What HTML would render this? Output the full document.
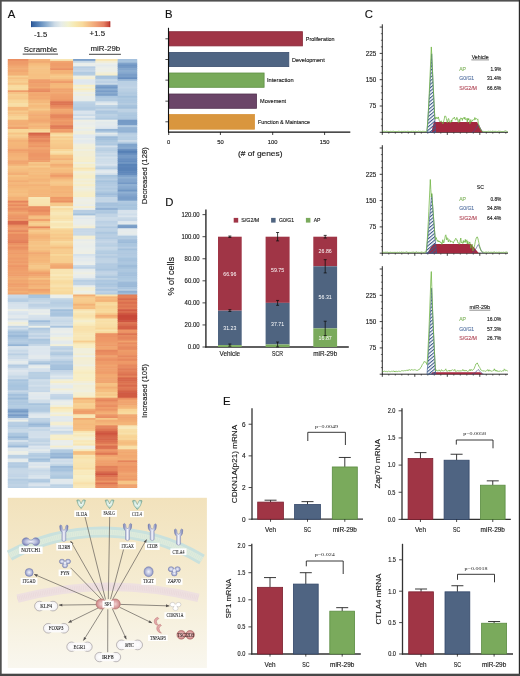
<!DOCTYPE html><html><head><meta charset="utf-8"><style>html,body{margin:0;padding:0;background:#fff;overflow:hidden}svg{display:block;will-change:transform}text{font-family:"Liberation Sans",sans-serif}</style></head><body>
<svg width="520" height="676" viewBox="0 0 520 676">
<defs>
<linearGradient id="cbar" x1="0" x2="1" y1="0" y2="0">
<stop offset="0" stop-color="#2c5a9a"/><stop offset="0.1" stop-color="#5a86ba"/><stop offset="0.2" stop-color="#92b2d2"/><stop offset="0.3" stop-color="#cddbe6"/>
<stop offset="0.38" stop-color="#e6ecea"/><stop offset="0.47" stop-color="#f2f2d0"/><stop offset="0.56" stop-color="#f7e8b0"/><stop offset="0.65" stop-color="#f8da9c"/>
<stop offset="0.73" stop-color="#f5c088"/><stop offset="0.82" stop-color="#f0a276"/><stop offset="0.92" stop-color="#e47e62"/><stop offset="1" stop-color="#c03a30"/>
</linearGradient>
<linearGradient id="netbg" x1="0" x2="0" y1="0" y2="1">
<stop offset="0" stop-color="#f2e2bc"/><stop offset="0.5" stop-color="#f5ecd2"/><stop offset="1" stop-color="#f9f7ef"/>
</linearGradient>
<pattern id="hatch" width="2.6" height="2.6" patternUnits="userSpaceOnUse" patternTransform="rotate(-40)">
<rect width="2.6" height="1.1" fill="#3d5a8c"/>
</pattern>
<radialGradient id="gblue" cx="0.5" cy="0.5" r="0.55"><stop offset="0" stop-color="#f2f3fa"/><stop offset="0.6" stop-color="#b4bada"/><stop offset="1" stop-color="#7880b6"/></radialGradient>
<radialGradient id="gmint" cx="0.5" cy="0.4" r="0.6"><stop offset="0" stop-color="#fbfefc"/><stop offset="0.6" stop-color="#cfe8de"/><stop offset="1" stop-color="#7cb1a0"/></radialGradient>
<radialGradient id="gred" cx="0.5" cy="0.5" r="0.6"><stop offset="0" stop-color="#f0d0d0"/><stop offset="0.6" stop-color="#d89a9a"/><stop offset="1" stop-color="#b86a6a"/></radialGradient>
<radialGradient id="ggray" cx="0.5" cy="0.5" r="0.6"><stop offset="0" stop-color="#ffffff"/><stop offset="0.7" stop-color="#f4f2f4"/><stop offset="1" stop-color="#dcd8dc"/></radialGradient>
<linearGradient id="gteal" x1="0" x2="0" y1="0" y2="1"><stop offset="0" stop-color="#c8e6e0"/><stop offset="1" stop-color="#6fa79c"/></linearGradient>
<linearGradient id="grecep" x1="0" x2="1" y1="0" y2="0"><stop offset="0" stop-color="#6c76ae"/><stop offset="0.5" stop-color="#f4f5fb"/><stop offset="1" stop-color="#6c76ae"/></linearGradient>
</defs>
<rect x="0.00" y="0.00" width="520.00" height="676.00" fill="#ffffff" />
<text x="7.70" y="17.60" font-size="11.3" text-anchor="start" fill="#111" stroke="#111" stroke-width="0.14" >A</text>
<rect x="31.00" y="21.30" width="79.20" height="5.80" fill="url(#cbar)" />
<rect x="31.00" y="21.30" width="0.80" height="5.80" fill="#2a5090" />
<rect x="109.40" y="21.30" width="0.80" height="5.80" fill="#b0302a" />
<text x="40.60" y="36.50" font-size="7.0" text-anchor="middle" fill="#222" stroke="#222" stroke-width="0.14" textLength="13.2" lengthAdjust="spacingAndGlyphs" >-1.5</text>
<text x="97.30" y="36.40" font-size="7.0" text-anchor="middle" fill="#222" stroke="#222" stroke-width="0.14" textLength="15.5" lengthAdjust="spacingAndGlyphs" >+1.5</text>
<text x="40.50" y="51.50" font-size="8.0" text-anchor="middle" fill="#222" stroke="#222" stroke-width="0.14" textLength="33.4" lengthAdjust="spacingAndGlyphs" >Scramble</text>
<line x1="22.70" y1="54.10" x2="58.00" y2="54.10" stroke="#444" stroke-width="1.0" />
<text x="105.30" y="51.20" font-size="8.0" text-anchor="middle" fill="#222" stroke="#222" stroke-width="0.14" textLength="29.6" lengthAdjust="spacingAndGlyphs" >miR-29b</text>
<line x1="89.00" y1="54.30" x2="120.90" y2="54.30" stroke="#444" stroke-width="1.0" />
<rect x="7.80" y="59.00" width="21.20" height="2.44" fill="#ea8f62" />
<rect x="7.80" y="60.84" width="21.20" height="2.44" fill="#ee9b69" />
<rect x="7.80" y="62.68" width="21.20" height="2.44" fill="#ee9c69" />
<rect x="7.80" y="64.52" width="21.20" height="2.44" fill="#f0a36e" />
<rect x="7.80" y="66.36" width="21.20" height="2.44" fill="#f1aa72" />
<rect x="7.80" y="68.20" width="21.20" height="2.44" fill="#f2ac73" />
<rect x="7.80" y="70.04" width="21.20" height="2.44" fill="#f1a770" />
<rect x="7.80" y="71.88" width="21.20" height="2.44" fill="#f3b076" />
<rect x="7.80" y="73.72" width="21.20" height="2.44" fill="#f3b076" />
<rect x="7.80" y="75.56" width="21.20" height="2.44" fill="#f7d092" />
<rect x="7.80" y="77.40" width="21.20" height="2.44" fill="#f6c183" />
<rect x="7.80" y="79.24" width="21.20" height="2.44" fill="#f7ca8c" />
<rect x="7.80" y="81.08" width="21.20" height="2.44" fill="#f7ce90" />
<rect x="7.80" y="82.92" width="21.20" height="2.44" fill="#f6c385" />
<rect x="7.80" y="84.76" width="21.20" height="2.44" fill="#f8da9e" />
<rect x="7.80" y="86.60" width="21.20" height="2.44" fill="#f8dda3" />
<rect x="7.80" y="88.44" width="21.20" height="2.44" fill="#f8da9e" />
<rect x="7.80" y="90.28" width="21.20" height="2.44" fill="#ef9d6a" />
<rect x="7.80" y="92.12" width="21.20" height="2.44" fill="#f6c385" />
<rect x="7.80" y="93.96" width="21.20" height="2.44" fill="#f7cf91" />
<rect x="7.80" y="95.80" width="21.20" height="2.44" fill="#f7cb8d" />
<rect x="7.80" y="97.64" width="21.20" height="2.44" fill="#f7c98b" />
<rect x="7.80" y="99.48" width="21.20" height="2.44" fill="#f8d799" />
<rect x="7.80" y="101.32" width="21.20" height="2.44" fill="#f8d89a" />
<rect x="7.80" y="103.16" width="21.20" height="2.44" fill="#f8dfa7" />
<rect x="7.80" y="105.00" width="21.20" height="2.44" fill="#f8dea5" />
<rect x="7.80" y="106.84" width="21.20" height="2.44" fill="#f5b87b" />
<rect x="7.80" y="108.68" width="21.20" height="2.44" fill="#f4b77a" />
<rect x="7.80" y="110.52" width="21.20" height="2.44" fill="#f7ca8c" />
<rect x="7.80" y="112.36" width="21.20" height="2.44" fill="#f6c082" />
<rect x="7.80" y="114.20" width="21.20" height="2.44" fill="#f7ca8c" />
<rect x="7.80" y="116.04" width="21.20" height="2.44" fill="#f7d395" />
<rect x="7.80" y="117.88" width="21.20" height="2.44" fill="#f8d698" />
<rect x="7.80" y="119.71" width="21.20" height="2.44" fill="#f3b176" />
<rect x="7.80" y="121.55" width="21.20" height="2.44" fill="#f3af75" />
<rect x="7.80" y="123.39" width="21.20" height="2.44" fill="#f2ae75" />
<rect x="7.80" y="125.23" width="21.20" height="2.44" fill="#f3b076" />
<rect x="7.80" y="127.07" width="21.20" height="2.44" fill="#ee9d6a" />
<rect x="7.80" y="128.91" width="21.20" height="2.44" fill="#f8d799" />
<rect x="7.80" y="130.75" width="21.20" height="2.44" fill="#f8d89a" />
<rect x="7.80" y="132.59" width="21.20" height="2.44" fill="#f6c486" />
<rect x="7.80" y="134.43" width="21.20" height="2.44" fill="#f7d193" />
<rect x="7.80" y="136.27" width="21.20" height="2.44" fill="#f6c88a" />
<rect x="7.80" y="138.11" width="21.20" height="2.44" fill="#f5bc7e" />
<rect x="7.80" y="139.95" width="21.20" height="2.44" fill="#f3b177" />
<rect x="7.80" y="141.79" width="21.20" height="2.44" fill="#f4b77a" />
<rect x="7.80" y="143.63" width="21.20" height="2.44" fill="#f4b679" />
<rect x="7.80" y="145.47" width="21.20" height="2.44" fill="#f4b478" />
<rect x="7.80" y="147.31" width="21.20" height="2.44" fill="#f3b176" />
<rect x="7.80" y="149.15" width="21.20" height="2.44" fill="#ef9e6b" />
<rect x="7.80" y="150.99" width="21.20" height="2.44" fill="#f1a770" />
<rect x="7.80" y="152.83" width="21.20" height="2.44" fill="#f3b076" />
<rect x="7.80" y="154.67" width="21.20" height="2.44" fill="#f3b176" />
<rect x="7.80" y="156.51" width="21.20" height="2.44" fill="#f4b579" />
<rect x="7.80" y="158.35" width="21.20" height="2.44" fill="#f4b579" />
<rect x="7.80" y="160.19" width="21.20" height="2.44" fill="#f0a56f" />
<rect x="7.80" y="162.03" width="21.20" height="2.44" fill="#f1a670" />
<rect x="7.80" y="163.87" width="21.20" height="2.44" fill="#f3b177" />
<rect x="7.80" y="165.71" width="21.20" height="2.44" fill="#f6c587" />
<rect x="7.80" y="167.55" width="21.20" height="2.44" fill="#f6c183" />
<rect x="7.80" y="169.39" width="21.20" height="2.44" fill="#f5bd7f" />
<rect x="7.80" y="171.23" width="21.20" height="2.44" fill="#f4b679" />
<rect x="7.80" y="173.07" width="21.20" height="2.44" fill="#f2ad74" />
<rect x="7.80" y="174.91" width="21.20" height="2.44" fill="#f6c385" />
<rect x="7.80" y="176.75" width="21.20" height="2.44" fill="#f5bb7d" />
<rect x="7.80" y="178.59" width="21.20" height="2.44" fill="#f5b97c" />
<rect x="7.80" y="180.43" width="21.20" height="2.44" fill="#f2ad74" />
<rect x="7.80" y="182.27" width="21.20" height="2.44" fill="#f5b87b" />
<rect x="7.80" y="184.11" width="21.20" height="2.44" fill="#f3b277" />
<rect x="7.80" y="185.95" width="21.20" height="2.44" fill="#f4b679" />
<rect x="7.80" y="187.79" width="21.20" height="2.44" fill="#f5ba7c" />
<rect x="7.80" y="189.63" width="21.20" height="2.44" fill="#f5be80" />
<rect x="7.80" y="191.47" width="21.20" height="2.44" fill="#f5bb7d" />
<rect x="7.80" y="193.31" width="21.20" height="2.44" fill="#f6c082" />
<rect x="7.80" y="195.15" width="21.20" height="2.44" fill="#f5bb7d" />
<rect x="7.80" y="196.99" width="21.20" height="2.44" fill="#f3b076" />
<rect x="7.80" y="198.83" width="21.20" height="2.44" fill="#f3b277" />
<rect x="7.80" y="200.67" width="21.20" height="2.44" fill="#e5845c" />
<rect x="7.80" y="202.51" width="21.20" height="2.44" fill="#ef9e6b" />
<rect x="7.80" y="204.35" width="21.20" height="2.44" fill="#e88a5f" />
<rect x="7.80" y="206.19" width="21.20" height="2.44" fill="#ee9a68" />
<rect x="7.80" y="208.03" width="21.20" height="2.44" fill="#e98e62" />
<rect x="7.80" y="209.87" width="21.20" height="2.44" fill="#ed9766" />
<rect x="7.80" y="211.71" width="21.20" height="2.44" fill="#f1a972" />
<rect x="7.80" y="213.55" width="21.20" height="2.44" fill="#ef9e6b" />
<rect x="7.80" y="215.39" width="21.20" height="2.44" fill="#ed9766" />
<rect x="7.80" y="217.23" width="21.20" height="2.44" fill="#eb9364" />
<rect x="7.80" y="219.07" width="21.20" height="2.44" fill="#ee9c6a" />
<rect x="7.80" y="220.91" width="21.20" height="2.44" fill="#d8694c" />
<rect x="7.80" y="222.75" width="21.20" height="2.44" fill="#d7684b" />
<rect x="7.80" y="224.59" width="21.20" height="2.44" fill="#e98e61" />
<rect x="7.80" y="226.43" width="21.20" height="2.44" fill="#ee9968" />
<rect x="7.80" y="228.27" width="21.20" height="2.44" fill="#ee9b69" />
<rect x="7.80" y="230.11" width="21.20" height="2.44" fill="#e6885e" />
<rect x="7.80" y="231.95" width="21.20" height="2.44" fill="#ef9d6a" />
<rect x="7.80" y="233.79" width="21.20" height="2.44" fill="#e88a5f" />
<rect x="7.80" y="235.62" width="21.20" height="2.44" fill="#e88b60" />
<rect x="7.80" y="237.46" width="21.20" height="2.44" fill="#e88b60" />
<rect x="7.80" y="239.30" width="21.20" height="2.44" fill="#e5845c" />
<rect x="7.80" y="241.14" width="21.20" height="2.44" fill="#e27e58" />
<rect x="7.80" y="242.98" width="21.20" height="2.44" fill="#eb9163" />
<rect x="7.80" y="244.82" width="21.20" height="2.44" fill="#ee9c6a" />
<rect x="7.80" y="246.66" width="21.20" height="2.44" fill="#e98e61" />
<rect x="7.80" y="248.50" width="21.20" height="2.44" fill="#ec9565" />
<rect x="7.80" y="250.34" width="21.20" height="2.44" fill="#ef9f6c" />
<rect x="7.80" y="252.18" width="21.20" height="2.44" fill="#ee9b69" />
<rect x="7.80" y="254.02" width="21.20" height="2.44" fill="#f0a26d" />
<rect x="7.80" y="255.86" width="21.20" height="2.44" fill="#f0a36e" />
<rect x="7.80" y="257.70" width="21.20" height="2.44" fill="#ee9c6a" />
<rect x="7.80" y="259.54" width="21.20" height="2.44" fill="#efa16d" />
<rect x="7.80" y="261.38" width="21.20" height="2.44" fill="#ee9b69" />
<rect x="7.80" y="263.22" width="21.20" height="2.44" fill="#f0a16d" />
<rect x="7.80" y="265.06" width="21.20" height="2.44" fill="#ed9666" />
<rect x="7.80" y="266.90" width="21.20" height="2.44" fill="#ef9d6b" />
<rect x="7.80" y="268.74" width="21.20" height="2.44" fill="#ef9e6b" />
<rect x="7.80" y="270.58" width="21.20" height="2.44" fill="#f0a26e" />
<rect x="7.80" y="272.42" width="21.20" height="2.44" fill="#ef9f6c" />
<rect x="7.80" y="274.26" width="21.20" height="2.44" fill="#ef9e6b" />
<rect x="7.80" y="276.10" width="21.20" height="2.44" fill="#f1a972" />
<rect x="7.80" y="277.94" width="21.20" height="2.44" fill="#f2af75" />
<rect x="7.80" y="279.78" width="21.20" height="2.44" fill="#f0a56f" />
<rect x="7.80" y="281.62" width="21.20" height="2.44" fill="#f1a971" />
<rect x="7.80" y="283.46" width="21.20" height="2.44" fill="#ef9e6b" />
<rect x="7.80" y="285.30" width="21.20" height="2.44" fill="#f0a26d" />
<rect x="7.80" y="287.14" width="21.20" height="2.44" fill="#f1aa72" />
<rect x="7.80" y="288.98" width="21.20" height="2.44" fill="#f0a46f" />
<rect x="7.80" y="290.82" width="21.20" height="2.44" fill="#f3b076" />
<rect x="7.80" y="292.66" width="21.20" height="2.44" fill="#f0a46f" />
<rect x="7.80" y="294.50" width="21.20" height="2.44" fill="#cadae8" />
<rect x="7.80" y="296.34" width="21.20" height="2.44" fill="#c6d7e7" />
<rect x="7.80" y="298.19" width="21.20" height="2.44" fill="#b9cfe3" />
<rect x="7.80" y="300.03" width="21.20" height="2.44" fill="#b5cce2" />
<rect x="7.80" y="301.87" width="21.20" height="2.44" fill="#d1dfea" />
<rect x="7.80" y="303.71" width="21.20" height="2.44" fill="#d7e2ec" />
<rect x="7.80" y="305.56" width="21.20" height="2.44" fill="#d6e2ec" />
<rect x="7.80" y="307.40" width="21.20" height="2.44" fill="#d9e4ec" />
<rect x="7.80" y="309.24" width="21.20" height="2.44" fill="#edefe7" />
<rect x="7.80" y="311.09" width="21.20" height="2.44" fill="#dde7ee" />
<rect x="7.80" y="312.93" width="21.20" height="2.44" fill="#d9e4ed" />
<rect x="7.80" y="314.77" width="21.20" height="2.44" fill="#e2e9ed" />
<rect x="7.80" y="316.61" width="21.20" height="2.44" fill="#e4eaec" />
<rect x="7.80" y="318.46" width="21.20" height="2.44" fill="#d0deea" />
<rect x="7.80" y="320.30" width="21.20" height="2.44" fill="#e8edeb" />
<rect x="7.80" y="322.14" width="21.20" height="2.44" fill="#f1efd9" />
<rect x="7.80" y="323.99" width="21.20" height="2.44" fill="#eeefe4" />
<rect x="7.80" y="325.83" width="21.20" height="2.44" fill="#c2d5e6" />
<rect x="7.80" y="327.67" width="21.20" height="2.44" fill="#d2dfeb" />
<rect x="7.80" y="329.51" width="21.20" height="2.44" fill="#b7cee2" />
<rect x="7.80" y="331.36" width="21.20" height="2.44" fill="#a2bfdb" />
<rect x="7.80" y="333.20" width="21.20" height="2.44" fill="#a7c3de" />
<rect x="7.80" y="335.04" width="21.20" height="2.44" fill="#99b8d7" />
<rect x="7.80" y="336.89" width="21.20" height="2.44" fill="#a7c3de" />
<rect x="7.80" y="338.73" width="21.20" height="2.44" fill="#b0c9e0" />
<rect x="7.80" y="340.57" width="21.20" height="2.44" fill="#b7cee3" />
<rect x="7.80" y="342.41" width="21.20" height="2.44" fill="#afc8e0" />
<rect x="7.80" y="344.26" width="21.20" height="2.44" fill="#94b4d5" />
<rect x="7.80" y="346.10" width="21.20" height="2.44" fill="#d9e4ed" />
<rect x="7.80" y="347.94" width="21.20" height="2.44" fill="#d6e2ec" />
<rect x="7.80" y="349.79" width="21.20" height="2.44" fill="#c8d9e8" />
<rect x="7.80" y="351.63" width="21.20" height="2.44" fill="#cfddea" />
<rect x="7.80" y="353.47" width="21.20" height="2.44" fill="#b9cfe3" />
<rect x="7.80" y="355.31" width="21.20" height="2.44" fill="#cbdbe8" />
<rect x="7.80" y="357.16" width="21.20" height="2.44" fill="#ccdbe9" />
<rect x="7.80" y="359.00" width="21.20" height="2.44" fill="#dbe5ed" />
<rect x="7.80" y="360.84" width="21.20" height="2.44" fill="#e6ecec" />
<rect x="7.80" y="362.69" width="21.20" height="2.44" fill="#e1e9ed" />
<rect x="7.80" y="364.53" width="21.20" height="2.44" fill="#b3cbe1" />
<rect x="7.80" y="366.37" width="21.20" height="2.44" fill="#bed2e5" />
<rect x="7.80" y="368.21" width="21.20" height="2.44" fill="#d5e1eb" />
<rect x="7.80" y="370.06" width="21.20" height="2.44" fill="#dfe7ee" />
<rect x="7.80" y="371.90" width="21.20" height="2.44" fill="#d8e3ec" />
<rect x="7.80" y="373.74" width="21.20" height="2.44" fill="#d5e1eb" />
<rect x="7.80" y="375.59" width="21.20" height="2.44" fill="#c6d8e7" />
<rect x="7.80" y="377.43" width="21.20" height="2.44" fill="#cbdbe8" />
<rect x="7.80" y="379.27" width="21.20" height="2.44" fill="#a8c4de" />
<rect x="7.80" y="381.11" width="21.20" height="2.44" fill="#afc9e0" />
<rect x="7.80" y="382.96" width="21.20" height="2.44" fill="#acc7df" />
<rect x="7.80" y="384.80" width="21.20" height="2.44" fill="#a7c4de" />
<rect x="7.80" y="386.64" width="21.20" height="2.44" fill="#aac5df" />
<rect x="7.80" y="388.49" width="21.20" height="2.44" fill="#aac5de" />
<rect x="7.80" y="390.33" width="21.20" height="2.44" fill="#c7d8e7" />
<rect x="7.80" y="392.17" width="21.20" height="2.44" fill="#b7cee3" />
<rect x="7.80" y="394.01" width="21.20" height="2.44" fill="#a3c0dc" />
<rect x="7.80" y="395.86" width="21.20" height="2.44" fill="#aec8e0" />
<rect x="7.80" y="397.70" width="21.20" height="2.44" fill="#9bbad8" />
<rect x="7.80" y="399.54" width="21.20" height="2.44" fill="#b3cbe1" />
<rect x="7.80" y="401.39" width="21.20" height="2.44" fill="#adc7df" />
<rect x="7.80" y="403.23" width="21.20" height="2.44" fill="#aec8e0" />
<rect x="7.80" y="405.07" width="21.20" height="2.44" fill="#b5cde2" />
<rect x="7.80" y="406.91" width="21.20" height="2.44" fill="#b4cce2" />
<rect x="7.80" y="408.76" width="21.20" height="2.44" fill="#87a9cf" />
<rect x="7.80" y="410.60" width="21.20" height="2.44" fill="#769bc6" />
<rect x="7.80" y="412.44" width="21.20" height="2.44" fill="#95b4d5" />
<rect x="7.80" y="414.29" width="21.20" height="2.44" fill="#779bc7" />
<rect x="7.80" y="416.13" width="21.20" height="2.44" fill="#8bacd0" />
<rect x="7.80" y="417.97" width="21.20" height="2.44" fill="#d6e2ec" />
<rect x="7.80" y="419.81" width="21.20" height="2.44" fill="#ecefe9" />
<rect x="7.80" y="421.66" width="21.20" height="2.44" fill="#b9cfe3" />
<rect x="7.80" y="423.50" width="21.20" height="2.44" fill="#b8cee3" />
<rect x="7.80" y="425.34" width="21.20" height="2.44" fill="#b1cae1" />
<rect x="7.80" y="427.19" width="21.20" height="2.44" fill="#bfd3e5" />
<rect x="7.80" y="429.03" width="21.20" height="2.44" fill="#c8d9e7" />
<rect x="7.80" y="430.87" width="21.20" height="2.44" fill="#c9d9e8" />
<rect x="7.80" y="432.71" width="21.20" height="2.44" fill="#aec8e0" />
<rect x="7.80" y="434.56" width="21.20" height="2.44" fill="#acc7df" />
<rect x="7.80" y="436.40" width="21.20" height="2.44" fill="#97b6d6" />
<rect x="7.80" y="438.24" width="21.20" height="2.44" fill="#adc7df" />
<rect x="7.80" y="440.09" width="21.20" height="2.44" fill="#d7e2ec" />
<rect x="7.80" y="441.93" width="21.20" height="2.44" fill="#c0d3e5" />
<rect x="7.80" y="443.77" width="21.20" height="2.44" fill="#b7cde2" />
<rect x="7.80" y="445.61" width="21.20" height="2.44" fill="#9cbad8" />
<rect x="7.80" y="447.46" width="21.20" height="2.44" fill="#dfe8ee" />
<rect x="7.80" y="449.30" width="21.20" height="2.44" fill="#e0e8ed" />
<rect x="7.80" y="451.14" width="21.20" height="2.44" fill="#edefe6" />
<rect x="7.80" y="452.99" width="21.20" height="2.44" fill="#ebeeea" />
<rect x="7.80" y="454.83" width="21.20" height="2.44" fill="#bad0e3" />
<rect x="7.80" y="456.67" width="21.20" height="2.44" fill="#bbd0e4" />
<rect x="7.80" y="458.51" width="21.20" height="2.44" fill="#e5ebec" />
<rect x="7.80" y="460.36" width="21.20" height="2.44" fill="#e6ecec" />
<rect x="7.80" y="462.20" width="21.20" height="2.44" fill="#b3cbe1" />
<rect x="7.80" y="464.04" width="21.20" height="2.44" fill="#b5cde2" />
<rect x="7.80" y="465.89" width="21.20" height="2.44" fill="#b0c9e0" />
<rect x="7.80" y="467.73" width="21.20" height="2.44" fill="#c3d6e6" />
<rect x="7.80" y="469.57" width="21.20" height="2.44" fill="#c7d8e7" />
<rect x="7.80" y="471.41" width="21.20" height="2.44" fill="#c7d8e7" />
<rect x="7.80" y="473.26" width="21.20" height="2.44" fill="#c3d5e6" />
<rect x="7.80" y="475.10" width="21.20" height="2.44" fill="#c1d4e6" />
<rect x="7.80" y="476.94" width="21.20" height="2.44" fill="#c9dae8" />
<rect x="7.80" y="478.79" width="21.20" height="2.44" fill="#b3cbe1" />
<rect x="7.80" y="480.63" width="21.20" height="2.44" fill="#bbd0e4" />
<rect x="7.80" y="482.47" width="21.20" height="2.44" fill="#bad0e3" />
<rect x="7.80" y="484.31" width="21.20" height="2.44" fill="#c0d3e5" />
<rect x="7.80" y="486.16" width="21.20" height="1.84" fill="#b9cfe3" />
<rect x="28.40" y="59.00" width="22.40" height="2.44" fill="#f3b277" />
<rect x="28.40" y="60.84" width="22.40" height="2.44" fill="#f1aa72" />
<rect x="28.40" y="62.68" width="22.40" height="2.44" fill="#f5b97b" />
<rect x="28.40" y="64.52" width="22.40" height="2.44" fill="#f6bf81" />
<rect x="28.40" y="66.36" width="22.40" height="2.44" fill="#f6c486" />
<rect x="28.40" y="68.20" width="22.40" height="2.44" fill="#f6c385" />
<rect x="28.40" y="70.04" width="22.40" height="2.44" fill="#f6c284" />
<rect x="28.40" y="71.88" width="22.40" height="2.44" fill="#f6c385" />
<rect x="28.40" y="73.72" width="22.40" height="2.44" fill="#f6c082" />
<rect x="28.40" y="75.56" width="22.40" height="2.44" fill="#f6c183" />
<rect x="28.40" y="77.40" width="22.40" height="2.44" fill="#f6c284" />
<rect x="28.40" y="79.24" width="22.40" height="2.44" fill="#ef9e6b" />
<rect x="28.40" y="81.08" width="22.40" height="2.44" fill="#ee9b69" />
<rect x="28.40" y="82.92" width="22.40" height="2.44" fill="#f0a46f" />
<rect x="28.40" y="84.76" width="22.40" height="2.44" fill="#efa16d" />
<rect x="28.40" y="86.60" width="22.40" height="2.44" fill="#f1aa72" />
<rect x="28.40" y="88.44" width="22.40" height="2.44" fill="#eb9264" />
<rect x="28.40" y="90.28" width="22.40" height="2.44" fill="#e78a5f" />
<rect x="28.40" y="92.12" width="22.40" height="2.44" fill="#f2aa72" />
<rect x="28.40" y="93.96" width="22.40" height="2.44" fill="#f1a770" />
<rect x="28.40" y="95.80" width="22.40" height="2.44" fill="#f2ac73" />
<rect x="28.40" y="97.64" width="22.40" height="2.44" fill="#f1a972" />
<rect x="28.40" y="99.48" width="22.40" height="2.44" fill="#f4b67a" />
<rect x="28.40" y="101.32" width="22.40" height="2.44" fill="#f4b77a" />
<rect x="28.40" y="103.16" width="22.40" height="2.44" fill="#f6c183" />
<rect x="28.40" y="105.00" width="22.40" height="2.44" fill="#f5ba7c" />
<rect x="28.40" y="106.84" width="22.40" height="2.44" fill="#f5be80" />
<rect x="28.40" y="108.68" width="22.40" height="2.44" fill="#f6c98b" />
<rect x="28.40" y="110.52" width="22.40" height="2.44" fill="#f5b87b" />
<rect x="28.40" y="112.36" width="22.40" height="2.44" fill="#f3b378" />
<rect x="28.40" y="114.20" width="22.40" height="2.44" fill="#f2ab73" />
<rect x="28.40" y="116.04" width="22.40" height="2.44" fill="#f3b176" />
<rect x="28.40" y="117.88" width="22.40" height="2.44" fill="#f2ad74" />
<rect x="28.40" y="119.71" width="22.40" height="2.44" fill="#f1a770" />
<rect x="28.40" y="121.55" width="22.40" height="2.44" fill="#f2ae75" />
<rect x="28.40" y="123.39" width="22.40" height="2.44" fill="#f5bb7d" />
<rect x="28.40" y="125.23" width="22.40" height="2.44" fill="#f4b378" />
<rect x="28.40" y="127.07" width="22.40" height="2.44" fill="#f5b97b" />
<rect x="28.40" y="128.91" width="22.40" height="2.44" fill="#f8d496" />
<rect x="28.40" y="130.75" width="22.40" height="2.44" fill="#f8dba0" />
<rect x="28.40" y="132.59" width="22.40" height="2.44" fill="#d56348" />
<rect x="28.40" y="134.43" width="22.40" height="2.44" fill="#de7653" />
<rect x="28.40" y="136.27" width="22.40" height="2.44" fill="#e5845c" />
<rect x="28.40" y="138.11" width="22.40" height="2.44" fill="#ea9062" />
<rect x="28.40" y="139.95" width="22.40" height="2.44" fill="#e6885e" />
<rect x="28.40" y="141.79" width="22.40" height="2.44" fill="#ed9666" />
<rect x="28.40" y="143.63" width="22.40" height="2.44" fill="#ef9e6b" />
<rect x="28.40" y="145.47" width="22.40" height="2.44" fill="#ed9666" />
<rect x="28.40" y="147.31" width="22.40" height="2.44" fill="#f1a670" />
<rect x="28.40" y="149.15" width="22.40" height="2.44" fill="#ef9d6a" />
<rect x="28.40" y="150.99" width="22.40" height="2.44" fill="#ef9d6a" />
<rect x="28.40" y="152.83" width="22.40" height="2.44" fill="#ed9767" />
<rect x="28.40" y="154.67" width="22.40" height="2.44" fill="#ed9666" />
<rect x="28.40" y="156.51" width="22.40" height="2.44" fill="#ee9a68" />
<rect x="28.40" y="158.35" width="22.40" height="2.44" fill="#ed9867" />
<rect x="28.40" y="160.19" width="22.40" height="2.44" fill="#efa06c" />
<rect x="28.40" y="162.03" width="22.40" height="2.44" fill="#f6c688" />
<rect x="28.40" y="163.87" width="22.40" height="2.44" fill="#f5be80" />
<rect x="28.40" y="165.71" width="22.40" height="2.44" fill="#f7cb8d" />
<rect x="28.40" y="167.55" width="22.40" height="2.44" fill="#f5bb7d" />
<rect x="28.40" y="169.39" width="22.40" height="2.44" fill="#f5be80" />
<rect x="28.40" y="171.23" width="22.40" height="2.44" fill="#f5bc7e" />
<rect x="28.40" y="173.07" width="22.40" height="2.44" fill="#f5be80" />
<rect x="28.40" y="174.91" width="22.40" height="2.44" fill="#f5b87b" />
<rect x="28.40" y="176.75" width="22.40" height="2.44" fill="#f5bb7d" />
<rect x="28.40" y="178.59" width="22.40" height="2.44" fill="#f3b378" />
<rect x="28.40" y="180.43" width="22.40" height="2.44" fill="#f4b77a" />
<rect x="28.40" y="182.27" width="22.40" height="2.44" fill="#f5bd7f" />
<rect x="28.40" y="184.11" width="22.40" height="2.44" fill="#f3b176" />
<rect x="28.40" y="185.95" width="22.40" height="2.44" fill="#f5b87b" />
<rect x="28.40" y="187.79" width="22.40" height="2.44" fill="#f5ba7c" />
<rect x="28.40" y="189.63" width="22.40" height="2.44" fill="#f4b67a" />
<rect x="28.40" y="191.47" width="22.40" height="2.44" fill="#f4b77a" />
<rect x="28.40" y="193.31" width="22.40" height="2.44" fill="#f4b579" />
<rect x="28.40" y="195.15" width="22.40" height="2.44" fill="#f4b67a" />
<rect x="28.40" y="196.99" width="22.40" height="2.44" fill="#f8e8b8" />
<rect x="28.40" y="198.83" width="22.40" height="2.44" fill="#f8e5b2" />
<rect x="28.40" y="200.67" width="22.40" height="2.44" fill="#f8e4b1" />
<rect x="28.40" y="202.51" width="22.40" height="2.44" fill="#f8e3af" />
<rect x="28.40" y="204.35" width="22.40" height="2.44" fill="#f8dfa8" />
<rect x="28.40" y="206.19" width="22.40" height="2.44" fill="#e98d61" />
<rect x="28.40" y="208.03" width="22.40" height="2.44" fill="#ea8f62" />
<rect x="28.40" y="209.87" width="22.40" height="2.44" fill="#e7895e" />
<rect x="28.40" y="211.71" width="22.40" height="2.44" fill="#ee9867" />
<rect x="28.40" y="213.55" width="22.40" height="2.44" fill="#ee9968" />
<rect x="28.40" y="215.39" width="22.40" height="2.44" fill="#f5bd7f" />
<rect x="28.40" y="217.23" width="22.40" height="2.44" fill="#f5be80" />
<rect x="28.40" y="219.07" width="22.40" height="2.44" fill="#ef9e6b" />
<rect x="28.40" y="220.91" width="22.40" height="2.44" fill="#f6c486" />
<rect x="28.40" y="222.75" width="22.40" height="2.44" fill="#f7d193" />
<rect x="28.40" y="224.59" width="22.40" height="2.44" fill="#f6c88a" />
<rect x="28.40" y="226.43" width="22.40" height="2.44" fill="#e7895e" />
<rect x="28.40" y="228.27" width="22.40" height="2.44" fill="#f5ba7c" />
<rect x="28.40" y="230.11" width="22.40" height="2.44" fill="#f7ca8c" />
<rect x="28.40" y="231.95" width="22.40" height="2.44" fill="#f6c385" />
<rect x="28.40" y="233.79" width="22.40" height="2.44" fill="#f4b77a" />
<rect x="28.40" y="235.62" width="22.40" height="2.44" fill="#f3b177" />
<rect x="28.40" y="237.46" width="22.40" height="2.44" fill="#f4b579" />
<rect x="28.40" y="239.30" width="22.40" height="2.44" fill="#f5ba7c" />
<rect x="28.40" y="241.14" width="22.40" height="2.44" fill="#f6c284" />
<rect x="28.40" y="242.98" width="22.40" height="2.44" fill="#f6c284" />
<rect x="28.40" y="244.82" width="22.40" height="2.44" fill="#f6c789" />
<rect x="28.40" y="246.66" width="22.40" height="2.44" fill="#f6c183" />
<rect x="28.40" y="248.50" width="22.40" height="2.44" fill="#f6c486" />
<rect x="28.40" y="250.34" width="22.40" height="2.44" fill="#f5b97b" />
<rect x="28.40" y="252.18" width="22.40" height="2.44" fill="#f1a972" />
<rect x="28.40" y="254.02" width="22.40" height="2.44" fill="#f3b277" />
<rect x="28.40" y="255.86" width="22.40" height="2.44" fill="#f4b579" />
<rect x="28.40" y="257.70" width="22.40" height="2.44" fill="#f5b87b" />
<rect x="28.40" y="259.54" width="22.40" height="2.44" fill="#f4b579" />
<rect x="28.40" y="261.38" width="22.40" height="2.44" fill="#f5ba7c" />
<rect x="28.40" y="263.22" width="22.40" height="2.44" fill="#f5bf81" />
<rect x="28.40" y="265.06" width="22.40" height="2.44" fill="#f6c789" />
<rect x="28.40" y="266.90" width="22.40" height="2.44" fill="#f6c88a" />
<rect x="28.40" y="268.74" width="22.40" height="2.44" fill="#f5be80" />
<rect x="28.40" y="270.58" width="22.40" height="2.44" fill="#f2ac73" />
<rect x="28.40" y="272.42" width="22.40" height="2.44" fill="#ef9d6a" />
<rect x="28.40" y="274.26" width="22.40" height="2.44" fill="#f0a56f" />
<rect x="28.40" y="276.10" width="22.40" height="2.44" fill="#f3b176" />
<rect x="28.40" y="277.94" width="22.40" height="2.44" fill="#f6c183" />
<rect x="28.40" y="279.78" width="22.40" height="2.44" fill="#f2ad74" />
<rect x="28.40" y="281.62" width="22.40" height="2.44" fill="#f3b378" />
<rect x="28.40" y="283.46" width="22.40" height="2.44" fill="#f1aa72" />
<rect x="28.40" y="285.30" width="22.40" height="2.44" fill="#f4b478" />
<rect x="28.40" y="287.14" width="22.40" height="2.44" fill="#f4b77a" />
<rect x="28.40" y="288.98" width="22.40" height="2.44" fill="#efa06c" />
<rect x="28.40" y="290.82" width="22.40" height="2.44" fill="#f1a871" />
<rect x="28.40" y="292.66" width="22.40" height="2.44" fill="#f4b77a" />
<rect x="28.40" y="294.50" width="22.40" height="2.44" fill="#a7c3dd" />
<rect x="28.40" y="296.34" width="22.40" height="2.44" fill="#a9c5de" />
<rect x="28.40" y="298.19" width="22.40" height="2.44" fill="#bed2e4" />
<rect x="28.40" y="300.03" width="22.40" height="2.44" fill="#c4d6e6" />
<rect x="28.40" y="301.87" width="22.40" height="2.44" fill="#cedce9" />
<rect x="28.40" y="303.71" width="22.40" height="2.44" fill="#bcd1e4" />
<rect x="28.40" y="305.56" width="22.40" height="2.44" fill="#c0d3e5" />
<rect x="28.40" y="307.40" width="22.40" height="2.44" fill="#cddce9" />
<rect x="28.40" y="309.24" width="22.40" height="2.44" fill="#e8edeb" />
<rect x="28.40" y="311.09" width="22.40" height="2.44" fill="#e6ebec" />
<rect x="28.40" y="312.93" width="22.40" height="2.44" fill="#ecefe9" />
<rect x="28.40" y="314.77" width="22.40" height="2.44" fill="#d7e3ec" />
<rect x="28.40" y="316.61" width="22.40" height="2.44" fill="#d5e1eb" />
<rect x="28.40" y="318.46" width="22.40" height="2.44" fill="#d0deea" />
<rect x="28.40" y="320.30" width="22.40" height="2.44" fill="#9fbcda" />
<rect x="28.40" y="322.14" width="22.40" height="2.44" fill="#b8cee3" />
<rect x="28.40" y="323.99" width="22.40" height="2.44" fill="#c1d4e5" />
<rect x="28.40" y="325.83" width="22.40" height="2.44" fill="#ecefe9" />
<rect x="28.40" y="327.67" width="22.40" height="2.44" fill="#adc7e0" />
<rect x="28.40" y="329.51" width="22.40" height="2.44" fill="#b9cfe3" />
<rect x="28.40" y="331.36" width="22.40" height="2.44" fill="#bed2e4" />
<rect x="28.40" y="333.20" width="22.40" height="2.44" fill="#cadae8" />
<rect x="28.40" y="335.04" width="22.40" height="2.44" fill="#bdd1e4" />
<rect x="28.40" y="336.89" width="22.40" height="2.44" fill="#ccdbe9" />
<rect x="28.40" y="338.73" width="22.40" height="2.44" fill="#a9c5de" />
<rect x="28.40" y="340.57" width="22.40" height="2.44" fill="#b1cae1" />
<rect x="28.40" y="342.41" width="22.40" height="2.44" fill="#b3cbe1" />
<rect x="28.40" y="344.26" width="22.40" height="2.44" fill="#c7d8e7" />
<rect x="28.40" y="346.10" width="22.40" height="2.44" fill="#dee7ee" />
<rect x="28.40" y="347.94" width="22.40" height="2.44" fill="#dce6ed" />
<rect x="28.40" y="349.79" width="22.40" height="2.44" fill="#dee7ee" />
<rect x="28.40" y="351.63" width="22.40" height="2.44" fill="#dde6ee" />
<rect x="28.40" y="353.47" width="22.40" height="2.44" fill="#dee7ee" />
<rect x="28.40" y="355.31" width="22.40" height="2.44" fill="#e4eaec" />
<rect x="28.40" y="357.16" width="22.40" height="2.44" fill="#e2e9ed" />
<rect x="28.40" y="359.00" width="22.40" height="2.44" fill="#d3e0eb" />
<rect x="28.40" y="360.84" width="22.40" height="2.44" fill="#b7cee2" />
<rect x="28.40" y="362.69" width="22.40" height="2.44" fill="#a4c1dc" />
<rect x="28.40" y="364.53" width="22.40" height="2.44" fill="#e0e8ed" />
<rect x="28.40" y="366.37" width="22.40" height="2.44" fill="#e9eeeb" />
<rect x="28.40" y="368.21" width="22.40" height="2.44" fill="#d6e2ec" />
<rect x="28.40" y="370.06" width="22.40" height="2.44" fill="#d6e1eb" />
<rect x="28.40" y="371.90" width="22.40" height="2.44" fill="#b7cee3" />
<rect x="28.40" y="373.74" width="22.40" height="2.44" fill="#bad0e3" />
<rect x="28.40" y="375.59" width="22.40" height="2.44" fill="#b9cfe3" />
<rect x="28.40" y="377.43" width="22.40" height="2.44" fill="#b5cce2" />
<rect x="28.40" y="379.27" width="22.40" height="2.44" fill="#d0deea" />
<rect x="28.40" y="381.11" width="22.40" height="2.44" fill="#cadae8" />
<rect x="28.40" y="382.96" width="22.40" height="2.44" fill="#cadae8" />
<rect x="28.40" y="384.80" width="22.40" height="2.44" fill="#d3e0eb" />
<rect x="28.40" y="386.64" width="22.40" height="2.44" fill="#c7d8e7" />
<rect x="28.40" y="388.49" width="22.40" height="2.44" fill="#cadae8" />
<rect x="28.40" y="390.33" width="22.40" height="2.44" fill="#c5d7e7" />
<rect x="28.40" y="392.17" width="22.40" height="2.44" fill="#e5ebec" />
<rect x="28.40" y="394.01" width="22.40" height="2.44" fill="#e2e9ed" />
<rect x="28.40" y="395.86" width="22.40" height="2.44" fill="#dfe8ee" />
<rect x="28.40" y="397.70" width="22.40" height="2.44" fill="#e2e9ed" />
<rect x="28.40" y="399.54" width="22.40" height="2.44" fill="#d0deea" />
<rect x="28.40" y="401.39" width="22.40" height="2.44" fill="#cfdde9" />
<rect x="28.40" y="403.23" width="22.40" height="2.44" fill="#a7c3dd" />
<rect x="28.40" y="405.07" width="22.40" height="2.44" fill="#b6cde2" />
<rect x="28.40" y="406.91" width="22.40" height="2.44" fill="#b3cbe1" />
<rect x="28.40" y="408.76" width="22.40" height="2.44" fill="#b0c9e0" />
<rect x="28.40" y="410.60" width="22.40" height="2.44" fill="#b6cde2" />
<rect x="28.40" y="412.44" width="22.40" height="2.44" fill="#d4e1eb" />
<rect x="28.40" y="414.29" width="22.40" height="2.44" fill="#e0e8ed" />
<rect x="28.40" y="416.13" width="22.40" height="2.44" fill="#e3eaed" />
<rect x="28.40" y="417.97" width="22.40" height="2.44" fill="#c1d4e5" />
<rect x="28.40" y="419.81" width="22.40" height="2.44" fill="#bfd3e5" />
<rect x="28.40" y="421.66" width="22.40" height="2.44" fill="#b2cae1" />
<rect x="28.40" y="423.50" width="22.40" height="2.44" fill="#98b7d7" />
<rect x="28.40" y="425.34" width="22.40" height="2.44" fill="#a6c2dd" />
<rect x="28.40" y="427.19" width="22.40" height="2.44" fill="#ccdbe9" />
<rect x="28.40" y="429.03" width="22.40" height="2.44" fill="#c4d6e6" />
<rect x="28.40" y="430.87" width="22.40" height="2.44" fill="#d1dfea" />
<rect x="28.40" y="432.71" width="22.40" height="2.44" fill="#d2dfea" />
<rect x="28.40" y="434.56" width="22.40" height="2.44" fill="#d2dfea" />
<rect x="28.40" y="436.40" width="22.40" height="2.44" fill="#d4e1eb" />
<rect x="28.40" y="438.24" width="22.40" height="2.44" fill="#c3d6e6" />
<rect x="28.40" y="440.09" width="22.40" height="2.44" fill="#bed2e4" />
<rect x="28.40" y="441.93" width="22.40" height="2.44" fill="#cddce9" />
<rect x="28.40" y="443.77" width="22.40" height="2.44" fill="#c0d3e5" />
<rect x="28.40" y="445.61" width="22.40" height="2.44" fill="#dde6ee" />
<rect x="28.40" y="447.46" width="22.40" height="2.44" fill="#d7e2ec" />
<rect x="28.40" y="449.30" width="22.40" height="2.44" fill="#e4ebec" />
<rect x="28.40" y="451.14" width="22.40" height="2.44" fill="#d7e3ec" />
<rect x="28.40" y="452.99" width="22.40" height="2.44" fill="#b8cfe3" />
<rect x="28.40" y="454.83" width="22.40" height="2.44" fill="#b1cae1" />
<rect x="28.40" y="456.67" width="22.40" height="2.44" fill="#bdd2e4" />
<rect x="28.40" y="458.51" width="22.40" height="2.44" fill="#a0beda" />
<rect x="28.40" y="460.36" width="22.40" height="2.44" fill="#aec8e0" />
<rect x="28.40" y="462.20" width="22.40" height="2.44" fill="#dfe8ee" />
<rect x="28.40" y="464.04" width="22.40" height="2.44" fill="#dae4ed" />
<rect x="28.40" y="465.89" width="22.40" height="2.44" fill="#e4eaec" />
<rect x="28.40" y="467.73" width="22.40" height="2.44" fill="#d2dfea" />
<rect x="28.40" y="469.57" width="22.40" height="2.44" fill="#c6d7e7" />
<rect x="28.40" y="471.41" width="22.40" height="2.44" fill="#ccdce9" />
<rect x="28.40" y="473.26" width="22.40" height="2.44" fill="#cddce9" />
<rect x="28.40" y="475.10" width="22.40" height="2.44" fill="#d8e3ec" />
<rect x="28.40" y="476.94" width="22.40" height="2.44" fill="#dce6ed" />
<rect x="28.40" y="478.79" width="22.40" height="2.44" fill="#b5cce2" />
<rect x="28.40" y="480.63" width="22.40" height="2.44" fill="#afc9e0" />
<rect x="28.40" y="482.47" width="22.40" height="2.44" fill="#d3e0eb" />
<rect x="28.40" y="484.31" width="22.40" height="2.44" fill="#dae4ed" />
<rect x="28.40" y="486.16" width="22.40" height="1.84" fill="#c3d6e6" />
<rect x="50.20" y="59.00" width="23.50" height="2.44" fill="#f8e7b6" />
<rect x="50.20" y="60.84" width="23.50" height="2.44" fill="#f1a670" />
<rect x="50.20" y="62.68" width="23.50" height="2.44" fill="#ef9d6a" />
<rect x="50.20" y="64.52" width="23.50" height="2.44" fill="#ef9d6a" />
<rect x="50.20" y="66.36" width="23.50" height="2.44" fill="#efa06c" />
<rect x="50.20" y="68.20" width="23.50" height="2.44" fill="#ea9062" />
<rect x="50.20" y="70.04" width="23.50" height="2.44" fill="#f3b277" />
<rect x="50.20" y="71.88" width="23.50" height="2.44" fill="#f3b176" />
<rect x="50.20" y="73.72" width="23.50" height="2.44" fill="#f6c082" />
<rect x="50.20" y="75.56" width="23.50" height="2.44" fill="#f7cb8d" />
<rect x="50.20" y="77.40" width="23.50" height="2.44" fill="#f6c486" />
<rect x="50.20" y="79.24" width="23.50" height="2.44" fill="#f3af75" />
<rect x="50.20" y="81.08" width="23.50" height="2.44" fill="#ee9b69" />
<rect x="50.20" y="82.92" width="23.50" height="2.44" fill="#f4b67a" />
<rect x="50.20" y="84.76" width="23.50" height="2.44" fill="#f5b97b" />
<rect x="50.20" y="86.60" width="23.50" height="2.44" fill="#f5b87b" />
<rect x="50.20" y="88.44" width="23.50" height="2.44" fill="#f0a36e" />
<rect x="50.20" y="90.28" width="23.50" height="2.44" fill="#f0a56f" />
<rect x="50.20" y="92.12" width="23.50" height="2.44" fill="#f1a972" />
<rect x="50.20" y="93.96" width="23.50" height="2.44" fill="#f0a26e" />
<rect x="50.20" y="95.80" width="23.50" height="2.44" fill="#efa06c" />
<rect x="50.20" y="97.64" width="23.50" height="2.44" fill="#ef9f6b" />
<rect x="50.20" y="99.48" width="23.50" height="2.44" fill="#ed9767" />
<rect x="50.20" y="101.32" width="23.50" height="2.44" fill="#dd7452" />
<rect x="50.20" y="103.16" width="23.50" height="2.44" fill="#de7653" />
<rect x="50.20" y="105.00" width="23.50" height="2.44" fill="#e7885e" />
<rect x="50.20" y="106.84" width="23.50" height="2.44" fill="#eb9163" />
<rect x="50.20" y="108.68" width="23.50" height="2.44" fill="#f2ab73" />
<rect x="50.20" y="110.52" width="23.50" height="2.44" fill="#f1a771" />
<rect x="50.20" y="112.36" width="23.50" height="2.44" fill="#ef9f6b" />
<rect x="50.20" y="114.20" width="23.50" height="2.44" fill="#e6875d" />
<rect x="50.20" y="116.04" width="23.50" height="2.44" fill="#e6875d" />
<rect x="50.20" y="117.88" width="23.50" height="2.44" fill="#eb9364" />
<rect x="50.20" y="119.71" width="23.50" height="2.44" fill="#ef9e6b" />
<rect x="50.20" y="121.55" width="23.50" height="2.44" fill="#ec9565" />
<rect x="50.20" y="123.39" width="23.50" height="2.44" fill="#ed9867" />
<rect x="50.20" y="125.23" width="23.50" height="2.44" fill="#e07a56" />
<rect x="50.20" y="127.07" width="23.50" height="2.44" fill="#e27f58" />
<rect x="50.20" y="128.91" width="23.50" height="2.44" fill="#f0a16d" />
<rect x="50.20" y="130.75" width="23.50" height="2.44" fill="#ee9c6a" />
<rect x="50.20" y="132.59" width="23.50" height="2.44" fill="#f8d496" />
<rect x="50.20" y="134.43" width="23.50" height="2.44" fill="#f8e0a9" />
<rect x="50.20" y="136.27" width="23.50" height="2.44" fill="#f7cc8e" />
<rect x="50.20" y="138.11" width="23.50" height="2.44" fill="#f8d496" />
<rect x="50.20" y="139.95" width="23.50" height="2.44" fill="#f7cb8d" />
<rect x="50.20" y="141.79" width="23.50" height="2.44" fill="#f7cd8f" />
<rect x="50.20" y="143.63" width="23.50" height="2.44" fill="#f7c98b" />
<rect x="50.20" y="145.47" width="23.50" height="2.44" fill="#f6c789" />
<rect x="50.20" y="147.31" width="23.50" height="2.44" fill="#f6c385" />
<rect x="50.20" y="149.15" width="23.50" height="2.44" fill="#f8d799" />
<rect x="50.20" y="150.99" width="23.50" height="2.44" fill="#f8e1ac" />
<rect x="50.20" y="152.83" width="23.50" height="2.44" fill="#f8dba0" />
<rect x="50.20" y="154.67" width="23.50" height="2.44" fill="#f5be80" />
<rect x="50.20" y="156.51" width="23.50" height="2.44" fill="#f5be80" />
<rect x="50.20" y="158.35" width="23.50" height="2.44" fill="#f3b177" />
<rect x="50.20" y="160.19" width="23.50" height="2.44" fill="#f6c587" />
<rect x="50.20" y="162.03" width="23.50" height="2.44" fill="#f6c284" />
<rect x="50.20" y="163.87" width="23.50" height="2.44" fill="#f2ad74" />
<rect x="50.20" y="165.71" width="23.50" height="2.44" fill="#f4b579" />
<rect x="50.20" y="167.55" width="23.50" height="2.44" fill="#f6c385" />
<rect x="50.20" y="169.39" width="23.50" height="2.44" fill="#f5bc7e" />
<rect x="50.20" y="171.23" width="23.50" height="2.44" fill="#f5b97c" />
<rect x="50.20" y="173.07" width="23.50" height="2.44" fill="#f1aa72" />
<rect x="50.20" y="174.91" width="23.50" height="2.44" fill="#ee9b69" />
<rect x="50.20" y="176.75" width="23.50" height="2.44" fill="#f2ad74" />
<rect x="50.20" y="178.59" width="23.50" height="2.44" fill="#f5bc7e" />
<rect x="50.20" y="180.43" width="23.50" height="2.44" fill="#f6c688" />
<rect x="50.20" y="182.27" width="23.50" height="2.44" fill="#f6c88a" />
<rect x="50.20" y="184.11" width="23.50" height="2.44" fill="#f6c385" />
<rect x="50.20" y="185.95" width="23.50" height="2.44" fill="#f4b478" />
<rect x="50.20" y="187.79" width="23.50" height="2.44" fill="#f4b478" />
<rect x="50.20" y="189.63" width="23.50" height="2.44" fill="#f4b77a" />
<rect x="50.20" y="191.47" width="23.50" height="2.44" fill="#f3b277" />
<rect x="50.20" y="193.31" width="23.50" height="2.44" fill="#f4b77a" />
<rect x="50.20" y="195.15" width="23.50" height="2.44" fill="#f4b679" />
<rect x="50.20" y="196.99" width="23.50" height="2.44" fill="#ee9a68" />
<rect x="50.20" y="198.83" width="23.50" height="2.44" fill="#efa06c" />
<rect x="50.20" y="200.67" width="23.50" height="2.44" fill="#ea9163" />
<rect x="50.20" y="202.51" width="23.50" height="2.44" fill="#f6c88a" />
<rect x="50.20" y="204.35" width="23.50" height="2.44" fill="#f6c88a" />
<rect x="50.20" y="206.19" width="23.50" height="2.44" fill="#f8e9bb" />
<rect x="50.20" y="208.03" width="23.50" height="2.44" fill="#f8dca2" />
<rect x="50.20" y="209.87" width="23.50" height="2.44" fill="#f8e2ad" />
<rect x="50.20" y="211.71" width="23.50" height="2.44" fill="#f8e8b8" />
<rect x="50.20" y="213.55" width="23.50" height="2.44" fill="#f8e7b8" />
<rect x="50.20" y="215.39" width="23.50" height="2.44" fill="#f8e2ae" />
<rect x="50.20" y="217.23" width="23.50" height="2.44" fill="#f8dfa7" />
<rect x="50.20" y="219.07" width="23.50" height="2.44" fill="#f8e3b0" />
<rect x="50.20" y="220.91" width="23.50" height="2.44" fill="#f8eec5" />
<rect x="50.20" y="222.75" width="23.50" height="2.44" fill="#f8e6b5" />
<rect x="50.20" y="224.59" width="23.50" height="2.44" fill="#f8e6b5" />
<rect x="50.20" y="226.43" width="23.50" height="2.44" fill="#f8ecbf" />
<rect x="50.20" y="228.27" width="23.50" height="2.44" fill="#f8d698" />
<rect x="50.20" y="230.11" width="23.50" height="2.44" fill="#f7cf91" />
<rect x="50.20" y="231.95" width="23.50" height="2.44" fill="#f7d294" />
<rect x="50.20" y="233.79" width="23.50" height="2.44" fill="#f7c98b" />
<rect x="50.20" y="235.62" width="23.50" height="2.44" fill="#f7cd8f" />
<rect x="50.20" y="237.46" width="23.50" height="2.44" fill="#f6c587" />
<rect x="50.20" y="239.30" width="23.50" height="2.44" fill="#f7cd8f" />
<rect x="50.20" y="241.14" width="23.50" height="2.44" fill="#f8da9e" />
<rect x="50.20" y="242.98" width="23.50" height="2.44" fill="#f8d597" />
<rect x="50.20" y="244.82" width="23.50" height="2.44" fill="#f7ce90" />
<rect x="50.20" y="246.66" width="23.50" height="2.44" fill="#f5be80" />
<rect x="50.20" y="248.50" width="23.50" height="2.44" fill="#f7cc8e" />
<rect x="50.20" y="250.34" width="23.50" height="2.44" fill="#f7cc8e" />
<rect x="50.20" y="252.18" width="23.50" height="2.44" fill="#f7cb8d" />
<rect x="50.20" y="254.02" width="23.50" height="2.44" fill="#f8d89a" />
<rect x="50.20" y="255.86" width="23.50" height="2.44" fill="#f7ce90" />
<rect x="50.20" y="257.70" width="23.50" height="2.44" fill="#f7cf91" />
<rect x="50.20" y="259.54" width="23.50" height="2.44" fill="#f7ce90" />
<rect x="50.20" y="261.38" width="23.50" height="2.44" fill="#f7cc8e" />
<rect x="50.20" y="263.22" width="23.50" height="2.44" fill="#f3b176" />
<rect x="50.20" y="265.06" width="23.50" height="2.44" fill="#f1a972" />
<rect x="50.20" y="266.90" width="23.50" height="2.44" fill="#f1a670" />
<rect x="50.20" y="268.74" width="23.50" height="2.44" fill="#f8e4b2" />
<rect x="50.20" y="270.58" width="23.50" height="2.44" fill="#f8e5b3" />
<rect x="50.20" y="272.42" width="23.50" height="2.44" fill="#f8e4b0" />
<rect x="50.20" y="274.26" width="23.50" height="2.44" fill="#f8e9bb" />
<rect x="50.20" y="276.10" width="23.50" height="2.44" fill="#f8e1ab" />
<rect x="50.20" y="277.94" width="23.50" height="2.44" fill="#f8e5b3" />
<rect x="50.20" y="279.78" width="23.50" height="2.44" fill="#f8dda4" />
<rect x="50.20" y="281.62" width="23.50" height="2.44" fill="#f8db9f" />
<rect x="50.20" y="283.46" width="23.50" height="2.44" fill="#f8dfa7" />
<rect x="50.20" y="285.30" width="23.50" height="2.44" fill="#f8e2ad" />
<rect x="50.20" y="287.14" width="23.50" height="2.44" fill="#f8da9e" />
<rect x="50.20" y="288.98" width="23.50" height="2.44" fill="#f8dda4" />
<rect x="50.20" y="290.82" width="23.50" height="2.44" fill="#f8da9e" />
<rect x="50.20" y="292.66" width="23.50" height="2.44" fill="#f8d89b" />
<rect x="50.20" y="294.50" width="23.50" height="2.44" fill="#ecefea" />
<rect x="50.20" y="296.34" width="23.50" height="2.44" fill="#eaeeeb" />
<rect x="50.20" y="298.19" width="23.50" height="2.44" fill="#c3d5e6" />
<rect x="50.20" y="300.03" width="23.50" height="2.44" fill="#bcd1e4" />
<rect x="50.20" y="301.87" width="23.50" height="2.44" fill="#b6cde2" />
<rect x="50.20" y="303.71" width="23.50" height="2.44" fill="#bad0e3" />
<rect x="50.20" y="305.56" width="23.50" height="2.44" fill="#bed3e5" />
<rect x="50.20" y="307.40" width="23.50" height="2.44" fill="#cddce9" />
<rect x="50.20" y="309.24" width="23.50" height="2.44" fill="#a1bfdb" />
<rect x="50.20" y="311.09" width="23.50" height="2.44" fill="#adc7e0" />
<rect x="50.20" y="312.93" width="23.50" height="2.44" fill="#a8c4de" />
<rect x="50.20" y="314.77" width="23.50" height="2.44" fill="#aac5df" />
<rect x="50.20" y="316.61" width="23.50" height="2.44" fill="#d0deea" />
<rect x="50.20" y="318.46" width="23.50" height="2.44" fill="#cbdbe8" />
<rect x="50.20" y="320.30" width="23.50" height="2.44" fill="#c5d7e7" />
<rect x="50.20" y="322.14" width="23.50" height="2.44" fill="#cbdbe8" />
<rect x="50.20" y="323.99" width="23.50" height="2.44" fill="#d1dfea" />
<rect x="50.20" y="325.83" width="23.50" height="2.44" fill="#a9c4de" />
<rect x="50.20" y="327.67" width="23.50" height="2.44" fill="#e6ecec" />
<rect x="50.20" y="329.51" width="23.50" height="2.44" fill="#e9edeb" />
<rect x="50.20" y="331.36" width="23.50" height="2.44" fill="#ebeeea" />
<rect x="50.20" y="333.20" width="23.50" height="2.44" fill="#e3eaed" />
<rect x="50.20" y="335.04" width="23.50" height="2.44" fill="#e8edeb" />
<rect x="50.20" y="336.89" width="23.50" height="2.44" fill="#f1efda" />
<rect x="50.20" y="338.73" width="23.50" height="2.44" fill="#efefe1" />
<rect x="50.20" y="340.57" width="23.50" height="2.44" fill="#e4eaec" />
<rect x="50.20" y="342.41" width="23.50" height="2.44" fill="#e4ebec" />
<rect x="50.20" y="344.26" width="23.50" height="2.44" fill="#f2efd8" />
<rect x="50.20" y="346.10" width="23.50" height="2.44" fill="#c1d4e5" />
<rect x="50.20" y="347.94" width="23.50" height="2.44" fill="#bbd0e4" />
<rect x="50.20" y="349.79" width="23.50" height="2.44" fill="#cadae8" />
<rect x="50.20" y="351.63" width="23.50" height="2.44" fill="#b6cde2" />
<rect x="50.20" y="353.47" width="23.50" height="2.44" fill="#afc8e0" />
<rect x="50.20" y="355.31" width="23.50" height="2.44" fill="#c5d7e7" />
<rect x="50.20" y="357.16" width="23.50" height="2.44" fill="#ccdbe9" />
<rect x="50.20" y="359.00" width="23.50" height="2.44" fill="#c2d5e6" />
<rect x="50.20" y="360.84" width="23.50" height="2.44" fill="#aec8e0" />
<rect x="50.20" y="362.69" width="23.50" height="2.44" fill="#b5cce2" />
<rect x="50.20" y="364.53" width="23.50" height="2.44" fill="#a6c2dd" />
<rect x="50.20" y="366.37" width="23.50" height="2.44" fill="#a5c2dd" />
<rect x="50.20" y="368.21" width="23.50" height="2.44" fill="#a1bedb" />
<rect x="50.20" y="370.06" width="23.50" height="2.44" fill="#c3d5e6" />
<rect x="50.20" y="371.90" width="23.50" height="2.44" fill="#c9d9e8" />
<rect x="50.20" y="373.74" width="23.50" height="2.44" fill="#d1dfea" />
<rect x="50.20" y="375.59" width="23.50" height="2.44" fill="#e0e8ed" />
<rect x="50.20" y="377.43" width="23.50" height="2.44" fill="#d4e1eb" />
<rect x="50.20" y="379.27" width="23.50" height="2.44" fill="#f1efd9" />
<rect x="50.20" y="381.11" width="23.50" height="2.44" fill="#f6eeca" />
<rect x="50.20" y="382.96" width="23.50" height="2.44" fill="#eeefe4" />
<rect x="50.20" y="384.80" width="23.50" height="2.44" fill="#e7ecec" />
<rect x="50.20" y="386.64" width="23.50" height="2.44" fill="#e6ecec" />
<rect x="50.20" y="388.49" width="23.50" height="2.44" fill="#f3eed5" />
<rect x="50.20" y="390.33" width="23.50" height="2.44" fill="#ebefea" />
<rect x="50.20" y="392.17" width="23.50" height="2.44" fill="#e4ebec" />
<rect x="50.20" y="394.01" width="23.50" height="2.44" fill="#c6d7e7" />
<rect x="50.20" y="395.86" width="23.50" height="2.44" fill="#c2d5e6" />
<rect x="50.20" y="397.70" width="23.50" height="2.44" fill="#bed3e5" />
<rect x="50.20" y="399.54" width="23.50" height="2.44" fill="#e3eaec" />
<rect x="50.20" y="401.39" width="23.50" height="2.44" fill="#ecefea" />
<rect x="50.20" y="403.23" width="23.50" height="2.44" fill="#e8edeb" />
<rect x="50.20" y="405.07" width="23.50" height="2.44" fill="#f1efdb" />
<rect x="50.20" y="406.91" width="23.50" height="2.44" fill="#f8e5b3" />
<rect x="50.20" y="408.76" width="23.50" height="2.44" fill="#f8ecc0" />
<rect x="50.20" y="410.60" width="23.50" height="2.44" fill="#f6eec9" />
<rect x="50.20" y="412.44" width="23.50" height="2.44" fill="#eeefe3" />
<rect x="50.20" y="414.29" width="23.50" height="2.44" fill="#f5eece" />
<rect x="50.20" y="416.13" width="23.50" height="2.44" fill="#e2e9ed" />
<rect x="50.20" y="417.97" width="23.50" height="2.44" fill="#e4eaec" />
<rect x="50.20" y="419.81" width="23.50" height="2.44" fill="#e1e9ed" />
<rect x="50.20" y="421.66" width="23.50" height="2.44" fill="#f3eed3" />
<rect x="50.20" y="423.50" width="23.50" height="2.44" fill="#f5eecf" />
<rect x="50.20" y="425.34" width="23.50" height="2.44" fill="#e4eaec" />
<rect x="50.20" y="427.19" width="23.50" height="2.44" fill="#d6e2ec" />
<rect x="50.20" y="429.03" width="23.50" height="2.44" fill="#e1e9ed" />
<rect x="50.20" y="430.87" width="23.50" height="2.44" fill="#c7d8e7" />
<rect x="50.20" y="432.71" width="23.50" height="2.44" fill="#d2dfea" />
<rect x="50.20" y="434.56" width="23.50" height="2.44" fill="#f6eec9" />
<rect x="50.20" y="436.40" width="23.50" height="2.44" fill="#f5eecd" />
<rect x="50.20" y="438.24" width="23.50" height="2.44" fill="#f8edc3" />
<rect x="50.20" y="440.09" width="23.50" height="2.44" fill="#e9edeb" />
<rect x="50.20" y="441.93" width="23.50" height="2.44" fill="#eaeeea" />
<rect x="50.20" y="443.77" width="23.50" height="2.44" fill="#e8edeb" />
<rect x="50.20" y="445.61" width="23.50" height="2.44" fill="#f5eece" />
<rect x="50.20" y="447.46" width="23.50" height="2.44" fill="#e6ecec" />
<rect x="50.20" y="449.30" width="23.50" height="2.44" fill="#b2cbe1" />
<rect x="50.20" y="451.14" width="23.50" height="2.44" fill="#afc9e0" />
<rect x="50.20" y="452.99" width="23.50" height="2.44" fill="#9ab8d7" />
<rect x="50.20" y="454.83" width="23.50" height="2.44" fill="#9fbdda" />
<rect x="50.20" y="456.67" width="23.50" height="2.44" fill="#91b1d3" />
<rect x="50.20" y="458.51" width="23.50" height="2.44" fill="#d3e0eb" />
<rect x="50.20" y="460.36" width="23.50" height="2.44" fill="#cddce9" />
<rect x="50.20" y="462.20" width="23.50" height="2.44" fill="#d2dfea" />
<rect x="50.20" y="464.04" width="23.50" height="2.44" fill="#c3d6e6" />
<rect x="50.20" y="465.89" width="23.50" height="2.44" fill="#9dbbd9" />
<rect x="50.20" y="467.73" width="23.50" height="2.44" fill="#a9c4de" />
<rect x="50.20" y="469.57" width="23.50" height="2.44" fill="#a5c2dd" />
<rect x="50.20" y="471.41" width="23.50" height="2.44" fill="#b6cde2" />
<rect x="50.20" y="473.26" width="23.50" height="2.44" fill="#b7cee2" />
<rect x="50.20" y="475.10" width="23.50" height="2.44" fill="#b0c9e0" />
<rect x="50.20" y="476.94" width="23.50" height="2.44" fill="#acc7df" />
<rect x="50.20" y="478.79" width="23.50" height="2.44" fill="#e2e9ed" />
<rect x="50.20" y="480.63" width="23.50" height="2.44" fill="#e2e9ed" />
<rect x="50.20" y="482.47" width="23.50" height="2.44" fill="#dfe8ee" />
<rect x="50.20" y="484.31" width="23.50" height="2.44" fill="#bcd1e4" />
<rect x="50.20" y="486.16" width="23.50" height="1.84" fill="#bed3e5" />
<rect x="73.10" y="59.00" width="22.90" height="2.44" fill="#7b9fc9" />
<rect x="73.10" y="60.84" width="22.90" height="2.44" fill="#c4d6e6" />
<rect x="73.10" y="62.68" width="22.90" height="2.44" fill="#eaeeeb" />
<rect x="73.10" y="64.52" width="22.90" height="2.44" fill="#ebeeea" />
<rect x="73.10" y="66.36" width="22.90" height="2.44" fill="#b8cee3" />
<rect x="73.10" y="68.20" width="22.90" height="2.44" fill="#c0d3e5" />
<rect x="73.10" y="70.04" width="22.90" height="2.44" fill="#c5d7e7" />
<rect x="73.10" y="71.88" width="22.90" height="2.44" fill="#b1cae1" />
<rect x="73.10" y="73.72" width="22.90" height="2.44" fill="#b5cde2" />
<rect x="73.10" y="75.56" width="22.90" height="2.44" fill="#efefe1" />
<rect x="73.10" y="77.40" width="22.90" height="2.44" fill="#f3eed5" />
<rect x="73.10" y="79.24" width="22.90" height="2.44" fill="#dfe8ee" />
<rect x="73.10" y="81.08" width="22.90" height="2.44" fill="#dfe7ee" />
<rect x="73.10" y="82.92" width="22.90" height="2.44" fill="#e1e9ed" />
<rect x="73.10" y="84.76" width="22.90" height="2.44" fill="#f8eec5" />
<rect x="73.10" y="86.60" width="22.90" height="2.44" fill="#f1efda" />
<rect x="73.10" y="88.44" width="22.90" height="2.44" fill="#f8edc1" />
<rect x="73.10" y="90.28" width="22.90" height="2.44" fill="#f2efd8" />
<rect x="73.10" y="92.12" width="22.90" height="2.44" fill="#ebeeea" />
<rect x="73.10" y="93.96" width="22.90" height="2.44" fill="#f0efdd" />
<rect x="73.10" y="95.80" width="22.90" height="2.44" fill="#eaeeeb" />
<rect x="73.10" y="97.64" width="22.90" height="2.44" fill="#eaeeea" />
<rect x="73.10" y="99.48" width="22.90" height="2.44" fill="#e8edeb" />
<rect x="73.10" y="101.32" width="22.90" height="2.44" fill="#bed3e5" />
<rect x="73.10" y="103.16" width="22.90" height="2.44" fill="#b9cfe3" />
<rect x="73.10" y="105.00" width="22.90" height="2.44" fill="#b9cfe3" />
<rect x="73.10" y="106.84" width="22.90" height="2.44" fill="#b2cbe1" />
<rect x="73.10" y="108.68" width="22.90" height="2.44" fill="#b3cbe1" />
<rect x="73.10" y="110.52" width="22.90" height="2.44" fill="#dae4ed" />
<rect x="73.10" y="112.36" width="22.90" height="2.44" fill="#d9e4ec" />
<rect x="73.10" y="114.20" width="22.90" height="2.44" fill="#cadae8" />
<rect x="73.10" y="116.04" width="22.90" height="2.44" fill="#e2e9ed" />
<rect x="73.10" y="117.88" width="22.90" height="2.44" fill="#ccdce9" />
<rect x="73.10" y="119.71" width="22.90" height="2.44" fill="#efefe2" />
<rect x="73.10" y="121.55" width="22.90" height="2.44" fill="#ebeeea" />
<rect x="73.10" y="123.39" width="22.90" height="2.44" fill="#e9edeb" />
<rect x="73.10" y="125.23" width="22.90" height="2.44" fill="#ecefea" />
<rect x="73.10" y="127.07" width="22.90" height="2.44" fill="#efefe1" />
<rect x="73.10" y="128.91" width="22.90" height="2.44" fill="#e9eeeb" />
<rect x="73.10" y="130.75" width="22.90" height="2.44" fill="#f0efde" />
<rect x="73.10" y="132.59" width="22.90" height="2.44" fill="#f0efdc" />
<rect x="73.10" y="134.43" width="22.90" height="2.44" fill="#e1e9ed" />
<rect x="73.10" y="136.27" width="22.90" height="2.44" fill="#e1e8ed" />
<rect x="73.10" y="138.11" width="22.90" height="2.44" fill="#e8edeb" />
<rect x="73.10" y="139.95" width="22.90" height="2.44" fill="#e3eaed" />
<rect x="73.10" y="141.79" width="22.90" height="2.44" fill="#e6ebec" />
<rect x="73.10" y="143.63" width="22.90" height="2.44" fill="#f0efde" />
<rect x="73.10" y="145.47" width="22.90" height="2.44" fill="#f1efda" />
<rect x="73.10" y="147.31" width="22.90" height="2.44" fill="#f3eed5" />
<rect x="73.10" y="149.15" width="22.90" height="2.44" fill="#efefe0" />
<rect x="73.10" y="150.99" width="22.90" height="2.44" fill="#f3eed4" />
<rect x="73.10" y="152.83" width="22.90" height="2.44" fill="#f2eed6" />
<rect x="73.10" y="154.67" width="22.90" height="2.44" fill="#f2eed7" />
<rect x="73.10" y="156.51" width="22.90" height="2.44" fill="#f5eecf" />
<rect x="73.10" y="158.35" width="22.90" height="2.44" fill="#f5eece" />
<rect x="73.10" y="160.19" width="22.90" height="2.44" fill="#f6eeca" />
<rect x="73.10" y="162.03" width="22.90" height="2.44" fill="#efefe0" />
<rect x="73.10" y="163.87" width="22.90" height="2.44" fill="#f6eec9" />
<rect x="73.10" y="165.71" width="22.90" height="2.44" fill="#f4eed1" />
<rect x="73.10" y="167.55" width="22.90" height="2.44" fill="#f8e4b1" />
<rect x="73.10" y="169.39" width="22.90" height="2.44" fill="#f8ecc1" />
<rect x="73.10" y="171.23" width="22.90" height="2.44" fill="#f1efdc" />
<rect x="73.10" y="173.07" width="22.90" height="2.44" fill="#f4eed1" />
<rect x="73.10" y="174.91" width="22.90" height="2.44" fill="#f6eec9" />
<rect x="73.10" y="176.75" width="22.90" height="2.44" fill="#f7eec8" />
<rect x="73.10" y="178.59" width="22.90" height="2.44" fill="#f1efda" />
<rect x="73.10" y="180.43" width="22.90" height="2.44" fill="#f5eece" />
<rect x="73.10" y="182.27" width="22.90" height="2.44" fill="#f2efd8" />
<rect x="73.10" y="184.11" width="22.90" height="2.44" fill="#f7eec7" />
<rect x="73.10" y="185.95" width="22.90" height="2.44" fill="#f2eed7" />
<rect x="73.10" y="187.79" width="22.90" height="2.44" fill="#efefe0" />
<rect x="73.10" y="189.63" width="22.90" height="2.44" fill="#f2eed7" />
<rect x="73.10" y="191.47" width="22.90" height="2.44" fill="#f5eecc" />
<rect x="73.10" y="193.31" width="22.90" height="2.44" fill="#f6eec9" />
<rect x="73.10" y="195.15" width="22.90" height="2.44" fill="#f7eec6" />
<rect x="73.10" y="196.99" width="22.90" height="2.44" fill="#efefe2" />
<rect x="73.10" y="198.83" width="22.90" height="2.44" fill="#edefe8" />
<rect x="73.10" y="200.67" width="22.90" height="2.44" fill="#eeefe5" />
<rect x="73.10" y="202.51" width="22.90" height="2.44" fill="#efefe1" />
<rect x="73.10" y="204.35" width="22.90" height="2.44" fill="#e9edeb" />
<rect x="73.10" y="206.19" width="22.90" height="2.44" fill="#f4eed1" />
<rect x="73.10" y="208.03" width="22.90" height="2.44" fill="#ebeeea" />
<rect x="73.10" y="209.87" width="22.90" height="2.44" fill="#b7cde2" />
<rect x="73.10" y="211.71" width="22.90" height="2.44" fill="#b9cfe3" />
<rect x="73.10" y="213.55" width="22.90" height="2.44" fill="#a4c1dc" />
<rect x="73.10" y="215.39" width="22.90" height="2.44" fill="#e9edeb" />
<rect x="73.10" y="217.23" width="22.90" height="2.44" fill="#e2e9ed" />
<rect x="73.10" y="219.07" width="22.90" height="2.44" fill="#e9edeb" />
<rect x="73.10" y="220.91" width="22.90" height="2.44" fill="#e9eeeb" />
<rect x="73.10" y="222.75" width="22.90" height="2.44" fill="#e9edeb" />
<rect x="73.10" y="224.59" width="22.90" height="2.44" fill="#efefe2" />
<rect x="73.10" y="226.43" width="22.90" height="2.44" fill="#f4eed2" />
<rect x="73.10" y="228.27" width="22.90" height="2.44" fill="#c6d7e7" />
<rect x="73.10" y="230.11" width="22.90" height="2.44" fill="#c7d8e7" />
<rect x="73.10" y="231.95" width="22.90" height="2.44" fill="#cbdae8" />
<rect x="73.10" y="233.79" width="22.90" height="2.44" fill="#c8d9e7" />
<rect x="73.10" y="235.62" width="22.90" height="2.44" fill="#f3eed3" />
<rect x="73.10" y="237.46" width="22.90" height="2.44" fill="#f3eed5" />
<rect x="73.10" y="239.30" width="22.90" height="2.44" fill="#e7eceb" />
<rect x="73.10" y="241.14" width="22.90" height="2.44" fill="#edefe8" />
<rect x="73.10" y="242.98" width="22.90" height="2.44" fill="#ebeeea" />
<rect x="73.10" y="244.82" width="22.90" height="2.44" fill="#e9edeb" />
<rect x="73.10" y="246.66" width="22.90" height="2.44" fill="#eaeeeb" />
<rect x="73.10" y="248.50" width="22.90" height="2.44" fill="#ecefea" />
<rect x="73.10" y="250.34" width="22.90" height="2.44" fill="#edefe7" />
<rect x="73.10" y="252.18" width="22.90" height="2.44" fill="#eeefe4" />
<rect x="73.10" y="254.02" width="22.90" height="2.44" fill="#d6e2ec" />
<rect x="73.10" y="255.86" width="22.90" height="2.44" fill="#dee7ee" />
<rect x="73.10" y="257.70" width="22.90" height="2.44" fill="#e5ebec" />
<rect x="73.10" y="259.54" width="22.90" height="2.44" fill="#e3eaed" />
<rect x="73.10" y="261.38" width="22.90" height="2.44" fill="#e9edeb" />
<rect x="73.10" y="263.22" width="22.90" height="2.44" fill="#eaeeea" />
<rect x="73.10" y="265.06" width="22.90" height="2.44" fill="#c8d9e8" />
<rect x="73.10" y="266.90" width="22.90" height="2.44" fill="#bed2e5" />
<rect x="73.10" y="268.74" width="22.90" height="2.44" fill="#e5ebec" />
<rect x="73.10" y="270.58" width="22.90" height="2.44" fill="#eaeeeb" />
<rect x="73.10" y="272.42" width="22.90" height="2.44" fill="#efefe2" />
<rect x="73.10" y="274.26" width="22.90" height="2.44" fill="#e9edeb" />
<rect x="73.10" y="276.10" width="22.90" height="2.44" fill="#e7ecec" />
<rect x="73.10" y="277.94" width="22.90" height="2.44" fill="#d4e1eb" />
<rect x="73.10" y="279.78" width="22.90" height="2.44" fill="#b8cee3" />
<rect x="73.10" y="281.62" width="22.90" height="2.44" fill="#c1d4e5" />
<rect x="73.10" y="283.46" width="22.90" height="2.44" fill="#c0d3e5" />
<rect x="73.10" y="285.30" width="22.90" height="2.44" fill="#e8edeb" />
<rect x="73.10" y="287.14" width="22.90" height="2.44" fill="#f2eed6" />
<rect x="73.10" y="288.98" width="22.90" height="2.44" fill="#f2efd8" />
<rect x="73.10" y="290.82" width="22.90" height="2.44" fill="#ecefe9" />
<rect x="73.10" y="292.66" width="22.90" height="2.44" fill="#f1efdb" />
<rect x="73.10" y="294.50" width="22.90" height="2.44" fill="#f3af75" />
<rect x="73.10" y="296.34" width="22.90" height="2.44" fill="#f6c98b" />
<rect x="73.10" y="298.19" width="22.90" height="2.44" fill="#f7cc8e" />
<rect x="73.10" y="300.03" width="22.90" height="2.44" fill="#f7cc8e" />
<rect x="73.10" y="301.87" width="22.90" height="2.44" fill="#f6c88a" />
<rect x="73.10" y="303.71" width="22.90" height="2.44" fill="#f3b277" />
<rect x="73.10" y="305.56" width="22.90" height="2.44" fill="#f6c183" />
<rect x="73.10" y="307.40" width="22.90" height="2.44" fill="#f5bd7f" />
<rect x="73.10" y="309.24" width="22.90" height="2.44" fill="#f8e4b2" />
<rect x="73.10" y="311.09" width="22.90" height="2.44" fill="#f8eabd" />
<rect x="73.10" y="312.93" width="22.90" height="2.44" fill="#f8e5b3" />
<rect x="73.10" y="314.77" width="22.90" height="2.44" fill="#f8e1ac" />
<rect x="73.10" y="316.61" width="22.90" height="2.44" fill="#f8e4b1" />
<rect x="73.10" y="318.46" width="22.90" height="2.44" fill="#f8ecc1" />
<rect x="73.10" y="320.30" width="22.90" height="2.44" fill="#f4eed0" />
<rect x="73.10" y="322.14" width="22.90" height="2.44" fill="#f8edc2" />
<rect x="73.10" y="323.99" width="22.90" height="2.44" fill="#f8eabc" />
<rect x="73.10" y="325.83" width="22.90" height="2.44" fill="#f8e1ac" />
<rect x="73.10" y="327.67" width="22.90" height="2.44" fill="#f8e2ad" />
<rect x="73.10" y="329.51" width="22.90" height="2.44" fill="#f8e1ac" />
<rect x="73.10" y="331.36" width="22.90" height="2.44" fill="#f8e4b1" />
<rect x="73.10" y="333.20" width="22.90" height="2.44" fill="#f8e6b5" />
<rect x="73.10" y="335.04" width="22.90" height="2.44" fill="#f8e8b9" />
<rect x="73.10" y="336.89" width="22.90" height="2.44" fill="#f8e5b4" />
<rect x="73.10" y="338.73" width="22.90" height="2.44" fill="#f8e6b4" />
<rect x="73.10" y="340.57" width="22.90" height="2.44" fill="#f7ce90" />
<rect x="73.10" y="342.41" width="22.90" height="2.44" fill="#f8e5b2" />
<rect x="73.10" y="344.26" width="22.90" height="2.44" fill="#f8ecc0" />
<rect x="73.10" y="346.10" width="22.90" height="2.44" fill="#f8edc2" />
<rect x="73.10" y="347.94" width="22.90" height="2.44" fill="#f1efda" />
<rect x="73.10" y="349.79" width="22.90" height="2.44" fill="#f1efdb" />
<rect x="73.10" y="351.63" width="22.90" height="2.44" fill="#f0efde" />
<rect x="73.10" y="353.47" width="22.90" height="2.44" fill="#f4eed1" />
<rect x="73.10" y="355.31" width="22.90" height="2.44" fill="#edefe8" />
<rect x="73.10" y="357.16" width="22.90" height="2.44" fill="#f4eed0" />
<rect x="73.10" y="359.00" width="22.90" height="2.44" fill="#f3eed4" />
<rect x="73.10" y="360.84" width="22.90" height="2.44" fill="#f2eed7" />
<rect x="73.10" y="362.69" width="22.90" height="2.44" fill="#f2eed6" />
<rect x="73.10" y="364.53" width="22.90" height="2.44" fill="#eeefe3" />
<rect x="73.10" y="366.37" width="22.90" height="2.44" fill="#f5eecf" />
<rect x="73.10" y="368.21" width="22.90" height="2.44" fill="#f5eece" />
<rect x="73.10" y="370.06" width="22.90" height="2.44" fill="#f8eec5" />
<rect x="73.10" y="371.90" width="22.90" height="2.44" fill="#f8ebbf" />
<rect x="73.10" y="373.74" width="22.90" height="2.44" fill="#f7eec7" />
<rect x="73.10" y="375.59" width="22.90" height="2.44" fill="#f7eec8" />
<rect x="73.10" y="377.43" width="22.90" height="2.44" fill="#f8eec3" />
<rect x="73.10" y="379.27" width="22.90" height="2.44" fill="#f8eec5" />
<rect x="73.10" y="381.11" width="22.90" height="2.44" fill="#f3eed5" />
<rect x="73.10" y="382.96" width="22.90" height="2.44" fill="#eeefe2" />
<rect x="73.10" y="384.80" width="22.90" height="2.44" fill="#f3eed5" />
<rect x="73.10" y="386.64" width="22.90" height="2.44" fill="#f2efd8" />
<rect x="73.10" y="388.49" width="22.90" height="2.44" fill="#f1efdb" />
<rect x="73.10" y="390.33" width="22.90" height="2.44" fill="#efefdf" />
<rect x="73.10" y="392.17" width="22.90" height="2.44" fill="#f4eed0" />
<rect x="73.10" y="394.01" width="22.90" height="2.44" fill="#f4eed0" />
<rect x="73.10" y="395.86" width="22.90" height="2.44" fill="#f8eec4" />
<rect x="73.10" y="397.70" width="22.90" height="2.44" fill="#f2ae75" />
<rect x="73.10" y="399.54" width="22.90" height="2.44" fill="#f6c486" />
<rect x="73.10" y="401.39" width="22.90" height="2.44" fill="#f6c284" />
<rect x="73.10" y="403.23" width="22.90" height="2.44" fill="#f7d193" />
<rect x="73.10" y="405.07" width="22.90" height="2.44" fill="#f7cd8f" />
<rect x="73.10" y="406.91" width="22.90" height="2.44" fill="#f7cf91" />
<rect x="73.10" y="408.76" width="22.90" height="2.44" fill="#f1aa72" />
<rect x="73.10" y="410.60" width="22.90" height="2.44" fill="#ee9c69" />
<rect x="73.10" y="412.44" width="22.90" height="2.44" fill="#f0a26e" />
<rect x="73.10" y="414.29" width="22.90" height="2.44" fill="#f8e5b3" />
<rect x="73.10" y="416.13" width="22.90" height="2.44" fill="#f8e6b5" />
<rect x="73.10" y="417.97" width="22.90" height="2.44" fill="#f2ab73" />
<rect x="73.10" y="419.81" width="22.90" height="2.44" fill="#f5be80" />
<rect x="73.10" y="421.66" width="22.90" height="2.44" fill="#f5be80" />
<rect x="73.10" y="423.50" width="22.90" height="2.44" fill="#f5b97c" />
<rect x="73.10" y="425.34" width="22.90" height="2.44" fill="#f5bd7f" />
<rect x="73.10" y="427.19" width="22.90" height="2.44" fill="#f5bb7d" />
<rect x="73.10" y="429.03" width="22.90" height="2.44" fill="#f6c183" />
<rect x="73.10" y="430.87" width="22.90" height="2.44" fill="#f8e4b0" />
<rect x="73.10" y="432.71" width="22.90" height="2.44" fill="#f8eec6" />
<rect x="73.10" y="434.56" width="22.90" height="2.44" fill="#f8e9ba" />
<rect x="73.10" y="436.40" width="22.90" height="2.44" fill="#f5eecc" />
<rect x="73.10" y="438.24" width="22.90" height="2.44" fill="#f4eed1" />
<rect x="73.10" y="440.09" width="22.90" height="2.44" fill="#f8e8b9" />
<rect x="73.10" y="441.93" width="22.90" height="2.44" fill="#f8ecc0" />
<rect x="73.10" y="443.77" width="22.90" height="2.44" fill="#f8e5b3" />
<rect x="73.10" y="445.61" width="22.90" height="2.44" fill="#ecefe9" />
<rect x="73.10" y="447.46" width="22.90" height="2.44" fill="#eeefe3" />
<rect x="73.10" y="449.30" width="22.90" height="2.44" fill="#f8e9ba" />
<rect x="73.10" y="451.14" width="22.90" height="2.44" fill="#f5be80" />
<rect x="73.10" y="452.99" width="22.90" height="2.44" fill="#f6bf81" />
<rect x="73.10" y="454.83" width="22.90" height="2.44" fill="#f8e4b2" />
<rect x="73.10" y="456.67" width="22.90" height="2.44" fill="#f8e1aa" />
<rect x="73.10" y="458.51" width="22.90" height="2.44" fill="#f8e6b4" />
<rect x="73.10" y="460.36" width="22.90" height="2.44" fill="#f8e5b4" />
<rect x="73.10" y="462.20" width="22.90" height="2.44" fill="#f8e3b0" />
<rect x="73.10" y="464.04" width="22.90" height="2.44" fill="#f8e3af" />
<rect x="73.10" y="465.89" width="22.90" height="2.44" fill="#f8e3b0" />
<rect x="73.10" y="467.73" width="22.90" height="2.44" fill="#f8dea5" />
<rect x="73.10" y="469.57" width="22.90" height="2.44" fill="#f8ebbf" />
<rect x="73.10" y="471.41" width="22.90" height="2.44" fill="#f8eabc" />
<rect x="73.10" y="473.26" width="22.90" height="2.44" fill="#f8e9ba" />
<rect x="73.10" y="475.10" width="22.90" height="2.44" fill="#f7eec6" />
<rect x="73.10" y="476.94" width="22.90" height="2.44" fill="#f8edc3" />
<rect x="73.10" y="478.79" width="22.90" height="2.44" fill="#f8ebbe" />
<rect x="73.10" y="480.63" width="22.90" height="2.44" fill="#f8e8b8" />
<rect x="73.10" y="482.47" width="22.90" height="2.44" fill="#f8e0aa" />
<rect x="73.10" y="484.31" width="22.90" height="2.44" fill="#f8e6b5" />
<rect x="73.10" y="486.16" width="22.90" height="1.84" fill="#f8e8b9" />
<rect x="95.40" y="59.00" width="22.90" height="2.44" fill="#f8e5b3" />
<rect x="95.40" y="60.84" width="22.90" height="2.44" fill="#f3eed5" />
<rect x="95.40" y="62.68" width="22.90" height="2.44" fill="#ecefea" />
<rect x="95.40" y="64.52" width="22.90" height="2.44" fill="#e4eaec" />
<rect x="95.40" y="66.36" width="22.90" height="2.44" fill="#ebeeea" />
<rect x="95.40" y="68.20" width="22.90" height="2.44" fill="#edefe7" />
<rect x="95.40" y="70.04" width="22.90" height="2.44" fill="#ecefea" />
<rect x="95.40" y="71.88" width="22.90" height="2.44" fill="#f1efdb" />
<rect x="95.40" y="73.72" width="22.90" height="2.44" fill="#f5eecd" />
<rect x="95.40" y="75.56" width="22.90" height="2.44" fill="#a6c3dd" />
<rect x="95.40" y="77.40" width="22.90" height="2.44" fill="#abc6df" />
<rect x="95.40" y="79.24" width="22.90" height="2.44" fill="#c6d8e7" />
<rect x="95.40" y="81.08" width="22.90" height="2.44" fill="#bcd1e4" />
<rect x="95.40" y="82.92" width="22.90" height="2.44" fill="#cadae8" />
<rect x="95.40" y="84.76" width="22.90" height="2.44" fill="#84a6cd" />
<rect x="95.40" y="86.60" width="22.90" height="2.44" fill="#7298c5" />
<rect x="95.40" y="88.44" width="22.90" height="2.44" fill="#8cadd1" />
<rect x="95.40" y="90.28" width="22.90" height="2.44" fill="#799dc8" />
<rect x="95.40" y="92.12" width="22.90" height="2.44" fill="#87a9ce" />
<rect x="95.40" y="93.96" width="22.90" height="2.44" fill="#7da1ca" />
<rect x="95.40" y="95.80" width="22.90" height="2.44" fill="#abc6df" />
<rect x="95.40" y="97.64" width="22.90" height="2.44" fill="#b4cce2" />
<rect x="95.40" y="99.48" width="22.90" height="2.44" fill="#b3cbe1" />
<rect x="95.40" y="101.32" width="22.90" height="2.44" fill="#d7e3ec" />
<rect x="95.40" y="103.16" width="22.90" height="2.44" fill="#e3eaed" />
<rect x="95.40" y="105.00" width="22.90" height="2.44" fill="#bdd2e4" />
<rect x="95.40" y="106.84" width="22.90" height="2.44" fill="#b3cbe1" />
<rect x="95.40" y="108.68" width="22.90" height="2.44" fill="#c3d6e6" />
<rect x="95.40" y="110.52" width="22.90" height="2.44" fill="#acc6df" />
<rect x="95.40" y="112.36" width="22.90" height="2.44" fill="#afc9e0" />
<rect x="95.40" y="114.20" width="22.90" height="2.44" fill="#bcd1e4" />
<rect x="95.40" y="116.04" width="22.90" height="2.44" fill="#b7cee3" />
<rect x="95.40" y="117.88" width="22.90" height="2.44" fill="#afc9e0" />
<rect x="95.40" y="119.71" width="22.90" height="2.44" fill="#eaeeeb" />
<rect x="95.40" y="121.55" width="22.90" height="2.44" fill="#e1e9ed" />
<rect x="95.40" y="123.39" width="22.90" height="2.44" fill="#e4eaec" />
<rect x="95.40" y="125.23" width="22.90" height="2.44" fill="#e0e8ed" />
<rect x="95.40" y="127.07" width="22.90" height="2.44" fill="#dce6ee" />
<rect x="95.40" y="128.91" width="22.90" height="2.44" fill="#97b6d6" />
<rect x="95.40" y="130.75" width="22.90" height="2.44" fill="#abc6df" />
<rect x="95.40" y="132.59" width="22.90" height="2.44" fill="#e4ebec" />
<rect x="95.40" y="134.43" width="22.90" height="2.44" fill="#d1dfea" />
<rect x="95.40" y="136.27" width="22.90" height="2.44" fill="#9dbbd9" />
<rect x="95.40" y="138.11" width="22.90" height="2.44" fill="#a1bfdb" />
<rect x="95.40" y="139.95" width="22.90" height="2.44" fill="#acc7df" />
<rect x="95.40" y="141.79" width="22.90" height="2.44" fill="#b4cbe1" />
<rect x="95.40" y="143.63" width="22.90" height="2.44" fill="#adc8e0" />
<rect x="95.40" y="145.47" width="22.90" height="2.44" fill="#d3e0eb" />
<rect x="95.40" y="147.31" width="22.90" height="2.44" fill="#bcd1e4" />
<rect x="95.40" y="149.15" width="22.90" height="2.44" fill="#b7cee2" />
<rect x="95.40" y="150.99" width="22.90" height="2.44" fill="#c1d4e5" />
<rect x="95.40" y="152.83" width="22.90" height="2.44" fill="#ccdbe9" />
<rect x="95.40" y="154.67" width="22.90" height="2.44" fill="#c3d6e6" />
<rect x="95.40" y="156.51" width="22.90" height="2.44" fill="#d4e1eb" />
<rect x="95.40" y="158.35" width="22.90" height="2.44" fill="#ccdce9" />
<rect x="95.40" y="160.19" width="22.90" height="2.44" fill="#cedde9" />
<rect x="95.40" y="162.03" width="22.90" height="2.44" fill="#d0deea" />
<rect x="95.40" y="163.87" width="22.90" height="2.44" fill="#dae4ed" />
<rect x="95.40" y="165.71" width="22.90" height="2.44" fill="#c3d6e6" />
<rect x="95.40" y="167.55" width="22.90" height="2.44" fill="#b5cde2" />
<rect x="95.40" y="169.39" width="22.90" height="2.44" fill="#dfe7ee" />
<rect x="95.40" y="171.23" width="22.90" height="2.44" fill="#e2e9ed" />
<rect x="95.40" y="173.07" width="22.90" height="2.44" fill="#d5e1eb" />
<rect x="95.40" y="174.91" width="22.90" height="2.44" fill="#a8c4de" />
<rect x="95.40" y="176.75" width="22.90" height="2.44" fill="#b0c9e0" />
<rect x="95.40" y="178.59" width="22.90" height="2.44" fill="#b9cfe3" />
<rect x="95.40" y="180.43" width="22.90" height="2.44" fill="#a6c3dd" />
<rect x="95.40" y="182.27" width="22.90" height="2.44" fill="#afc8e0" />
<rect x="95.40" y="184.11" width="22.90" height="2.44" fill="#b1cae1" />
<rect x="95.40" y="185.95" width="22.90" height="2.44" fill="#b8cee3" />
<rect x="95.40" y="187.79" width="22.90" height="2.44" fill="#b0c9e0" />
<rect x="95.40" y="189.63" width="22.90" height="2.44" fill="#b8cfe3" />
<rect x="95.40" y="191.47" width="22.90" height="2.44" fill="#abc6df" />
<rect x="95.40" y="193.31" width="22.90" height="2.44" fill="#9fbcda" />
<rect x="95.40" y="195.15" width="22.90" height="2.44" fill="#aac5df" />
<rect x="95.40" y="196.99" width="22.90" height="2.44" fill="#c4d6e6" />
<rect x="95.40" y="198.83" width="22.90" height="2.44" fill="#c2d5e6" />
<rect x="95.40" y="200.67" width="22.90" height="2.44" fill="#c5d6e6" />
<rect x="95.40" y="202.51" width="22.90" height="2.44" fill="#a5c1dc" />
<rect x="95.40" y="204.35" width="22.90" height="2.44" fill="#a6c2dd" />
<rect x="95.40" y="206.19" width="22.90" height="2.44" fill="#aac5df" />
<rect x="95.40" y="208.03" width="22.90" height="2.44" fill="#90b0d3" />
<rect x="95.40" y="209.87" width="22.90" height="2.44" fill="#b1cae1" />
<rect x="95.40" y="211.71" width="22.90" height="2.44" fill="#adc7e0" />
<rect x="95.40" y="213.55" width="22.90" height="2.44" fill="#c1d4e5" />
<rect x="95.40" y="215.39" width="22.90" height="2.44" fill="#c1d4e5" />
<rect x="95.40" y="217.23" width="22.90" height="2.44" fill="#cbdbe8" />
<rect x="95.40" y="219.07" width="22.90" height="2.44" fill="#c9d9e8" />
<rect x="95.40" y="220.91" width="22.90" height="2.44" fill="#bbd0e4" />
<rect x="95.40" y="222.75" width="22.90" height="2.44" fill="#bfd3e5" />
<rect x="95.40" y="224.59" width="22.90" height="2.44" fill="#c4d6e6" />
<rect x="95.40" y="226.43" width="22.90" height="2.44" fill="#b0c9e0" />
<rect x="95.40" y="228.27" width="22.90" height="2.44" fill="#bed2e5" />
<rect x="95.40" y="230.11" width="22.90" height="2.44" fill="#bad0e3" />
<rect x="95.40" y="231.95" width="22.90" height="2.44" fill="#adc7e0" />
<rect x="95.40" y="233.79" width="22.90" height="2.44" fill="#b7cee3" />
<rect x="95.40" y="235.62" width="22.90" height="2.44" fill="#bacfe3" />
<rect x="95.40" y="237.46" width="22.90" height="2.44" fill="#b1cae1" />
<rect x="95.40" y="239.30" width="22.90" height="2.44" fill="#c0d3e5" />
<rect x="95.40" y="241.14" width="22.90" height="2.44" fill="#c4d6e6" />
<rect x="95.40" y="242.98" width="22.90" height="2.44" fill="#bdd1e4" />
<rect x="95.40" y="244.82" width="22.90" height="2.44" fill="#b8cfe3" />
<rect x="95.40" y="246.66" width="22.90" height="2.44" fill="#c8d8e7" />
<rect x="95.40" y="248.50" width="22.90" height="2.44" fill="#c3d6e6" />
<rect x="95.40" y="250.34" width="22.90" height="2.44" fill="#b5cde2" />
<rect x="95.40" y="252.18" width="22.90" height="2.44" fill="#b2cbe1" />
<rect x="95.40" y="254.02" width="22.90" height="2.44" fill="#bed2e4" />
<rect x="95.40" y="255.86" width="22.90" height="2.44" fill="#b3cbe1" />
<rect x="95.40" y="257.70" width="22.90" height="2.44" fill="#bed2e4" />
<rect x="95.40" y="259.54" width="22.90" height="2.44" fill="#c1d4e5" />
<rect x="95.40" y="261.38" width="22.90" height="2.44" fill="#c0d4e5" />
<rect x="95.40" y="263.22" width="22.90" height="2.44" fill="#b2cae1" />
<rect x="95.40" y="265.06" width="22.90" height="2.44" fill="#b3cbe1" />
<rect x="95.40" y="266.90" width="22.90" height="2.44" fill="#b2cae1" />
<rect x="95.40" y="268.74" width="22.90" height="2.44" fill="#aac5de" />
<rect x="95.40" y="270.58" width="22.90" height="2.44" fill="#bed2e5" />
<rect x="95.40" y="272.42" width="22.90" height="2.44" fill="#c3d5e6" />
<rect x="95.40" y="274.26" width="22.90" height="2.44" fill="#bad0e3" />
<rect x="95.40" y="276.10" width="22.90" height="2.44" fill="#acc6df" />
<rect x="95.40" y="277.94" width="22.90" height="2.44" fill="#c0d4e5" />
<rect x="95.40" y="279.78" width="22.90" height="2.44" fill="#adc7e0" />
<rect x="95.40" y="281.62" width="22.90" height="2.44" fill="#b1cae1" />
<rect x="95.40" y="283.46" width="22.90" height="2.44" fill="#a8c4de" />
<rect x="95.40" y="285.30" width="22.90" height="2.44" fill="#afc8e0" />
<rect x="95.40" y="287.14" width="22.90" height="2.44" fill="#bacfe3" />
<rect x="95.40" y="288.98" width="22.90" height="2.44" fill="#abc6df" />
<rect x="95.40" y="290.82" width="22.90" height="2.44" fill="#bfd3e5" />
<rect x="95.40" y="292.66" width="22.90" height="2.44" fill="#b4cce2" />
<rect x="95.40" y="294.50" width="22.90" height="2.44" fill="#f8e3b0" />
<rect x="95.40" y="296.34" width="22.90" height="2.44" fill="#f4b579" />
<rect x="95.40" y="298.19" width="22.90" height="2.44" fill="#f5b87b" />
<rect x="95.40" y="300.03" width="22.90" height="2.44" fill="#f3b378" />
<rect x="95.40" y="301.87" width="22.90" height="2.44" fill="#f8d698" />
<rect x="95.40" y="303.71" width="22.90" height="2.44" fill="#f8dba0" />
<rect x="95.40" y="305.56" width="22.90" height="2.44" fill="#f7d294" />
<rect x="95.40" y="307.40" width="22.90" height="2.44" fill="#f8d597" />
<rect x="95.40" y="309.24" width="22.90" height="2.44" fill="#f8d89a" />
<rect x="95.40" y="311.09" width="22.90" height="2.44" fill="#f8da9d" />
<rect x="95.40" y="312.93" width="22.90" height="2.44" fill="#f7ca8c" />
<rect x="95.40" y="314.77" width="22.90" height="2.44" fill="#f2ab73" />
<rect x="95.40" y="316.61" width="22.90" height="2.44" fill="#f5b87b" />
<rect x="95.40" y="318.46" width="22.90" height="2.44" fill="#f8e2ac" />
<rect x="95.40" y="320.30" width="22.90" height="2.44" fill="#f8dfa6" />
<rect x="95.40" y="322.14" width="22.90" height="2.44" fill="#f8e0a9" />
<rect x="95.40" y="323.99" width="22.90" height="2.44" fill="#f8dea6" />
<rect x="95.40" y="325.83" width="22.90" height="2.44" fill="#f8dda3" />
<rect x="95.40" y="327.67" width="22.90" height="2.44" fill="#f8d597" />
<rect x="95.40" y="329.51" width="22.90" height="2.44" fill="#f8e4b0" />
<rect x="95.40" y="331.36" width="22.90" height="2.44" fill="#f8d99b" />
<rect x="95.40" y="333.20" width="22.90" height="2.44" fill="#eb9364" />
<rect x="95.40" y="335.04" width="22.90" height="2.44" fill="#ec9364" />
<rect x="95.40" y="336.89" width="22.90" height="2.44" fill="#ed9867" />
<rect x="95.40" y="338.73" width="22.90" height="2.44" fill="#ee9868" />
<rect x="95.40" y="340.57" width="22.90" height="2.44" fill="#ee9a68" />
<rect x="95.40" y="342.41" width="22.90" height="2.44" fill="#ef9f6c" />
<rect x="95.40" y="344.26" width="22.90" height="2.44" fill="#ee9b69" />
<rect x="95.40" y="346.10" width="22.90" height="2.44" fill="#f0a56f" />
<rect x="95.40" y="347.94" width="22.90" height="2.44" fill="#f1a670" />
<rect x="95.40" y="349.79" width="22.90" height="2.44" fill="#e5865d" />
<rect x="95.40" y="351.63" width="22.90" height="2.44" fill="#e98d60" />
<rect x="95.40" y="353.47" width="22.90" height="2.44" fill="#ea8f62" />
<rect x="95.40" y="355.31" width="22.90" height="2.44" fill="#f0a36e" />
<rect x="95.40" y="357.16" width="22.90" height="2.44" fill="#ed9666" />
<rect x="95.40" y="359.00" width="22.90" height="2.44" fill="#ea9163" />
<rect x="95.40" y="360.84" width="22.90" height="2.44" fill="#ee9c6a" />
<rect x="95.40" y="362.69" width="22.90" height="2.44" fill="#ee9b69" />
<rect x="95.40" y="364.53" width="22.90" height="2.44" fill="#f0a56f" />
<rect x="95.40" y="366.37" width="22.90" height="2.44" fill="#ef9e6b" />
<rect x="95.40" y="368.21" width="22.90" height="2.44" fill="#efa06c" />
<rect x="95.40" y="370.06" width="22.90" height="2.44" fill="#efa06c" />
<rect x="95.40" y="371.90" width="22.90" height="2.44" fill="#ef9d6a" />
<rect x="95.40" y="373.74" width="22.90" height="2.44" fill="#f1a971" />
<rect x="95.40" y="375.59" width="22.90" height="2.44" fill="#f2ac73" />
<rect x="95.40" y="377.43" width="22.90" height="2.44" fill="#f0a670" />
<rect x="95.40" y="379.27" width="22.90" height="2.44" fill="#f0a670" />
<rect x="95.40" y="381.11" width="22.90" height="2.44" fill="#f0a56f" />
<rect x="95.40" y="382.96" width="22.90" height="2.44" fill="#f6c284" />
<rect x="95.40" y="384.80" width="22.90" height="2.44" fill="#f5bf81" />
<rect x="95.40" y="386.64" width="22.90" height="2.44" fill="#f2af75" />
<rect x="95.40" y="388.49" width="22.90" height="2.44" fill="#f5bc7e" />
<rect x="95.40" y="390.33" width="22.90" height="2.44" fill="#f5be80" />
<rect x="95.40" y="392.17" width="22.90" height="2.44" fill="#f7cc8e" />
<rect x="95.40" y="394.01" width="22.90" height="2.44" fill="#f6c789" />
<rect x="95.40" y="395.86" width="22.90" height="2.44" fill="#f8d496" />
<rect x="95.40" y="397.70" width="22.90" height="2.44" fill="#ec9465" />
<rect x="95.40" y="399.54" width="22.90" height="2.44" fill="#e5855c" />
<rect x="95.40" y="401.39" width="22.90" height="2.44" fill="#ed9867" />
<rect x="95.40" y="403.23" width="22.90" height="2.44" fill="#ed9867" />
<rect x="95.40" y="405.07" width="22.90" height="2.44" fill="#e98d60" />
<rect x="95.40" y="406.91" width="22.90" height="2.44" fill="#ef9e6b" />
<rect x="95.40" y="408.76" width="22.90" height="2.44" fill="#ec9565" />
<rect x="95.40" y="410.60" width="22.90" height="2.44" fill="#f1a770" />
<rect x="95.40" y="412.44" width="22.90" height="2.44" fill="#f3b177" />
<rect x="95.40" y="414.29" width="22.90" height="2.44" fill="#ed9766" />
<rect x="95.40" y="416.13" width="22.90" height="2.44" fill="#e98d61" />
<rect x="95.40" y="417.97" width="22.90" height="2.44" fill="#f6c789" />
<rect x="95.40" y="419.81" width="22.90" height="2.44" fill="#f2ac74" />
<rect x="95.40" y="421.66" width="22.90" height="2.44" fill="#f3b378" />
<rect x="95.40" y="423.50" width="22.90" height="2.44" fill="#f5ba7c" />
<rect x="95.40" y="425.34" width="22.90" height="2.44" fill="#e6865d" />
<rect x="95.40" y="427.19" width="22.90" height="2.44" fill="#e3825a" />
<rect x="95.40" y="429.03" width="22.90" height="2.44" fill="#de7653" />
<rect x="95.40" y="430.87" width="22.90" height="2.44" fill="#d46247" />
<rect x="95.40" y="432.71" width="22.90" height="2.44" fill="#ce543f" />
<rect x="95.40" y="434.56" width="22.90" height="2.44" fill="#d46247" />
<rect x="95.40" y="436.40" width="22.90" height="2.44" fill="#d8694c" />
<rect x="95.40" y="438.24" width="22.90" height="2.44" fill="#d66549" />
<rect x="95.40" y="440.09" width="22.90" height="2.44" fill="#da6e4e" />
<rect x="95.40" y="441.93" width="22.90" height="2.44" fill="#de7653" />
<rect x="95.40" y="443.77" width="22.90" height="2.44" fill="#e98d61" />
<rect x="95.40" y="445.61" width="22.90" height="2.44" fill="#db6f4f" />
<rect x="95.40" y="447.46" width="22.90" height="2.44" fill="#de7553" />
<rect x="95.40" y="449.30" width="22.90" height="2.44" fill="#ee9868" />
<rect x="95.40" y="451.14" width="22.90" height="2.44" fill="#e88a5f" />
<rect x="95.40" y="452.99" width="22.90" height="2.44" fill="#df7854" />
<rect x="95.40" y="454.83" width="22.90" height="2.44" fill="#f0a26d" />
<rect x="95.40" y="456.67" width="22.90" height="2.44" fill="#f3b177" />
<rect x="95.40" y="458.51" width="22.90" height="2.44" fill="#f2ac74" />
<rect x="95.40" y="460.36" width="22.90" height="2.44" fill="#f0a16d" />
<rect x="95.40" y="462.20" width="22.90" height="2.44" fill="#ef9f6b" />
<rect x="95.40" y="464.04" width="22.90" height="2.44" fill="#ef9f6b" />
<rect x="95.40" y="465.89" width="22.90" height="2.44" fill="#e28059" />
<rect x="95.40" y="467.73" width="22.90" height="2.44" fill="#e5865d" />
<rect x="95.40" y="469.57" width="22.90" height="2.44" fill="#e4835b" />
<rect x="95.40" y="471.41" width="22.90" height="2.44" fill="#d86a4c" />
<rect x="95.40" y="473.26" width="22.90" height="2.44" fill="#cf5741" />
<rect x="95.40" y="475.10" width="22.90" height="2.44" fill="#dc7150" />
<rect x="95.40" y="476.94" width="22.90" height="2.44" fill="#e5855c" />
<rect x="95.40" y="478.79" width="22.90" height="2.44" fill="#e3815a" />
<rect x="95.40" y="480.63" width="22.90" height="2.44" fill="#ed9666" />
<rect x="95.40" y="482.47" width="22.90" height="2.44" fill="#dd7452" />
<rect x="95.40" y="484.31" width="22.90" height="2.44" fill="#e88b5f" />
<rect x="95.40" y="486.16" width="22.90" height="1.84" fill="#e98e61" />
<rect x="117.70" y="59.00" width="19.50" height="2.44" fill="#a5c1dd" />
<rect x="117.70" y="60.84" width="19.50" height="2.44" fill="#a7c3dd" />
<rect x="117.70" y="62.68" width="19.50" height="2.44" fill="#80a3cb" />
<rect x="117.70" y="64.52" width="19.50" height="2.44" fill="#6f95c3" />
<rect x="117.70" y="66.36" width="19.50" height="2.44" fill="#769bc6" />
<rect x="117.70" y="68.20" width="19.50" height="2.44" fill="#83a6cd" />
<rect x="117.70" y="70.04" width="19.50" height="2.44" fill="#8cadd1" />
<rect x="117.70" y="71.88" width="19.50" height="2.44" fill="#87a9cf" />
<rect x="117.70" y="73.72" width="19.50" height="2.44" fill="#799dc8" />
<rect x="117.70" y="75.56" width="19.50" height="2.44" fill="#7b9fc9" />
<rect x="117.70" y="77.40" width="19.50" height="2.44" fill="#678ebf" />
<rect x="117.70" y="79.24" width="19.50" height="2.44" fill="#9ebbd9" />
<rect x="117.70" y="81.08" width="19.50" height="2.44" fill="#bad0e3" />
<rect x="117.70" y="82.92" width="19.50" height="2.44" fill="#bbd0e4" />
<rect x="117.70" y="84.76" width="19.50" height="2.44" fill="#bdd1e4" />
<rect x="117.70" y="86.60" width="19.50" height="2.44" fill="#c2d5e6" />
<rect x="117.70" y="88.44" width="19.50" height="2.44" fill="#b9cfe3" />
<rect x="117.70" y="90.28" width="19.50" height="2.44" fill="#b7cee2" />
<rect x="117.70" y="92.12" width="19.50" height="2.44" fill="#b0c9e0" />
<rect x="117.70" y="93.96" width="19.50" height="2.44" fill="#b3cbe1" />
<rect x="117.70" y="95.80" width="19.50" height="2.44" fill="#a4c1dc" />
<rect x="117.70" y="97.64" width="19.50" height="2.44" fill="#afc9e0" />
<rect x="117.70" y="99.48" width="19.50" height="2.44" fill="#abc6df" />
<rect x="117.70" y="101.32" width="19.50" height="2.44" fill="#adc7df" />
<rect x="117.70" y="103.16" width="19.50" height="2.44" fill="#b3cbe1" />
<rect x="117.70" y="105.00" width="19.50" height="2.44" fill="#a7c3dd" />
<rect x="117.70" y="106.84" width="19.50" height="2.44" fill="#a2bfdb" />
<rect x="117.70" y="108.68" width="19.50" height="2.44" fill="#bed2e4" />
<rect x="117.70" y="110.52" width="19.50" height="2.44" fill="#bdd1e4" />
<rect x="117.70" y="112.36" width="19.50" height="2.44" fill="#afc9e0" />
<rect x="117.70" y="114.20" width="19.50" height="2.44" fill="#acc6df" />
<rect x="117.70" y="116.04" width="19.50" height="2.44" fill="#afc9e0" />
<rect x="117.70" y="117.88" width="19.50" height="2.44" fill="#acc6df" />
<rect x="117.70" y="119.71" width="19.50" height="2.44" fill="#759ac6" />
<rect x="117.70" y="121.55" width="19.50" height="2.44" fill="#769bc6" />
<rect x="117.70" y="123.39" width="19.50" height="2.44" fill="#789dc8" />
<rect x="117.70" y="125.23" width="19.50" height="2.44" fill="#b4cce2" />
<rect x="117.70" y="127.07" width="19.50" height="2.44" fill="#96b5d6" />
<rect x="117.70" y="128.91" width="19.50" height="2.44" fill="#94b4d5" />
<rect x="117.70" y="130.75" width="19.50" height="2.44" fill="#92b2d4" />
<rect x="117.70" y="132.59" width="19.50" height="2.44" fill="#b5cce2" />
<rect x="117.70" y="134.43" width="19.50" height="2.44" fill="#bdd2e4" />
<rect x="117.70" y="136.27" width="19.50" height="2.44" fill="#b7cee3" />
<rect x="117.70" y="138.11" width="19.50" height="2.44" fill="#b6cde2" />
<rect x="117.70" y="139.95" width="19.50" height="2.44" fill="#cedce9" />
<rect x="117.70" y="141.79" width="19.50" height="2.44" fill="#b4cce2" />
<rect x="117.70" y="143.63" width="19.50" height="2.44" fill="#7fa3cb" />
<rect x="117.70" y="145.47" width="19.50" height="2.44" fill="#82a5cc" />
<rect x="117.70" y="147.31" width="19.50" height="2.44" fill="#85a7cd" />
<rect x="117.70" y="149.15" width="19.50" height="2.44" fill="#638bbd" />
<rect x="117.70" y="150.99" width="19.50" height="2.44" fill="#5680b6" />
<rect x="117.70" y="152.83" width="19.50" height="2.44" fill="#658dbe" />
<rect x="117.70" y="154.67" width="19.50" height="2.44" fill="#779bc7" />
<rect x="117.70" y="156.51" width="19.50" height="2.44" fill="#759ac6" />
<rect x="117.70" y="158.35" width="19.50" height="2.44" fill="#688fc0" />
<rect x="117.70" y="160.19" width="19.50" height="2.44" fill="#648cbe" />
<rect x="117.70" y="162.03" width="19.50" height="2.44" fill="#7197c4" />
<rect x="117.70" y="163.87" width="19.50" height="2.44" fill="#5983b8" />
<rect x="117.70" y="165.71" width="19.50" height="2.44" fill="#5d86ba" />
<rect x="117.70" y="167.55" width="19.50" height="2.44" fill="#5982b7" />
<rect x="117.70" y="169.39" width="19.50" height="2.44" fill="#5983b7" />
<rect x="117.70" y="171.23" width="19.50" height="2.44" fill="#5e87bb" />
<rect x="117.70" y="173.07" width="19.50" height="2.44" fill="#638bbd" />
<rect x="117.70" y="174.91" width="19.50" height="2.44" fill="#7da1ca" />
<rect x="117.70" y="176.75" width="19.50" height="2.44" fill="#8fb0d2" />
<rect x="117.70" y="178.59" width="19.50" height="2.44" fill="#83a6cd" />
<rect x="117.70" y="180.43" width="19.50" height="2.44" fill="#83a5cc" />
<rect x="117.70" y="182.27" width="19.50" height="2.44" fill="#7499c6" />
<rect x="117.70" y="184.11" width="19.50" height="2.44" fill="#90b0d3" />
<rect x="117.70" y="185.95" width="19.50" height="2.44" fill="#8aabd0" />
<rect x="117.70" y="187.79" width="19.50" height="2.44" fill="#84a7cd" />
<rect x="117.70" y="189.63" width="19.50" height="2.44" fill="#7096c4" />
<rect x="117.70" y="191.47" width="19.50" height="2.44" fill="#90b0d3" />
<rect x="117.70" y="193.31" width="19.50" height="2.44" fill="#84a6cd" />
<rect x="117.70" y="195.15" width="19.50" height="2.44" fill="#7da0ca" />
<rect x="117.70" y="196.99" width="19.50" height="2.44" fill="#799dc8" />
<rect x="117.70" y="198.83" width="19.50" height="2.44" fill="#7b9fc9" />
<rect x="117.70" y="200.67" width="19.50" height="2.44" fill="#b1cae1" />
<rect x="117.70" y="202.51" width="19.50" height="2.44" fill="#adc7df" />
<rect x="117.70" y="204.35" width="19.50" height="2.44" fill="#a5c2dd" />
<rect x="117.70" y="206.19" width="19.50" height="2.44" fill="#a9c5de" />
<rect x="117.70" y="208.03" width="19.50" height="2.44" fill="#a7c4de" />
<rect x="117.70" y="209.87" width="19.50" height="2.44" fill="#d7e2ec" />
<rect x="117.70" y="211.71" width="19.50" height="2.44" fill="#d8e3ec" />
<rect x="117.70" y="213.55" width="19.50" height="2.44" fill="#cfddea" />
<rect x="117.70" y="215.39" width="19.50" height="2.44" fill="#dbe5ed" />
<rect x="117.70" y="217.23" width="19.50" height="2.44" fill="#c8d9e7" />
<rect x="117.70" y="219.07" width="19.50" height="2.44" fill="#c3d5e6" />
<rect x="117.70" y="220.91" width="19.50" height="2.44" fill="#dee7ee" />
<rect x="117.70" y="222.75" width="19.50" height="2.44" fill="#e3eaed" />
<rect x="117.70" y="224.59" width="19.50" height="2.44" fill="#7ea2ca" />
<rect x="117.70" y="226.43" width="19.50" height="2.44" fill="#789cc7" />
<rect x="117.70" y="228.27" width="19.50" height="2.44" fill="#e3eaed" />
<rect x="117.70" y="230.11" width="19.50" height="2.44" fill="#e6ebec" />
<rect x="117.70" y="231.95" width="19.50" height="2.44" fill="#e7eceb" />
<rect x="117.70" y="233.79" width="19.50" height="2.44" fill="#e3eaed" />
<rect x="117.70" y="235.62" width="19.50" height="2.44" fill="#b1cae1" />
<rect x="117.70" y="237.46" width="19.50" height="2.44" fill="#b4cce2" />
<rect x="117.70" y="239.30" width="19.50" height="2.44" fill="#a1bedb" />
<rect x="117.70" y="241.14" width="19.50" height="2.44" fill="#9dbbd9" />
<rect x="117.70" y="242.98" width="19.50" height="2.44" fill="#abc6df" />
<rect x="117.70" y="244.82" width="19.50" height="2.44" fill="#abc6df" />
<rect x="117.70" y="246.66" width="19.50" height="2.44" fill="#b8cee3" />
<rect x="117.70" y="248.50" width="19.50" height="2.44" fill="#a3c0dc" />
<rect x="117.70" y="250.34" width="19.50" height="2.44" fill="#b1cae1" />
<rect x="117.70" y="252.18" width="19.50" height="2.44" fill="#afc8e0" />
<rect x="117.70" y="254.02" width="19.50" height="2.44" fill="#b2cae1" />
<rect x="117.70" y="255.86" width="19.50" height="2.44" fill="#b4cce2" />
<rect x="117.70" y="257.70" width="19.50" height="2.44" fill="#a7c4de" />
<rect x="117.70" y="259.54" width="19.50" height="2.44" fill="#a6c2dd" />
<rect x="117.70" y="261.38" width="19.50" height="2.44" fill="#adc7e0" />
<rect x="117.70" y="263.22" width="19.50" height="2.44" fill="#a9c5de" />
<rect x="117.70" y="265.06" width="19.50" height="2.44" fill="#9dbbd9" />
<rect x="117.70" y="266.90" width="19.50" height="2.44" fill="#a4c1dc" />
<rect x="117.70" y="268.74" width="19.50" height="2.44" fill="#aec8e0" />
<rect x="117.70" y="270.58" width="19.50" height="2.44" fill="#adc7df" />
<rect x="117.70" y="272.42" width="19.50" height="2.44" fill="#a4c1dc" />
<rect x="117.70" y="274.26" width="19.50" height="2.44" fill="#a4c0dc" />
<rect x="117.70" y="276.10" width="19.50" height="2.44" fill="#abc6df" />
<rect x="117.70" y="277.94" width="19.50" height="2.44" fill="#adc8e0" />
<rect x="117.70" y="279.78" width="19.50" height="2.44" fill="#b2cbe1" />
<rect x="117.70" y="281.62" width="19.50" height="2.44" fill="#9ebbd9" />
<rect x="117.70" y="283.46" width="19.50" height="2.44" fill="#9bbad8" />
<rect x="117.70" y="285.30" width="19.50" height="2.44" fill="#9ab8d7" />
<rect x="117.70" y="287.14" width="19.50" height="2.44" fill="#aac5df" />
<rect x="117.70" y="288.98" width="19.50" height="2.44" fill="#b7cee3" />
<rect x="117.70" y="290.82" width="19.50" height="2.44" fill="#8fafd2" />
<rect x="117.70" y="292.66" width="19.50" height="2.44" fill="#9fbdda" />
<rect x="117.70" y="294.50" width="19.50" height="2.44" fill="#e27f58" />
<rect x="117.70" y="296.34" width="19.50" height="2.44" fill="#e27f58" />
<rect x="117.70" y="298.19" width="19.50" height="2.44" fill="#d86b4c" />
<rect x="117.70" y="300.03" width="19.50" height="2.44" fill="#e07c56" />
<rect x="117.70" y="301.87" width="19.50" height="2.44" fill="#db6f4f" />
<rect x="117.70" y="303.71" width="19.50" height="2.44" fill="#e17c57" />
<rect x="117.70" y="305.56" width="19.50" height="2.44" fill="#dd7452" />
<rect x="117.70" y="307.40" width="19.50" height="2.44" fill="#e27e58" />
<rect x="117.70" y="309.24" width="19.50" height="2.44" fill="#d15b43" />
<rect x="117.70" y="311.09" width="19.50" height="2.44" fill="#d8694b" />
<rect x="117.70" y="312.93" width="19.50" height="2.44" fill="#cf5741" />
<rect x="117.70" y="314.77" width="19.50" height="2.44" fill="#c84838" />
<rect x="117.70" y="316.61" width="19.50" height="2.44" fill="#c84838" />
<rect x="117.70" y="318.46" width="19.50" height="2.44" fill="#c94b3a" />
<rect x="117.70" y="320.30" width="19.50" height="2.44" fill="#ce5540" />
<rect x="117.70" y="322.14" width="19.50" height="2.44" fill="#de7653" />
<rect x="117.70" y="323.99" width="19.50" height="2.44" fill="#da6f4f" />
<rect x="117.70" y="325.83" width="19.50" height="2.44" fill="#d36046" />
<rect x="117.70" y="327.67" width="19.50" height="2.44" fill="#d35e45" />
<rect x="117.70" y="329.51" width="19.50" height="2.44" fill="#ed9666" />
<rect x="117.70" y="331.36" width="19.50" height="2.44" fill="#eb9163" />
<rect x="117.70" y="333.20" width="19.50" height="2.44" fill="#dd7452" />
<rect x="117.70" y="335.04" width="19.50" height="2.44" fill="#e78a5f" />
<rect x="117.70" y="336.89" width="19.50" height="2.44" fill="#e5845c" />
<rect x="117.70" y="338.73" width="19.50" height="2.44" fill="#e78a5f" />
<rect x="117.70" y="340.57" width="19.50" height="2.44" fill="#f0a26d" />
<rect x="117.70" y="342.41" width="19.50" height="2.44" fill="#e88b5f" />
<rect x="117.70" y="344.26" width="19.50" height="2.44" fill="#ec9465" />
<rect x="117.70" y="346.10" width="19.50" height="2.44" fill="#e78a5f" />
<rect x="117.70" y="347.94" width="19.50" height="2.44" fill="#e78a5f" />
<rect x="117.70" y="349.79" width="19.50" height="2.44" fill="#ee9c6a" />
<rect x="117.70" y="351.63" width="19.50" height="2.44" fill="#ed9867" />
<rect x="117.70" y="353.47" width="19.50" height="2.44" fill="#ed9666" />
<rect x="117.70" y="355.31" width="19.50" height="2.44" fill="#e6885e" />
<rect x="117.70" y="357.16" width="19.50" height="2.44" fill="#eb9163" />
<rect x="117.70" y="359.00" width="19.50" height="2.44" fill="#e6885e" />
<rect x="117.70" y="360.84" width="19.50" height="2.44" fill="#ee9a68" />
<rect x="117.70" y="362.69" width="19.50" height="2.44" fill="#ed9767" />
<rect x="117.70" y="364.53" width="19.50" height="2.44" fill="#e7885e" />
<rect x="117.70" y="366.37" width="19.50" height="2.44" fill="#e88b60" />
<rect x="117.70" y="368.21" width="19.50" height="2.44" fill="#e17d57" />
<rect x="117.70" y="370.06" width="19.50" height="2.44" fill="#e4835b" />
<rect x="117.70" y="371.90" width="19.50" height="2.44" fill="#e07b56" />
<rect x="117.70" y="373.74" width="19.50" height="2.44" fill="#dc7251" />
<rect x="117.70" y="375.59" width="19.50" height="2.44" fill="#e5855c" />
<rect x="117.70" y="377.43" width="19.50" height="2.44" fill="#d66549" />
<rect x="117.70" y="379.27" width="19.50" height="2.44" fill="#d6674a" />
<rect x="117.70" y="381.11" width="19.50" height="2.44" fill="#db704f" />
<rect x="117.70" y="382.96" width="19.50" height="2.44" fill="#df7855" />
<rect x="117.70" y="384.80" width="19.50" height="2.44" fill="#d86a4c" />
<rect x="117.70" y="386.64" width="19.50" height="2.44" fill="#e07a56" />
<rect x="117.70" y="388.49" width="19.50" height="2.44" fill="#dd7452" />
<rect x="117.70" y="390.33" width="19.50" height="2.44" fill="#d46146" />
<rect x="117.70" y="392.17" width="19.50" height="2.44" fill="#d05a43" />
<rect x="117.70" y="394.01" width="19.50" height="2.44" fill="#d15b43" />
<rect x="117.70" y="395.86" width="19.50" height="2.44" fill="#d05a42" />
<rect x="117.70" y="397.70" width="19.50" height="2.44" fill="#ea9062" />
<rect x="117.70" y="399.54" width="19.50" height="2.44" fill="#f1a771" />
<rect x="117.70" y="401.39" width="19.50" height="2.44" fill="#f0a46f" />
<rect x="117.70" y="403.23" width="19.50" height="2.44" fill="#f0a56f" />
<rect x="117.70" y="405.07" width="19.50" height="2.44" fill="#f3b177" />
<rect x="117.70" y="406.91" width="19.50" height="2.44" fill="#f4b77a" />
<rect x="117.70" y="408.76" width="19.50" height="2.44" fill="#f8d395" />
<rect x="117.70" y="410.60" width="19.50" height="2.44" fill="#f8d89a" />
<rect x="117.70" y="412.44" width="19.50" height="2.44" fill="#f8dba0" />
<rect x="117.70" y="414.29" width="19.50" height="2.44" fill="#f1a972" />
<rect x="117.70" y="416.13" width="19.50" height="2.44" fill="#f0a670" />
<rect x="117.70" y="417.97" width="19.50" height="2.44" fill="#f1aa72" />
<rect x="117.70" y="419.81" width="19.50" height="2.44" fill="#f2ac73" />
<rect x="117.70" y="421.66" width="19.50" height="2.44" fill="#f4b478" />
<rect x="117.70" y="423.50" width="19.50" height="2.44" fill="#f4b67a" />
<rect x="117.70" y="425.34" width="19.50" height="2.44" fill="#f8e5b4" />
<rect x="117.70" y="427.19" width="19.50" height="2.44" fill="#f8e8b9" />
<rect x="117.70" y="429.03" width="19.50" height="2.44" fill="#f8dfa7" />
<rect x="117.70" y="430.87" width="19.50" height="2.44" fill="#f8dda3" />
<rect x="117.70" y="432.71" width="19.50" height="2.44" fill="#f8e1ab" />
<rect x="117.70" y="434.56" width="19.50" height="2.44" fill="#f8d698" />
<rect x="117.70" y="436.40" width="19.50" height="2.44" fill="#f8d395" />
<rect x="117.70" y="438.24" width="19.50" height="2.44" fill="#f8d597" />
<rect x="117.70" y="440.09" width="19.50" height="2.44" fill="#f6c183" />
<rect x="117.70" y="441.93" width="19.50" height="2.44" fill="#f5bd7f" />
<rect x="117.70" y="443.77" width="19.50" height="2.44" fill="#f6c183" />
<rect x="117.70" y="445.61" width="19.50" height="2.44" fill="#f8dea6" />
<rect x="117.70" y="447.46" width="19.50" height="2.44" fill="#f8e0a9" />
<rect x="117.70" y="449.30" width="19.50" height="2.44" fill="#f2ad74" />
<rect x="117.70" y="451.14" width="19.50" height="2.44" fill="#f1a871" />
<rect x="117.70" y="452.99" width="19.50" height="2.44" fill="#f2ad74" />
<rect x="117.70" y="454.83" width="19.50" height="2.44" fill="#f1a770" />
<rect x="117.70" y="456.67" width="19.50" height="2.44" fill="#f1a972" />
<rect x="117.70" y="458.51" width="19.50" height="2.44" fill="#f2af75" />
<rect x="117.70" y="460.36" width="19.50" height="2.44" fill="#e5845b" />
<rect x="117.70" y="462.20" width="19.50" height="2.44" fill="#ee9c6a" />
<rect x="117.70" y="464.04" width="19.50" height="2.44" fill="#ef9d6a" />
<rect x="117.70" y="465.89" width="19.50" height="2.44" fill="#ec9465" />
<rect x="117.70" y="467.73" width="19.50" height="2.44" fill="#ed9867" />
<rect x="117.70" y="469.57" width="19.50" height="2.44" fill="#ed9767" />
<rect x="117.70" y="471.41" width="19.50" height="2.44" fill="#ef9f6c" />
<rect x="117.70" y="473.26" width="19.50" height="2.44" fill="#f0a46e" />
<rect x="117.70" y="475.10" width="19.50" height="2.44" fill="#ee9d6a" />
<rect x="117.70" y="476.94" width="19.50" height="2.44" fill="#efa16d" />
<rect x="117.70" y="478.79" width="19.50" height="2.44" fill="#ed9867" />
<rect x="117.70" y="480.63" width="19.50" height="2.44" fill="#f6c486" />
<rect x="117.70" y="482.47" width="19.50" height="2.44" fill="#f6c587" />
<rect x="117.70" y="484.31" width="19.50" height="2.44" fill="#f0a16d" />
<rect x="117.70" y="486.16" width="19.50" height="1.84" fill="#efa16d" />
<text x="0" y="0" font-size="6.6" fill="#222" stroke="#222" stroke-width="0.14" text-anchor="middle" transform="translate(146.9 175.8) rotate(-90)" textLength="57" lengthAdjust="spacingAndGlyphs">Decreased (128)</text>
<text x="0" y="0" font-size="6.6" fill="#222" stroke="#222" stroke-width="0.14" text-anchor="middle" transform="translate(147.2 391) rotate(-90)" textLength="54" lengthAdjust="spacingAndGlyphs">Increased (105)</text>
<rect x="7.8" y="497.8" width="199.1" height="170.2" fill="url(#netbg)"/>
<path d="M9.5 555.6 A194.6 194.6 0 0 1 202 559.5" fill="none" stroke="#c9e1dd" stroke-width="11"/>
<path d="M9.5 555.6 A194.6 194.6 0 0 1 202 559.5" fill="none" stroke="#deebdc" stroke-width="5.2"/>
<path d="M9.5 555.6 A194.6 194.6 0 0 1 202 559.5" fill="none" stroke="#d3e5da" stroke-width="4" stroke-dasharray="0.6 1.3"/>
<path d="M17.5 598.6 A368.3 368.3 0 0 1 198.5 597.9" fill="none" stroke="#eee0e0" stroke-width="8.4"/>
<path d="M17.5 598.6 A368.3 368.3 0 0 1 198.5 597.9" fill="none" stroke="#e9d7da" stroke-width="4.5" stroke-dasharray="0.6 1.2"/>
<line x1="105.50" y1="599.50" x2="85.00" y2="516.80" stroke="#56524f" stroke-width="0.65" />
<line x1="108.30" y1="599.00" x2="109.70" y2="516.80" stroke="#56524f" stroke-width="0.65" />
<line x1="104.00" y1="599.80" x2="70.60" y2="541.00" stroke="#56524f" stroke-width="0.65" />
<path d="M70.60 541.00 L71.04 544.66 L73.52 543.25 Z" fill="#56524f"/>
<line x1="102.50" y1="600.50" x2="70.60" y2="567.80" stroke="#56524f" stroke-width="0.65" />
<line x1="110.50" y1="599.20" x2="123.60" y2="549.30" stroke="#56524f" stroke-width="0.65" />
<line x1="112.50" y1="599.60" x2="146.60" y2="539.40" stroke="#56524f" stroke-width="0.65" />
<path d="M146.60 539.40 L143.68 541.65 L146.17 543.06 Z" fill="#56524f"/>
<line x1="97.50" y1="601.50" x2="34.10" y2="574.30" stroke="#56524f" stroke-width="0.65" />
<path d="M34.10 574.30 L36.66 576.95 L37.79 574.33 Z" fill="#56524f"/>
<line x1="96.20" y1="604.60" x2="58.90" y2="605.10" stroke="#56524f" stroke-width="0.65" />
<path d="M58.90 605.10 L62.32 606.48 L62.28 603.63 Z" fill="#56524f"/>
<line x1="98.50" y1="607.80" x2="68.40" y2="622.60" stroke="#56524f" stroke-width="0.65" />
<path d="M68.40 622.60 L72.08 622.38 L70.82 619.82 Z" fill="#56524f"/>
<line x1="103.00" y1="609.00" x2="83.40" y2="640.60" stroke="#56524f" stroke-width="0.65" />
<path d="M83.40 640.60 L86.41 638.46 L83.98 636.96 Z" fill="#56524f"/>
<line x1="107.80" y1="609.30" x2="107.70" y2="652.20" stroke="#56524f" stroke-width="0.65" />
<line x1="112.50" y1="609.00" x2="126.30" y2="639.20" stroke="#56524f" stroke-width="0.65" />
<path d="M126.30 639.20 L126.19 635.51 L123.59 636.70 Z" fill="#56524f"/>
<line x1="119.50" y1="607.20" x2="152.10" y2="623.00" stroke="#56524f" stroke-width="0.65" />
<path d="M152.10 623.00 L149.66 620.23 L148.42 622.80 Z" fill="#56524f"/>
<line x1="120.30" y1="604.40" x2="169.40" y2="605.90" stroke="#56524f" stroke-width="0.65" />
<path d="M169.40 605.90 L166.05 604.37 L165.96 607.22 Z" fill="#56524f"/>
<path d="M76.80 500.56 Q76.70 499.95 77.46 499.95 L79.08 499.95 Q79.48 500.05 79.68 500.66 L81.10 504.00 L82.52 500.66 Q82.72 500.05 83.12 499.95 L84.74 499.95 Q85.50 499.95 85.40 500.56 Q84.54 505.51 81.10 508.60 Q77.66 505.51 76.80 500.56 Z" fill="url(#gmint)" stroke="#5e9282" stroke-width="0.5"/>
<path d="M105.30 500.56 Q105.20 499.95 105.96 499.95 L107.58 499.95 Q107.98 500.05 108.18 500.66 L109.60 504.00 L111.02 500.66 Q111.22 500.05 111.62 499.95 L113.24 499.95 Q114.00 499.95 113.90 500.56 Q113.04 505.51 109.60 508.60 Q106.16 505.51 105.30 500.56 Z" fill="url(#gmint)" stroke="#5e9282" stroke-width="0.5"/>
<path d="M132.60 501.08 Q132.49 500.45 133.32 500.45 L135.09 500.45 Q135.53 500.55 135.75 501.19 L137.30 504.68 L138.85 501.19 Q139.07 500.55 139.51 500.45 L141.28 500.45 Q142.11 500.45 142.00 501.08 Q141.06 506.27 137.30 509.50 Q133.54 506.27 132.60 501.08 Z" fill="url(#gmint)" stroke="#5e9282" stroke-width="0.5"/>
<rect x="74.30" y="510.40" width="14.90" height="6.60" fill="#ffffff" />
<text x="81.75" y="515.55" font-size="5.6" text-anchor="middle" fill="#1e1e1e" stroke="#1e1e1e" stroke-width="0.1" style="font-family:'Liberation Serif',serif" textLength="10.90" lengthAdjust="spacingAndGlyphs">IL12A</text>
<rect x="101.50" y="510.00" width="15.40" height="6.80" fill="#ffffff" />
<text x="109.20" y="515.25" font-size="5.6" text-anchor="middle" fill="#1e1e1e" stroke="#1e1e1e" stroke-width="0.1" style="font-family:'Liberation Serif',serif" textLength="11.40" lengthAdjust="spacingAndGlyphs">FASLG</text>
<rect x="130.00" y="511.00" width="13.80" height="6.20" fill="#ffffff" />
<text x="136.90" y="515.95" font-size="5.6" text-anchor="middle" fill="#1e1e1e" stroke="#1e1e1e" stroke-width="0.1" style="font-family:'Liberation Serif',serif" textLength="9.80" lengthAdjust="spacingAndGlyphs">CCL4</text>
<path d="M61.95 540.50 L61.95 532.40 Q59.50 530.80 59.70 525.80 Q60.80 524.00 61.90 525.80 Q62.00 529.40 63.90 530.50 Q65.80 529.40 65.90 525.80 Q67.00 524.00 68.10 525.80 Q68.30 530.80 65.85 532.40 L65.85 540.50 Q63.90 542.60 61.95 540.50 Z" fill="url(#grecep)" stroke="#6f78aa" stroke-width="0.45"/>
<path d="M125.55 539.60 L125.55 530.90 Q123.10 529.30 123.30 524.30 Q124.40 522.50 125.50 524.30 Q125.60 527.90 127.50 529.00 Q129.40 527.90 129.50 524.30 Q130.60 522.50 131.70 524.30 Q131.90 529.30 129.45 530.90 L129.45 539.60 Q127.50 541.70 125.55 539.60 Z" fill="url(#grecep)" stroke="#6f78aa" stroke-width="0.45"/>
<path d="M150.25 539.60 L150.25 531.30 Q147.80 529.70 148.00 524.70 Q149.10 522.90 150.20 524.70 Q150.30 528.30 152.20 529.40 Q154.10 528.30 154.20 524.70 Q155.30 522.90 156.40 524.70 Q156.60 529.70 154.15 531.30 L154.15 539.60 Q152.20 541.70 150.25 539.60 Z" fill="url(#grecep)" stroke="#6f78aa" stroke-width="0.45"/>
<path d="M176.65 544.20 L176.65 536.40 Q174.20 534.80 174.40 529.80 Q175.50 528.00 176.60 529.80 Q176.70 533.40 178.60 534.50 Q180.50 533.40 180.60 529.80 Q181.70 528.00 182.80 529.80 Q183.00 534.80 180.55 536.40 L180.55 544.20 Q178.60 546.30 176.65 544.20 Z" fill="url(#grecep)" stroke="#6f78aa" stroke-width="0.45"/>
<rect x="56.30" y="543.00" width="15.80" height="7.50" fill="#ffffff" />
<text x="64.20" y="548.60" font-size="5.6" text-anchor="middle" fill="#1e1e1e" stroke="#1e1e1e" stroke-width="0.1" style="font-family:'Liberation Serif',serif" textLength="11.80" lengthAdjust="spacingAndGlyphs">IL2RB</text>
<rect x="119.60" y="542.30" width="16.20" height="7.00" fill="#ffffff" />
<text x="127.70" y="547.65" font-size="5.6" text-anchor="middle" fill="#1e1e1e" stroke="#1e1e1e" stroke-width="0.1" style="font-family:'Liberation Serif',serif" textLength="12.20" lengthAdjust="spacingAndGlyphs">ITGAX</text>
<rect x="145.00" y="542.80" width="14.60" height="7.20" fill="#ffffff" />
<text x="152.30" y="548.25" font-size="5.6" text-anchor="middle" fill="#1e1e1e" stroke="#1e1e1e" stroke-width="0.1" style="font-family:'Liberation Serif',serif" textLength="10.60" lengthAdjust="spacingAndGlyphs">CD28</text>
<rect x="170.40" y="548.40" width="16.10" height="6.70" fill="#ffffff" />
<text x="178.45" y="553.60" font-size="5.6" text-anchor="middle" fill="#1e1e1e" stroke="#1e1e1e" stroke-width="0.1" style="font-family:'Liberation Serif',serif" textLength="12.10" lengthAdjust="spacingAndGlyphs">CTLA4</text>
<path d="M29.59 539.96 L32.21 539.96 A3.90 3.90 0 1 1 32.21 543.24 L29.59 543.24 A3.90 3.90 0 1 1 29.59 539.96 Z" fill="url(#gblue)" stroke="#6f78aa" stroke-width="0.45"/>
<rect x="19.20" y="546.50" width="23.40" height="7.40" fill="#ffffff" />
<text x="30.90" y="552.05" font-size="5.6" text-anchor="middle" fill="#1e1e1e" stroke="#1e1e1e" stroke-width="0.1" style="font-family:'Liberation Serif',serif" textLength="19.40" lengthAdjust="spacingAndGlyphs">NOTCH1</text>
<ellipse cx="62.00" cy="561.50" rx="2.60" ry="2.30" fill="url(#gblue)" stroke="#6f78aa" stroke-width="0.45"/>
<ellipse cx="68.00" cy="561.50" rx="2.60" ry="2.30" fill="url(#gblue)" stroke="#6f78aa" stroke-width="0.45"/>
<ellipse cx="65.00" cy="565.50" rx="2.60" ry="2.30" fill="url(#gblue)" stroke="#6f78aa" stroke-width="0.45"/>
<circle cx="65.00" cy="562.90" r="1.50" fill="#e8eaf4"/>
<rect x="58.60" y="569.60" width="13.00" height="6.60" fill="#ffffff" />
<text x="65.10" y="574.75" font-size="5.6" text-anchor="middle" fill="#1e1e1e" stroke="#1e1e1e" stroke-width="0.1" style="font-family:'Liberation Serif',serif" textLength="9.00" lengthAdjust="spacingAndGlyphs">FYN</text>
<circle cx="29.2" cy="572.4" r="4.0" fill="url(#gblue)" stroke="#6f78aa" stroke-width="0.45"/>
<rect x="20.60" y="577.90" width="16.80" height="6.80" fill="#ffffff" />
<text x="29.00" y="583.15" font-size="5.6" text-anchor="middle" fill="#1e1e1e" stroke="#1e1e1e" stroke-width="0.1" style="font-family:'Liberation Serif',serif" textLength="12.80" lengthAdjust="spacingAndGlyphs">ITGAD</text>
<ellipse cx="148.6" cy="571.7" rx="4.6" ry="5.0" fill="url(#gblue)" stroke="#6f78aa" stroke-width="0.45"/>
<rect x="141.30" y="578.40" width="14.60" height="6.40" fill="#ffffff" />
<text x="148.60" y="583.45" font-size="5.6" text-anchor="middle" fill="#1e1e1e" stroke="#1e1e1e" stroke-width="0.1" style="font-family:'Liberation Serif',serif" textLength="10.60" lengthAdjust="spacingAndGlyphs">TIGIT</text>
<ellipse cx="171.08" cy="569.13" rx="2.79" ry="2.50" fill="url(#gblue)" stroke="#6f78aa" stroke-width="0.45"/>
<ellipse cx="177.52" cy="569.13" rx="2.79" ry="2.50" fill="url(#gblue)" stroke="#6f78aa" stroke-width="0.45"/>
<ellipse cx="174.30" cy="573.49" rx="2.79" ry="2.50" fill="url(#gblue)" stroke="#6f78aa" stroke-width="0.45"/>
<circle cx="174.30" cy="570.66" r="1.61" fill="#e8eaf4"/>
<rect x="165.90" y="578.40" width="16.60" height="6.40" fill="#ffffff" />
<text x="174.20" y="583.45" font-size="5.6" text-anchor="middle" fill="#1e1e1e" stroke="#1e1e1e" stroke-width="0.1" style="font-family:'Liberation Serif',serif" textLength="12.60" lengthAdjust="spacingAndGlyphs" font-style="italic">ZAP70</text>
<ellipse cx="172.58" cy="604.58" rx="2.53" ry="2.20" fill="#ffffff" stroke="#b4b0b4" stroke-width="0.45"/>
<ellipse cx="178.42" cy="604.58" rx="2.53" ry="2.20" fill="#ffffff" stroke="#b4b0b4" stroke-width="0.45"/>
<ellipse cx="175.50" cy="608.41" rx="2.53" ry="2.20" fill="#ffffff" stroke="#b4b0b4" stroke-width="0.45"/>
<circle cx="175.50" cy="605.92" r="1.46" fill="#ffffff"/>
<rect x="164.40" y="612.30" width="21.10" height="6.50" fill="#ffffff" />
<text x="174.95" y="617.40" font-size="5.6" text-anchor="middle" fill="#1e1e1e" stroke="#1e1e1e" stroke-width="0.1" style="font-family:'Liberation Serif',serif" textLength="17.10" lengthAdjust="spacingAndGlyphs">CDKN1A</text>
<path d="M157.6 617.3 Q153.2 618.8 154.6 623.2 Q155.6 625.6 158.6 625.2 Q156.3 623.8 156.4 621.4 Q156.6 619.2 158.9 618.6 Z" fill="#e4a8a8" stroke="#b4686a" stroke-width="0.45"/>
<path d="M160.3 624.3 Q155.8 625.8 157.0 630.0 Q158.2 632.8 161.4 633.2 Q159.0 631.0 159.0 628.5 Q159.2 626.3 161.4 625.6 Z" fill="#e4a8a8" stroke="#b4686a" stroke-width="0.45"/>
<rect x="148.00" y="634.80" width="19.70" height="6.20" fill="#ffffff" />
<text x="157.85" y="639.75" font-size="5.6" text-anchor="middle" fill="#1e1e1e" stroke="#1e1e1e" stroke-width="0.1" style="font-family:'Liberation Serif',serif" textLength="15.70" lengthAdjust="spacingAndGlyphs">TNFAIP3</text>
<circle cx="181.3" cy="634.8" r="4.35" fill="url(#gred)" stroke="#9c5656" stroke-width="0.5"/>
<circle cx="190.1" cy="634.8" r="4.35" fill="url(#gred)" stroke="#9c5656" stroke-width="0.5"/>
<text x="185.70" y="636.60" font-size="5.2" text-anchor="middle" fill="#2a1a1a" stroke="#2a1a1a" stroke-width="0.1" style="font-family:'Liberation Serif',serif" textLength="16.50" lengthAdjust="spacingAndGlyphs">TSC22D3</text>
<circle cx="101.2" cy="604.0" r="5.1" fill="url(#gred)" stroke="#a55e5e" stroke-width="0.5"/>
<circle cx="115.2" cy="604.0" r="5.1" fill="url(#gred)" stroke="#a55e5e" stroke-width="0.5"/>
<rect x="102.40" y="600.60" width="11.40" height="7.10" fill="#ffffff" />
<text x="108.10" y="605.93" font-size="5.4" text-anchor="middle" fill="#1e1e1e" stroke="#1e1e1e" stroke-width="0.1" style="font-family:'Liberation Serif',serif" textLength="7.40" lengthAdjust="spacingAndGlyphs">SP1</text>
<circle cx="39.45" cy="606.10" r="4.85" fill="url(#ggray)" stroke="#8f8a8e" stroke-width="0.55"/>
<circle cx="52.95" cy="606.10" r="4.85" fill="url(#ggray)" stroke="#8f8a8e" stroke-width="0.55"/>
<rect x="40.65" y="601.92" width="11.10" height="8.36" fill="#fbfafb"/>
<text x="46.20" y="607.95" font-size="5.6" text-anchor="middle" fill="#1e1e1e" stroke="#1e1e1e" stroke-width="0.1" style="font-family:'Liberation Serif',serif" textLength="11.80" lengthAdjust="spacingAndGlyphs">KLF4</text>
<circle cx="48.25" cy="628.30" r="4.80" fill="url(#ggray)" stroke="#8f8a8e" stroke-width="0.55"/>
<circle cx="63.95" cy="628.30" r="4.80" fill="url(#ggray)" stroke="#8f8a8e" stroke-width="0.55"/>
<rect x="49.45" y="624.16" width="13.30" height="8.28" fill="#fbfafb"/>
<text x="56.10" y="630.15" font-size="5.6" text-anchor="middle" fill="#1e1e1e" stroke="#1e1e1e" stroke-width="0.1" style="font-family:'Liberation Serif',serif" textLength="14.75" lengthAdjust="spacingAndGlyphs">FOXP3</text>
<circle cx="71.50" cy="646.70" r="4.70" fill="url(#ggray)" stroke="#8f8a8e" stroke-width="0.55"/>
<circle cx="87.50" cy="646.70" r="4.70" fill="url(#ggray)" stroke="#8f8a8e" stroke-width="0.55"/>
<rect x="72.70" y="642.64" width="13.60" height="8.12" fill="#fbfafb"/>
<text x="79.50" y="648.55" font-size="5.6" text-anchor="middle" fill="#1e1e1e" stroke="#1e1e1e" stroke-width="0.1" style="font-family:'Liberation Serif',serif" textLength="11.80" lengthAdjust="spacingAndGlyphs">EGR1</text>
<circle cx="99.60" cy="657.10" r="4.70" fill="url(#ggray)" stroke="#8f8a8e" stroke-width="0.55"/>
<circle cx="116.00" cy="657.10" r="4.70" fill="url(#ggray)" stroke="#8f8a8e" stroke-width="0.55"/>
<rect x="100.80" y="653.04" width="14.00" height="8.12" fill="#fbfafb"/>
<text x="107.80" y="658.95" font-size="5.6" text-anchor="middle" fill="#1e1e1e" stroke="#1e1e1e" stroke-width="0.1" style="font-family:'Liberation Serif',serif" textLength="11.80" lengthAdjust="spacingAndGlyphs">IRF8</text>
<circle cx="121.40" cy="644.90" r="4.90" fill="url(#ggray)" stroke="#8f8a8e" stroke-width="0.55"/>
<circle cx="137.60" cy="644.90" r="4.90" fill="url(#ggray)" stroke="#8f8a8e" stroke-width="0.55"/>
<rect x="122.60" y="640.68" width="13.80" height="8.45" fill="#fbfafb"/>
<text x="129.50" y="646.75" font-size="5.6" text-anchor="middle" fill="#1e1e1e" stroke="#1e1e1e" stroke-width="0.1" style="font-family:'Liberation Serif',serif" textLength="8.85" lengthAdjust="spacingAndGlyphs" font-style="italic">MYC</text>
<text x="165.00" y="17.50" font-size="11.3" text-anchor="start" fill="#111" stroke="#111" stroke-width="0.14" >B</text>
<rect x="168.9" y="31.70" width="133.50" height="14.20" fill="#a03546" stroke="#862838" stroke-width="0.8"/>
<line x1="165.40" y1="38.80" x2="168.50" y2="38.80" stroke="#222" stroke-width="0.8" />
<text x="305.80" y="41.00" font-size="5.9" text-anchor="start" fill="#1a1a1a" stroke="#1a1a1a" stroke-width="0.14" textLength="28.8" lengthAdjust="spacingAndGlyphs" >Proliferation</text>
<rect x="168.9" y="52.40" width="119.90" height="14.20" fill="#4f6583" stroke="#3c5070" stroke-width="0.8"/>
<line x1="165.40" y1="59.50" x2="168.50" y2="59.50" stroke="#222" stroke-width="0.8" />
<text x="292.00" y="61.70" font-size="5.9" text-anchor="start" fill="#1a1a1a" stroke="#1a1a1a" stroke-width="0.14" textLength="32.7" lengthAdjust="spacingAndGlyphs" >Development</text>
<rect x="168.9" y="73.00" width="95.20" height="14.30" fill="#78aa5a" stroke="#5f9144" stroke-width="0.8"/>
<line x1="165.40" y1="80.15" x2="168.50" y2="80.15" stroke="#222" stroke-width="0.8" />
<text x="267.00" y="82.35" font-size="5.9" text-anchor="start" fill="#1a1a1a" stroke="#1a1a1a" stroke-width="0.14" textLength="26.6" lengthAdjust="spacingAndGlyphs" >Interaction</text>
<rect x="168.9" y="94.00" width="87.70" height="14.30" fill="#6b4568" stroke="#553452" stroke-width="0.8"/>
<line x1="165.40" y1="101.15" x2="168.50" y2="101.15" stroke="#222" stroke-width="0.8" />
<text x="260.10" y="103.35" font-size="5.9" text-anchor="start" fill="#1a1a1a" stroke="#1a1a1a" stroke-width="0.14" textLength="26" lengthAdjust="spacingAndGlyphs" >Movement</text>
<rect x="168.9" y="114.40" width="85.70" height="14.80" fill="#d9963e" stroke="#d9963e" stroke-width="0.8"/>
<line x1="165.40" y1="121.80" x2="168.50" y2="121.80" stroke="#222" stroke-width="0.8" />
<text x="258.10" y="124.00" font-size="5.9" text-anchor="start" fill="#1a1a1a" stroke="#1a1a1a" stroke-width="0.14" textLength="51.8" lengthAdjust="spacingAndGlyphs" >Function &amp; Maintance</text>
<line x1="168.50" y1="27.80" x2="168.50" y2="132.60" stroke="#111" stroke-width="1.1" />
<line x1="168.00" y1="132.10" x2="350.30" y2="132.10" stroke="#111" stroke-width="1.1" />
<line x1="168.70" y1="132.00" x2="168.70" y2="135.00" stroke="#111" stroke-width="0.8" />
<text x="168.70" y="144.30" font-size="5.8" text-anchor="middle" fill="#1a1a1a" stroke="#1a1a1a" stroke-width="0.14" >0</text>
<line x1="220.40" y1="132.00" x2="220.40" y2="135.00" stroke="#111" stroke-width="0.8" />
<text x="220.40" y="144.30" font-size="5.8" text-anchor="middle" fill="#1a1a1a" stroke="#1a1a1a" stroke-width="0.14" >50</text>
<line x1="272.70" y1="132.00" x2="272.70" y2="135.00" stroke="#111" stroke-width="0.8" />
<text x="272.70" y="144.30" font-size="5.8" text-anchor="middle" fill="#1a1a1a" stroke="#1a1a1a" stroke-width="0.14" >100</text>
<line x1="324.60" y1="132.00" x2="324.60" y2="135.00" stroke="#111" stroke-width="0.8" />
<text x="324.60" y="144.30" font-size="5.8" text-anchor="middle" fill="#1a1a1a" stroke="#1a1a1a" stroke-width="0.14" >150</text>
<text x="260.20" y="156.20" font-size="7.4" text-anchor="middle" fill="#1a1a1a" stroke="#1a1a1a" stroke-width="0.14" textLength="44.5" lengthAdjust="spacingAndGlyphs" >(# of genes)</text>
<text x="364.70" y="17.80" font-size="11.3" text-anchor="start" fill="#111" stroke="#111" stroke-width="0.14" >C</text>
<line x1="382.30" y1="24.30" x2="382.30" y2="132.80" stroke="#111" stroke-width="0.9" />
<line x1="379.70" y1="132.30" x2="382.30" y2="132.30" stroke="#111" stroke-width="0.8" />
<line x1="380.90" y1="125.73" x2="382.30" y2="125.73" stroke="#111" stroke-width="0.6" />
<line x1="380.90" y1="119.15" x2="382.30" y2="119.15" stroke="#111" stroke-width="0.6" />
<line x1="380.90" y1="112.58" x2="382.30" y2="112.58" stroke="#111" stroke-width="0.6" />
<line x1="379.70" y1="106.00" x2="382.30" y2="106.00" stroke="#111" stroke-width="0.8" />
<line x1="380.90" y1="99.43" x2="382.30" y2="99.43" stroke="#111" stroke-width="0.6" />
<line x1="380.90" y1="92.85" x2="382.30" y2="92.85" stroke="#111" stroke-width="0.6" />
<line x1="380.90" y1="86.28" x2="382.30" y2="86.28" stroke="#111" stroke-width="0.6" />
<line x1="379.70" y1="79.70" x2="382.30" y2="79.70" stroke="#111" stroke-width="0.8" />
<line x1="380.90" y1="73.13" x2="382.30" y2="73.13" stroke="#111" stroke-width="0.6" />
<line x1="380.90" y1="66.55" x2="382.30" y2="66.55" stroke="#111" stroke-width="0.6" />
<line x1="380.90" y1="59.98" x2="382.30" y2="59.98" stroke="#111" stroke-width="0.6" />
<line x1="379.70" y1="53.40" x2="382.30" y2="53.40" stroke="#111" stroke-width="0.8" />
<line x1="380.90" y1="46.83" x2="382.30" y2="46.83" stroke="#111" stroke-width="0.6" />
<line x1="380.90" y1="40.25" x2="382.30" y2="40.25" stroke="#111" stroke-width="0.6" />
<line x1="380.90" y1="33.68" x2="382.30" y2="33.68" stroke="#111" stroke-width="0.6" />
<line x1="379.70" y1="27.10" x2="382.30" y2="27.10" stroke="#111" stroke-width="0.8" />
<text x="376.20" y="108.25" font-size="6.3" text-anchor="end" fill="#1a1a1a" stroke="#1a1a1a" stroke-width="0.14" >75</text>
<text x="376.20" y="81.95" font-size="6.3" text-anchor="end" fill="#1a1a1a" stroke="#1a1a1a" stroke-width="0.14" >150</text>
<text x="376.20" y="55.65" font-size="6.3" text-anchor="end" fill="#1a1a1a" stroke="#1a1a1a" stroke-width="0.14" >225</text>
<line x1="382.30" y1="132.30" x2="508.00" y2="132.30" stroke="#111" stroke-width="0.9" />
<line x1="382.30" y1="132.30" x2="382.30" y2="134.90" stroke="#111" stroke-width="0.8" />
<line x1="388.80" y1="132.30" x2="388.80" y2="133.70" stroke="#111" stroke-width="0.6" />
<line x1="395.30" y1="132.30" x2="395.30" y2="133.70" stroke="#111" stroke-width="0.6" />
<line x1="401.80" y1="132.30" x2="401.80" y2="133.70" stroke="#111" stroke-width="0.6" />
<line x1="408.30" y1="132.30" x2="408.30" y2="133.70" stroke="#111" stroke-width="0.6" />
<line x1="414.80" y1="132.30" x2="414.80" y2="134.90" stroke="#111" stroke-width="0.8" />
<line x1="421.30" y1="132.30" x2="421.30" y2="133.70" stroke="#111" stroke-width="0.6" />
<line x1="427.80" y1="132.30" x2="427.80" y2="133.70" stroke="#111" stroke-width="0.6" />
<line x1="434.30" y1="132.30" x2="434.30" y2="133.70" stroke="#111" stroke-width="0.6" />
<line x1="440.80" y1="132.30" x2="440.80" y2="133.70" stroke="#111" stroke-width="0.6" />
<line x1="447.30" y1="132.30" x2="447.30" y2="134.90" stroke="#111" stroke-width="0.8" />
<line x1="453.80" y1="132.30" x2="453.80" y2="133.70" stroke="#111" stroke-width="0.6" />
<line x1="460.30" y1="132.30" x2="460.30" y2="133.70" stroke="#111" stroke-width="0.6" />
<line x1="466.80" y1="132.30" x2="466.80" y2="133.70" stroke="#111" stroke-width="0.6" />
<line x1="473.30" y1="132.30" x2="473.30" y2="133.70" stroke="#111" stroke-width="0.6" />
<line x1="479.80" y1="132.30" x2="479.80" y2="134.90" stroke="#111" stroke-width="0.8" />
<line x1="486.30" y1="132.30" x2="486.30" y2="133.70" stroke="#111" stroke-width="0.6" />
<line x1="492.80" y1="132.30" x2="492.80" y2="133.70" stroke="#111" stroke-width="0.6" />
<line x1="499.30" y1="132.30" x2="499.30" y2="133.70" stroke="#111" stroke-width="0.6" />
<line x1="505.80" y1="132.30" x2="505.80" y2="133.70" stroke="#111" stroke-width="0.6" />
<text x="480.15" y="58.60" font-size="5.8" text-anchor="middle" fill="#1a1a1a" stroke="#1a1a1a" stroke-width="0.14" textLength="17" lengthAdjust="spacingAndGlyphs" >Vehicle</text>
<line x1="471.35" y1="59.90" x2="488.95" y2="59.90" stroke="#333" stroke-width="0.55" />
<text x="459.20" y="71.00" font-size="5.8" text-anchor="start" fill="#86b766" stroke="#86b766" stroke-width="0.14" textLength="6.8" lengthAdjust="spacingAndGlyphs" >AP</text>
<text x="501.30" y="71.00" font-size="5.8" text-anchor="end" fill="#1a1a1a" stroke="#1a1a1a" stroke-width="0.14" textLength="10.9" lengthAdjust="spacingAndGlyphs" >1.9%</text>
<text x="459.20" y="80.40" font-size="5.8" text-anchor="start" fill="#5b77a5" stroke="#5b77a5" stroke-width="0.14" textLength="15" lengthAdjust="spacingAndGlyphs" >G0/G1</text>
<text x="501.30" y="80.40" font-size="5.8" text-anchor="end" fill="#1a1a1a" stroke="#1a1a1a" stroke-width="0.14" textLength="14.3" lengthAdjust="spacingAndGlyphs" >31.4%</text>
<text x="459.20" y="89.80" font-size="5.8" text-anchor="start" fill="#b24a5a" stroke="#b24a5a" stroke-width="0.14" textLength="17.8" lengthAdjust="spacingAndGlyphs" >S/G2/M</text>
<text x="501.30" y="89.80" font-size="5.8" text-anchor="end" fill="#1a1a1a" stroke="#1a1a1a" stroke-width="0.14" textLength="14.3" lengthAdjust="spacingAndGlyphs" >66.6%</text>
<polygon points="431.50,132.3 431.50,132.30 431.75,130.99 432.00,129.69 432.25,128.44 432.50,127.25 432.75,126.14 433.00,125.13 433.25,124.24 433.50,123.47 433.75,122.85 434.00,122.38 434.25,122.06 434.50,121.91 434.75,121.90 435.00,121.90 435.25,121.90 435.50,121.90 435.75,121.90 436.00,121.90 436.25,121.90 436.50,121.90 436.75,121.90 437.00,121.90 437.25,121.90 437.50,121.90 437.75,121.90 438.00,121.90 438.25,121.90 438.50,121.90 438.75,121.90 439.00,121.90 439.25,121.90 439.50,121.90 439.75,121.90 440.00,121.90 440.25,121.90 440.50,121.90 440.75,121.90 441.00,121.90 441.25,121.90 441.50,121.90 441.75,121.90 442.00,121.90 442.25,121.90 442.50,121.90 442.75,121.90 443.00,121.90 443.25,121.90 443.50,121.90 443.75,121.90 444.00,121.90 444.25,121.90 444.50,121.90 444.75,121.90 445.00,121.90 445.25,121.90 445.50,121.90 445.75,121.90 446.00,121.90 446.25,121.90 446.50,121.90 446.75,121.90 447.00,121.90 447.25,121.90 447.50,121.90 447.75,121.90 448.00,121.90 448.25,121.90 448.50,121.90 448.75,121.90 449.00,121.90 449.25,121.90 449.50,121.90 449.75,121.90 450.00,121.90 450.25,121.90 450.50,121.90 450.75,121.90 451.00,121.90 451.25,121.90 451.50,121.90 451.75,121.90 452.00,121.90 452.25,121.90 452.50,121.90 452.75,121.90 453.00,121.90 453.25,121.90 453.50,121.90 453.75,121.90 454.00,121.90 454.25,121.90 454.50,121.90 454.75,121.90 455.00,121.90 455.25,121.90 455.50,121.90 455.75,121.90 456.00,121.90 456.25,121.90 456.50,121.90 456.75,121.90 457.00,121.90 457.25,121.90 457.50,121.90 457.75,121.90 458.00,121.90 458.25,121.90 458.50,121.90 458.75,121.90 459.00,121.90 459.25,121.90 459.50,121.90 459.75,121.90 460.00,121.90 460.25,121.90 460.50,121.90 460.75,121.90 461.00,121.90 461.25,121.90 461.50,121.90 461.75,121.90 462.00,121.90 462.25,121.90 462.50,121.90 462.75,121.90 463.00,121.90 463.25,121.90 463.50,121.90 463.75,121.90 464.00,121.90 464.25,121.90 464.50,121.90 464.75,121.90 465.00,121.90 465.25,121.90 465.50,121.90 465.75,121.90 466.00,121.90 466.25,121.90 466.50,121.90 466.75,121.90 467.00,121.90 467.25,121.90 467.50,121.90 467.75,121.90 468.00,121.90 468.25,121.90 468.50,121.90 468.75,121.90 469.00,121.90 469.25,121.90 469.50,121.90 469.75,121.90 470.00,121.90 470.25,121.90 470.50,121.90 470.75,121.90 471.00,121.90 471.25,121.90 471.50,121.90 471.75,121.90 472.00,121.90 472.25,121.90 472.50,121.90 472.75,121.90 473.00,121.90 473.25,121.90 473.50,121.90 473.75,121.90 474.00,121.90 474.25,121.90 474.50,121.90 474.75,121.90 475.00,121.90 475.25,121.90 475.50,121.90 475.75,121.90 476.00,121.90 476.25,121.90 476.50,121.90 476.75,121.90 477.00,121.90 477.25,122.36 477.50,122.81 477.75,123.27 478.00,123.72 478.25,124.18 478.50,124.64 478.75,125.09 479.00,125.55 479.25,126.01 479.50,126.46 479.75,126.92 480.00,127.37 480.25,127.83 480.50,128.29 480.75,128.74 481.00,129.20 481.25,129.65 481.50,130.11 481.75,130.57 482.00,131.02 482.25,131.48 482.50,131.94 482.75,132.30 482.70,132.3" fill="#a3283f"/>
<polygon points="426.90,132.30 427.10,130.27 427.30,127.79 427.50,125.12 427.70,122.30 427.90,119.37 428.10,116.36 428.30,113.27 428.50,110.11 428.70,106.89 428.90,103.62 429.10,100.29 429.30,96.93 429.50,93.52 429.70,90.06 429.90,86.58 430.10,83.05 430.30,79.50 430.50,75.91 430.70,72.29 430.90,68.65 431.10,64.97 431.30,61.27 431.50,57.55 431.70,53.80 431.90,58.30 432.10,62.76 432.30,67.18 432.50,71.57 432.70,75.91 432.90,80.21 433.10,84.47 433.30,88.67 433.50,92.83 433.70,96.93 433.90,100.96 434.10,104.93 434.30,108.83 434.50,112.64 434.70,116.36 434.90,119.97 435.10,123.44 435.30,126.74 435.50,129.80 435.70,132.30 435.70,132.30" fill="url(#hatch)" stroke="#3d5a8c" stroke-width="0.65"/>
<polyline points="472.00,132.30 472.50,132.30 473.00,131.97 473.50,131.49 474.00,130.92 474.50,130.30 475.00,129.62 475.50,128.90 476.00,128.15 476.50,127.36 477.00,126.55 477.50,125.70 478.00,124.83 478.50,124.71 479.00,125.72 479.50,126.70 480.00,127.64 480.50,128.54 481.00,129.38 481.50,130.18 482.00,130.91 482.50,131.56 483.00,132.09 483.50,132.30" fill="none" stroke="#4a4f8a" stroke-width="0.7"/>
<polyline points="382.3,131.36 382.8,131.02 383.3,131.43 383.8,131.19 384.3,131.20 384.8,131.33 385.3,131.50 385.8,131.50 386.3,131.07 386.8,131.50 387.3,131.50 387.8,131.26 388.3,131.48 388.8,131.50 389.3,131.50 389.8,131.50 390.3,131.26 390.8,131.50 391.3,131.44 391.8,131.50 392.3,131.40 392.8,131.34 393.3,131.09 393.8,131.50 394.3,131.50 394.8,131.50 395.3,131.50 395.8,131.50 396.3,131.50 396.8,131.50 397.3,131.50 397.8,131.50 398.3,131.50 398.8,131.08 399.3,131.50 399.8,131.26 400.3,131.50 400.8,131.50 401.3,131.33 401.8,131.50 402.3,131.49 402.8,131.42 403.3,131.35 403.8,131.50 404.3,131.50 404.8,130.90 405.3,131.49 405.8,131.50 406.3,131.46 406.8,131.50 407.3,131.22 407.8,131.50 408.3,131.37 408.8,131.50 409.3,131.49 409.8,131.50 410.3,131.44 410.8,131.50 411.3,131.40 411.8,131.46 412.3,130.88 412.8,131.50 413.3,131.50 413.8,131.19 414.3,131.49 414.8,131.50 415.3,131.28 415.8,131.36 416.3,131.50 416.8,131.50 417.3,131.50 417.8,131.48 418.3,131.29 418.8,131.05 419.3,131.33 419.8,131.50 420.3,131.31 420.8,131.42 421.3,131.50 421.8,131.50 422.3,131.30 422.8,131.26 423.3,131.23 423.8,131.50 424.3,131.41 424.8,131.44 425.3,131.50 425.8,131.50 426.3,131.50 426.8,130.81 427.3,126.95 427.8,120.05 428.3,111.48 428.8,102.03 429.3,91.64 429.8,81.23 430.3,69.73 430.8,58.91 431.3,46.93 431.8,55.25 432.3,66.38 432.8,77.27 433.3,87.87 433.8,98.15 434.3,108.03 434.8,117.38 435.3,119.25 435.8,117.27 436.3,118.50 436.8,117.41 437.3,118.30 437.8,118.57 438.3,116.93 438.8,118.91 439.3,120.55 439.8,121.86 440.3,121.93 440.8,121.09 441.3,120.87 441.8,122.09 442.3,122.62 442.8,123.83 443.3,122.94 443.8,120.71 444.3,118.80 444.8,116.00 445.3,116.15 445.8,116.25 446.3,118.36 446.8,120.45 447.3,122.79 447.8,120.40 448.3,118.62 448.8,118.68 449.3,122.16 449.8,121.69 450.3,122.92 450.8,122.33 451.3,120.06 451.8,121.74 452.3,119.32 452.8,118.44 453.3,118.53 453.8,118.47 454.3,117.09 454.8,118.37 455.3,119.84 455.8,119.72 456.3,119.59 456.8,117.37 457.3,118.26 457.8,120.03 458.3,122.50 458.8,122.62 459.3,119.33 459.8,121.70 460.3,118.73 460.8,117.80 461.3,118.56 461.8,118.00 462.3,120.51 462.8,118.26 463.3,117.78 463.8,117.84 464.3,119.21 464.8,117.09 465.3,118.88 465.8,119.74 466.3,118.57 466.8,119.31 467.3,122.32 467.8,118.23 468.3,120.00 468.8,118.52 469.3,120.85 469.8,123.93 470.3,123.11 470.8,119.55 471.3,122.06 471.8,121.43 472.3,121.03 472.8,119.83 473.3,119.87 473.8,119.69 474.3,119.92 474.8,117.55 475.3,119.52 475.8,118.26 476.3,118.45 476.8,118.93 477.3,119.47 477.8,118.89 478.3,123.12 478.8,124.92 479.3,126.43 479.8,128.00 480.3,128.62 480.8,129.96 481.3,130.87 481.8,131.10 482.3,131.42 482.8,131.50 483.3,131.50 483.8,131.29 484.3,131.50 484.8,131.48 485.3,131.50 485.8,131.42 486.3,131.48 486.8,131.50 487.3,131.42 487.8,131.50 488.3,131.13 488.8,131.50 489.3,131.42 489.8,131.32 490.3,131.16 490.8,131.50 491.3,131.48 491.8,131.50 492.3,131.30 492.8,131.05 493.3,131.50 493.8,130.90 494.3,131.50 494.8,131.39 495.3,131.31 495.8,131.50 496.3,130.93 496.8,131.50 497.3,131.50 497.8,131.50 498.3,131.08 498.8,131.50 499.3,131.31 499.8,131.31 500.3,131.24 500.8,131.50 501.3,131.50 501.8,131.50 502.3,131.49 502.8,131.50 503.3,131.50 503.8,131.50 504.3,131.05 504.8,131.39 505.3,130.80 505.8,130.86 506.3,131.33 506.8,131.15 507.3,131.50 507.8,131.50" fill="none" stroke="#6cb33f" stroke-width="0.75"/>
<line x1="382.30" y1="145.20" x2="382.30" y2="253.70" stroke="#111" stroke-width="0.9" />
<line x1="379.70" y1="253.20" x2="382.30" y2="253.20" stroke="#111" stroke-width="0.8" />
<line x1="380.90" y1="246.62" x2="382.30" y2="246.62" stroke="#111" stroke-width="0.6" />
<line x1="380.90" y1="240.05" x2="382.30" y2="240.05" stroke="#111" stroke-width="0.6" />
<line x1="380.90" y1="233.47" x2="382.30" y2="233.47" stroke="#111" stroke-width="0.6" />
<line x1="379.70" y1="226.90" x2="382.30" y2="226.90" stroke="#111" stroke-width="0.8" />
<line x1="380.90" y1="220.32" x2="382.30" y2="220.32" stroke="#111" stroke-width="0.6" />
<line x1="380.90" y1="213.75" x2="382.30" y2="213.75" stroke="#111" stroke-width="0.6" />
<line x1="380.90" y1="207.17" x2="382.30" y2="207.17" stroke="#111" stroke-width="0.6" />
<line x1="379.70" y1="200.60" x2="382.30" y2="200.60" stroke="#111" stroke-width="0.8" />
<line x1="380.90" y1="194.03" x2="382.30" y2="194.03" stroke="#111" stroke-width="0.6" />
<line x1="380.90" y1="187.45" x2="382.30" y2="187.45" stroke="#111" stroke-width="0.6" />
<line x1="380.90" y1="180.88" x2="382.30" y2="180.88" stroke="#111" stroke-width="0.6" />
<line x1="379.70" y1="174.30" x2="382.30" y2="174.30" stroke="#111" stroke-width="0.8" />
<line x1="380.90" y1="167.72" x2="382.30" y2="167.72" stroke="#111" stroke-width="0.6" />
<line x1="380.90" y1="161.15" x2="382.30" y2="161.15" stroke="#111" stroke-width="0.6" />
<line x1="380.90" y1="154.57" x2="382.30" y2="154.57" stroke="#111" stroke-width="0.6" />
<line x1="379.70" y1="148.00" x2="382.30" y2="148.00" stroke="#111" stroke-width="0.8" />
<text x="376.20" y="229.15" font-size="6.3" text-anchor="end" fill="#1a1a1a" stroke="#1a1a1a" stroke-width="0.14" >75</text>
<text x="376.20" y="202.85" font-size="6.3" text-anchor="end" fill="#1a1a1a" stroke="#1a1a1a" stroke-width="0.14" >150</text>
<text x="376.20" y="176.55" font-size="6.3" text-anchor="end" fill="#1a1a1a" stroke="#1a1a1a" stroke-width="0.14" >225</text>
<line x1="382.30" y1="253.20" x2="508.00" y2="253.20" stroke="#111" stroke-width="0.9" />
<line x1="382.30" y1="253.20" x2="382.30" y2="255.80" stroke="#111" stroke-width="0.8" />
<line x1="388.80" y1="253.20" x2="388.80" y2="254.60" stroke="#111" stroke-width="0.6" />
<line x1="395.30" y1="253.20" x2="395.30" y2="254.60" stroke="#111" stroke-width="0.6" />
<line x1="401.80" y1="253.20" x2="401.80" y2="254.60" stroke="#111" stroke-width="0.6" />
<line x1="408.30" y1="253.20" x2="408.30" y2="254.60" stroke="#111" stroke-width="0.6" />
<line x1="414.80" y1="253.20" x2="414.80" y2="255.80" stroke="#111" stroke-width="0.8" />
<line x1="421.30" y1="253.20" x2="421.30" y2="254.60" stroke="#111" stroke-width="0.6" />
<line x1="427.80" y1="253.20" x2="427.80" y2="254.60" stroke="#111" stroke-width="0.6" />
<line x1="434.30" y1="253.20" x2="434.30" y2="254.60" stroke="#111" stroke-width="0.6" />
<line x1="440.80" y1="253.20" x2="440.80" y2="254.60" stroke="#111" stroke-width="0.6" />
<line x1="447.30" y1="253.20" x2="447.30" y2="255.80" stroke="#111" stroke-width="0.8" />
<line x1="453.80" y1="253.20" x2="453.80" y2="254.60" stroke="#111" stroke-width="0.6" />
<line x1="460.30" y1="253.20" x2="460.30" y2="254.60" stroke="#111" stroke-width="0.6" />
<line x1="466.80" y1="253.20" x2="466.80" y2="254.60" stroke="#111" stroke-width="0.6" />
<line x1="473.30" y1="253.20" x2="473.30" y2="254.60" stroke="#111" stroke-width="0.6" />
<line x1="479.80" y1="253.20" x2="479.80" y2="255.80" stroke="#111" stroke-width="0.8" />
<line x1="486.30" y1="253.20" x2="486.30" y2="254.60" stroke="#111" stroke-width="0.6" />
<line x1="492.80" y1="253.20" x2="492.80" y2="254.60" stroke="#111" stroke-width="0.6" />
<line x1="499.30" y1="253.20" x2="499.30" y2="254.60" stroke="#111" stroke-width="0.6" />
<line x1="505.80" y1="253.20" x2="505.80" y2="254.60" stroke="#111" stroke-width="0.6" />
<text x="480.40" y="188.60" font-size="5.8" text-anchor="middle" fill="#1a1a1a" stroke="#1a1a1a" stroke-width="0.14" textLength="7.2" lengthAdjust="spacingAndGlyphs" >SC</text>
<text x="459.20" y="201.00" font-size="5.8" text-anchor="start" fill="#86b766" stroke="#86b766" stroke-width="0.14" textLength="6.8" lengthAdjust="spacingAndGlyphs" >AP</text>
<text x="501.30" y="201.00" font-size="5.8" text-anchor="end" fill="#1a1a1a" stroke="#1a1a1a" stroke-width="0.14" textLength="10.9" lengthAdjust="spacingAndGlyphs" >0.8%</text>
<text x="459.20" y="210.40" font-size="5.8" text-anchor="start" fill="#5b77a5" stroke="#5b77a5" stroke-width="0.14" textLength="15" lengthAdjust="spacingAndGlyphs" >G0/G1</text>
<text x="501.30" y="210.40" font-size="5.8" text-anchor="end" fill="#1a1a1a" stroke="#1a1a1a" stroke-width="0.14" textLength="14.3" lengthAdjust="spacingAndGlyphs" >34.8%</text>
<text x="459.20" y="219.80" font-size="5.8" text-anchor="start" fill="#b24a5a" stroke="#b24a5a" stroke-width="0.14" textLength="17.8" lengthAdjust="spacingAndGlyphs" >S/G2/M</text>
<text x="501.30" y="219.80" font-size="5.8" text-anchor="end" fill="#1a1a1a" stroke="#1a1a1a" stroke-width="0.14" textLength="14.3" lengthAdjust="spacingAndGlyphs" >64.4%</text>
<polygon points="427.60,253.2 427.60,253.20 427.85,252.72 428.10,252.24 428.35,251.76 428.60,251.29 428.85,250.82 429.10,250.36 429.35,249.91 429.60,249.46 429.85,249.03 430.10,248.61 430.35,248.19 430.60,247.80 430.85,247.41 431.10,247.04 431.35,246.69 431.60,246.36 431.85,246.04 432.10,245.74 432.35,245.47 432.60,245.21 432.85,244.98 433.10,244.76 433.35,244.57 433.60,244.40 433.85,244.26 434.10,244.14 434.35,244.04 434.60,243.97 434.85,243.92 435.10,243.90 435.35,243.90 435.60,243.90 435.85,243.90 436.10,243.90 436.35,243.90 436.60,243.90 436.85,243.90 437.10,243.90 437.35,243.90 437.60,243.90 437.85,243.90 438.10,243.90 438.35,243.90 438.60,243.90 438.85,243.90 439.10,243.90 439.35,243.90 439.60,243.90 439.85,243.90 440.10,243.90 440.35,243.90 440.60,243.90 440.85,243.90 441.10,243.90 441.35,243.90 441.60,243.90 441.85,243.90 442.10,243.90 442.35,243.90 442.60,243.90 442.85,243.90 443.10,243.90 443.35,243.90 443.60,243.90 443.85,243.90 444.10,243.90 444.35,243.90 444.60,243.90 444.85,243.90 445.10,243.90 445.35,243.90 445.60,243.90 445.85,243.90 446.10,243.90 446.35,243.90 446.60,243.90 446.85,243.90 447.10,243.90 447.35,243.90 447.60,243.90 447.85,243.90 448.10,243.90 448.35,243.90 448.60,243.90 448.85,243.90 449.10,243.90 449.35,243.90 449.60,243.90 449.85,243.90 450.10,243.90 450.35,243.90 450.60,243.90 450.85,243.90 451.10,243.90 451.35,243.90 451.60,243.90 451.85,243.90 452.10,243.90 452.35,243.90 452.60,243.90 452.85,243.90 453.10,243.90 453.35,243.90 453.60,243.90 453.85,243.90 454.10,243.90 454.35,243.90 454.60,243.90 454.85,243.90 455.10,243.90 455.35,243.90 455.60,243.90 455.85,243.90 456.10,243.90 456.35,243.90 456.60,243.90 456.85,243.90 457.10,243.90 457.35,243.90 457.60,243.90 457.85,243.90 458.10,243.90 458.35,243.90 458.60,243.90 458.85,243.90 459.10,243.90 459.35,243.90 459.60,243.90 459.85,243.90 460.10,243.90 460.35,243.90 460.60,243.90 460.85,243.90 461.10,243.90 461.35,243.90 461.60,243.90 461.85,243.90 462.10,243.90 462.35,243.90 462.60,243.90 462.85,243.90 463.10,243.90 463.35,243.90 463.60,243.90 463.85,243.90 464.10,243.90 464.35,243.90 464.60,243.90 464.85,243.90 465.10,243.90 465.35,243.90 465.60,243.90 465.85,243.90 466.10,243.90 466.35,243.90 466.60,243.90 466.85,243.90 467.10,243.90 467.35,243.90 467.60,243.90 467.85,243.90 468.10,243.90 468.35,243.90 468.60,243.90 468.85,243.90 469.10,243.90 469.35,243.90 469.60,243.90 469.85,243.90 470.10,243.90 470.35,243.90 470.60,243.90 470.85,243.90 471.10,244.02 471.35,244.32 471.60,244.62 471.85,244.91 472.10,245.21 472.35,245.51 472.60,245.81 472.85,246.11 473.10,246.40 473.35,246.70 473.60,247.00 473.85,247.30 474.10,247.60 474.35,247.89 474.60,248.19 474.85,248.49 475.10,248.79 475.35,249.09 475.60,249.38 475.85,249.68 476.10,249.98 476.35,250.28 476.60,250.58 476.85,250.88 477.10,251.17 477.35,251.47 477.60,251.77 477.85,252.07 478.10,252.37 478.35,252.66 478.60,252.96 478.85,253.20 478.80,253.2" fill="#a3283f"/>
<polygon points="426.00,253.20 426.20,251.92 426.40,250.36 426.60,248.67 426.80,246.90 427.00,245.05 427.20,243.15 427.40,241.20 427.60,239.21 427.80,237.18 428.00,235.12 428.20,233.02 428.40,230.90 428.60,228.75 428.80,226.57 429.00,224.38 429.20,222.16 429.40,219.91 429.60,217.65 429.80,215.37 430.00,213.07 430.20,210.76 430.40,208.43 430.60,206.08 430.80,203.71 431.00,201.33 431.20,198.94 431.40,196.54 431.60,194.11 431.80,194.31 432.00,197.13 432.20,199.92 432.40,202.70 432.60,205.45 432.80,208.19 433.00,210.90 433.20,213.59 433.40,216.26 433.60,218.90 433.80,221.52 434.00,224.11 434.20,226.66 434.40,229.19 434.60,231.68 434.80,234.14 435.00,236.55 435.20,238.92 435.40,241.24 435.60,243.50 435.80,245.70 436.00,247.81 436.20,249.82 436.40,251.68 436.60,253.20 436.60,253.20" fill="url(#hatch)" stroke="#3d5a8c" stroke-width="0.65"/>
<polyline points="472.00,253.20 472.50,253.20 473.00,252.83 473.50,252.28 474.00,251.65 474.50,250.95 475.00,250.19 475.50,249.38 476.00,248.53 476.50,247.65 477.00,246.73 477.50,245.78 478.00,244.80 478.50,244.67 479.00,245.80 479.50,246.90 480.00,247.96 480.50,248.96 481.00,249.92 481.50,250.82 482.00,251.64 482.50,252.37 483.00,252.97 483.50,253.20" fill="none" stroke="#4a4f8a" stroke-width="0.7"/>
<polyline points="382.3,252.04 382.8,252.40 383.3,252.24 383.8,252.37 384.3,252.30 384.8,252.39 385.3,252.22 385.8,252.24 386.3,252.13 386.8,252.40 387.3,252.29 387.8,252.03 388.3,252.40 388.8,252.40 389.3,252.40 389.8,252.40 390.3,252.40 390.8,252.09 391.3,252.40 391.8,252.37 392.3,252.39 392.8,252.40 393.3,252.40 393.8,252.37 394.3,252.40 394.8,252.25 395.3,252.32 395.8,252.40 396.3,252.38 396.8,252.40 397.3,252.31 397.8,252.20 398.3,252.40 398.8,252.40 399.3,252.20 399.8,252.30 400.3,252.40 400.8,252.40 401.3,252.25 401.8,251.79 402.3,252.22 402.8,252.29 403.3,252.16 403.8,252.40 404.3,252.40 404.8,252.40 405.3,252.17 405.8,252.40 406.3,252.00 406.8,251.78 407.3,252.40 407.8,252.11 408.3,252.40 408.8,252.39 409.3,252.34 409.8,252.37 410.3,252.38 410.8,252.40 411.3,252.25 411.8,252.40 412.3,252.34 412.8,252.07 413.3,252.22 413.8,251.99 414.3,252.33 414.8,252.38 415.3,252.40 415.8,252.40 416.3,251.61 416.8,252.27 417.3,252.40 417.8,252.28 418.3,252.31 418.8,252.29 419.3,252.40 419.8,252.40 420.3,252.26 420.8,252.40 421.3,252.24 421.8,251.88 422.3,251.90 422.8,252.40 423.3,252.40 423.8,252.40 424.3,252.12 424.8,252.40 425.3,252.02 425.8,252.27 426.3,250.36 426.8,246.10 427.3,239.38 427.8,230.98 428.3,221.64 428.8,211.81 429.3,200.97 429.8,190.05 430.3,179.49 430.8,189.45 431.3,196.94 431.8,193.51 432.3,200.51 432.8,207.39 433.3,214.13 433.8,220.72 434.3,227.13 434.8,233.34 435.3,239.29 435.8,239.68 436.3,237.64 436.8,239.50 437.3,241.30 437.8,240.39 438.3,241.86 438.8,240.76 439.3,241.90 439.8,241.27 440.3,242.81 440.8,242.23 441.3,242.34 441.8,244.48 442.3,243.35 442.8,239.73 443.3,242.01 443.8,242.95 444.3,240.68 444.8,238.96 445.3,235.73 445.8,234.80 446.3,236.95 446.8,239.95 447.3,237.75 447.8,238.29 448.3,241.91 448.8,240.69 449.3,239.64 449.8,240.16 450.3,242.24 450.8,240.76 451.3,241.37 451.8,241.65 452.3,241.60 452.8,242.08 453.3,243.22 453.8,241.58 454.3,240.47 454.8,240.65 455.3,239.14 455.8,238.27 456.3,239.21 456.8,240.40 457.3,240.03 457.8,242.77 458.3,242.78 458.8,242.95 459.3,244.35 459.8,243.44 460.3,240.06 460.8,238.03 461.3,242.79 461.8,242.10 462.3,242.43 462.8,243.51 463.3,240.54 463.8,242.74 464.3,241.33 464.8,241.81 465.3,239.40 465.8,242.48 466.3,240.51 466.8,239.83 467.3,244.00 467.8,241.26 468.3,243.51 468.8,244.22 469.3,242.98 469.8,241.91 470.3,244.56 470.8,248.25 471.3,246.32 471.8,245.26 472.3,244.27 472.8,250.91 473.3,250.14 473.8,248.55 474.3,246.86 474.8,244.36 475.3,241.55 475.8,239.49 476.3,237.97 476.8,237.08 477.3,236.90 477.8,238.09 478.3,240.18 478.8,242.42 479.3,244.65 479.8,246.67 480.3,248.98 480.8,250.45 481.3,251.05 481.8,251.47 482.3,252.15 482.8,251.80 483.3,252.08 483.8,252.27 484.3,252.40 484.8,252.32 485.3,251.96 485.8,252.40 486.3,251.91 486.8,252.40 487.3,252.25 487.8,252.40 488.3,251.92 488.8,252.21 489.3,252.40 489.8,252.31 490.3,252.16 490.8,252.40 491.3,252.19 491.8,252.40 492.3,252.40 492.8,252.28 493.3,252.18 493.8,252.33 494.3,251.67 494.8,252.40 495.3,252.40 495.8,252.40 496.3,252.29 496.8,252.22 497.3,252.32 497.8,252.38 498.3,252.11 498.8,252.40 499.3,252.32 499.8,252.20 500.3,252.40 500.8,252.40 501.3,252.40 501.8,252.33 502.3,252.40 502.8,252.40 503.3,252.20 503.8,252.27 504.3,252.40 504.8,252.40 505.3,252.14 505.8,252.34 506.3,251.98 506.8,252.23 507.3,252.40 507.8,252.08" fill="none" stroke="#6cb33f" stroke-width="0.75"/>
<line x1="382.30" y1="266.20" x2="382.30" y2="374.70" stroke="#111" stroke-width="0.9" />
<line x1="379.70" y1="374.20" x2="382.30" y2="374.20" stroke="#111" stroke-width="0.8" />
<line x1="380.90" y1="367.62" x2="382.30" y2="367.62" stroke="#111" stroke-width="0.6" />
<line x1="380.90" y1="361.05" x2="382.30" y2="361.05" stroke="#111" stroke-width="0.6" />
<line x1="380.90" y1="354.47" x2="382.30" y2="354.47" stroke="#111" stroke-width="0.6" />
<line x1="379.70" y1="347.90" x2="382.30" y2="347.90" stroke="#111" stroke-width="0.8" />
<line x1="380.90" y1="341.32" x2="382.30" y2="341.32" stroke="#111" stroke-width="0.6" />
<line x1="380.90" y1="334.75" x2="382.30" y2="334.75" stroke="#111" stroke-width="0.6" />
<line x1="380.90" y1="328.17" x2="382.30" y2="328.17" stroke="#111" stroke-width="0.6" />
<line x1="379.70" y1="321.60" x2="382.30" y2="321.60" stroke="#111" stroke-width="0.8" />
<line x1="380.90" y1="315.02" x2="382.30" y2="315.02" stroke="#111" stroke-width="0.6" />
<line x1="380.90" y1="308.45" x2="382.30" y2="308.45" stroke="#111" stroke-width="0.6" />
<line x1="380.90" y1="301.87" x2="382.30" y2="301.87" stroke="#111" stroke-width="0.6" />
<line x1="379.70" y1="295.30" x2="382.30" y2="295.30" stroke="#111" stroke-width="0.8" />
<line x1="380.90" y1="288.72" x2="382.30" y2="288.72" stroke="#111" stroke-width="0.6" />
<line x1="380.90" y1="282.15" x2="382.30" y2="282.15" stroke="#111" stroke-width="0.6" />
<line x1="380.90" y1="275.57" x2="382.30" y2="275.57" stroke="#111" stroke-width="0.6" />
<line x1="379.70" y1="269.00" x2="382.30" y2="269.00" stroke="#111" stroke-width="0.8" />
<text x="376.20" y="350.15" font-size="6.3" text-anchor="end" fill="#1a1a1a" stroke="#1a1a1a" stroke-width="0.14" >75</text>
<text x="376.20" y="323.85" font-size="6.3" text-anchor="end" fill="#1a1a1a" stroke="#1a1a1a" stroke-width="0.14" >150</text>
<text x="376.20" y="297.55" font-size="6.3" text-anchor="end" fill="#1a1a1a" stroke="#1a1a1a" stroke-width="0.14" >225</text>
<line x1="382.30" y1="374.20" x2="508.00" y2="374.20" stroke="#111" stroke-width="0.9" />
<line x1="382.30" y1="374.20" x2="382.30" y2="376.80" stroke="#111" stroke-width="0.8" />
<line x1="388.80" y1="374.20" x2="388.80" y2="375.60" stroke="#111" stroke-width="0.6" />
<line x1="395.30" y1="374.20" x2="395.30" y2="375.60" stroke="#111" stroke-width="0.6" />
<line x1="401.80" y1="374.20" x2="401.80" y2="375.60" stroke="#111" stroke-width="0.6" />
<line x1="408.30" y1="374.20" x2="408.30" y2="375.60" stroke="#111" stroke-width="0.6" />
<line x1="414.80" y1="374.20" x2="414.80" y2="376.80" stroke="#111" stroke-width="0.8" />
<line x1="421.30" y1="374.20" x2="421.30" y2="375.60" stroke="#111" stroke-width="0.6" />
<line x1="427.80" y1="374.20" x2="427.80" y2="375.60" stroke="#111" stroke-width="0.6" />
<line x1="434.30" y1="374.20" x2="434.30" y2="375.60" stroke="#111" stroke-width="0.6" />
<line x1="440.80" y1="374.20" x2="440.80" y2="375.60" stroke="#111" stroke-width="0.6" />
<line x1="447.30" y1="374.20" x2="447.30" y2="376.80" stroke="#111" stroke-width="0.8" />
<line x1="453.80" y1="374.20" x2="453.80" y2="375.60" stroke="#111" stroke-width="0.6" />
<line x1="460.30" y1="374.20" x2="460.30" y2="375.60" stroke="#111" stroke-width="0.6" />
<line x1="466.80" y1="374.20" x2="466.80" y2="375.60" stroke="#111" stroke-width="0.6" />
<line x1="473.30" y1="374.20" x2="473.30" y2="375.60" stroke="#111" stroke-width="0.6" />
<line x1="479.80" y1="374.20" x2="479.80" y2="376.80" stroke="#111" stroke-width="0.8" />
<line x1="486.30" y1="374.20" x2="486.30" y2="375.60" stroke="#111" stroke-width="0.6" />
<line x1="492.80" y1="374.20" x2="492.80" y2="375.60" stroke="#111" stroke-width="0.6" />
<line x1="499.30" y1="374.20" x2="499.30" y2="375.60" stroke="#111" stroke-width="0.6" />
<line x1="505.80" y1="374.20" x2="505.80" y2="375.60" stroke="#111" stroke-width="0.6" />
<text x="479.80" y="308.90" font-size="5.8" text-anchor="middle" fill="#1a1a1a" stroke="#1a1a1a" stroke-width="0.14" textLength="20.4" lengthAdjust="spacingAndGlyphs" >miR-29b</text>
<line x1="469.30" y1="310.20" x2="490.30" y2="310.20" stroke="#333" stroke-width="0.55" />
<text x="459.20" y="321.30" font-size="5.8" text-anchor="start" fill="#86b766" stroke="#86b766" stroke-width="0.14" textLength="6.8" lengthAdjust="spacingAndGlyphs" >AP</text>
<text x="501.30" y="321.30" font-size="5.8" text-anchor="end" fill="#1a1a1a" stroke="#1a1a1a" stroke-width="0.14" textLength="14.3" lengthAdjust="spacingAndGlyphs" >16.0%</text>
<text x="459.20" y="330.70" font-size="5.8" text-anchor="start" fill="#5b77a5" stroke="#5b77a5" stroke-width="0.14" textLength="15" lengthAdjust="spacingAndGlyphs" >G0/G1</text>
<text x="501.30" y="330.70" font-size="5.8" text-anchor="end" fill="#1a1a1a" stroke="#1a1a1a" stroke-width="0.14" textLength="14.3" lengthAdjust="spacingAndGlyphs" >57.3%</text>
<text x="459.20" y="340.10" font-size="5.8" text-anchor="start" fill="#b24a5a" stroke="#b24a5a" stroke-width="0.14" textLength="17.8" lengthAdjust="spacingAndGlyphs" >S/G2/M</text>
<text x="501.30" y="340.10" font-size="5.8" text-anchor="end" fill="#1a1a1a" stroke="#1a1a1a" stroke-width="0.14" textLength="14.3" lengthAdjust="spacingAndGlyphs" >26.7%</text>
<polygon points="431.00,374.2 431.00,374.20 431.25,373.81 431.50,373.43 431.75,373.09 432.00,372.79 432.25,372.54 432.50,372.35 432.75,372.24 433.00,372.20 433.25,372.20 433.50,372.20 433.75,372.20 434.00,372.20 434.25,372.20 434.50,372.20 434.75,372.20 435.00,372.20 435.25,372.20 435.50,372.20 435.75,372.20 436.00,372.20 436.25,372.20 436.50,372.20 436.75,372.20 437.00,372.20 437.25,372.20 437.50,372.20 437.75,372.20 438.00,372.20 438.25,372.20 438.50,372.20 438.75,372.20 439.00,372.20 439.25,372.20 439.50,372.20 439.75,372.20 440.00,372.20 440.25,372.20 440.50,372.20 440.75,372.20 441.00,372.20 441.25,372.20 441.50,372.20 441.75,372.20 442.00,372.20 442.25,372.20 442.50,372.20 442.75,372.20 443.00,372.20 443.25,372.20 443.50,372.20 443.75,372.20 444.00,372.20 444.25,372.20 444.50,372.20 444.75,372.20 445.00,372.20 445.25,372.20 445.50,372.20 445.75,372.20 446.00,372.20 446.25,372.20 446.50,372.20 446.75,372.20 447.00,372.20 447.25,372.20 447.50,372.20 447.75,372.20 448.00,372.20 448.25,372.20 448.50,372.20 448.75,372.20 449.00,372.20 449.25,372.20 449.50,372.20 449.75,372.20 450.00,372.20 450.25,372.20 450.50,372.20 450.75,372.20 451.00,372.20 451.25,372.20 451.50,372.20 451.75,372.20 452.00,372.20 452.25,372.20 452.50,372.20 452.75,372.20 453.00,372.20 453.25,372.20 453.50,372.20 453.75,372.20 454.00,372.20 454.25,372.20 454.50,372.20 454.75,372.20 455.00,372.20 455.25,372.20 455.50,372.20 455.75,372.20 456.00,372.20 456.25,372.20 456.50,372.20 456.75,372.20 457.00,372.20 457.25,372.20 457.50,372.20 457.75,372.20 458.00,372.20 458.25,372.20 458.50,372.20 458.75,372.20 459.00,372.20 459.25,372.20 459.50,372.20 459.75,372.20 460.00,372.20 460.25,372.20 460.50,372.20 460.75,372.20 461.00,372.20 461.25,372.20 461.50,372.20 461.75,372.20 462.00,372.20 462.25,372.20 462.50,372.20 462.75,372.20 463.00,372.20 463.25,372.20 463.50,372.20 463.75,372.20 464.00,372.20 464.25,372.20 464.50,372.20 464.75,372.20 465.00,372.20 465.25,372.20 465.50,372.20 465.75,372.20 466.00,372.20 466.25,372.20 466.50,372.20 466.75,372.20 467.00,372.20 467.25,372.20 467.50,372.20 467.75,372.20 468.00,372.20 468.25,372.20 468.50,372.20 468.75,372.20 469.00,372.20 469.25,372.20 469.50,372.20 469.75,372.20 470.00,372.20 470.25,372.20 470.50,372.20 470.75,372.20 471.00,372.20 471.25,372.20 471.50,372.20 471.75,372.20 472.00,372.20 472.25,372.20 472.50,372.20 472.75,372.20 473.00,372.20 473.25,372.20 473.50,372.20 473.75,372.20 474.00,372.20 474.25,372.20 474.50,372.20 474.75,372.20 475.00,372.20 475.25,372.20 475.50,372.20 475.75,372.20 476.00,372.20 476.25,372.20 476.50,372.20 476.75,372.20 477.00,372.20 477.25,372.20 477.50,372.20 477.75,372.20 478.00,372.20 478.25,372.20 478.50,372.20 478.75,372.20 479.00,372.20 479.25,372.20 479.50,372.20 479.75,372.20 480.00,372.20 480.25,372.37 480.50,372.53 480.75,372.70 481.00,372.87 481.25,373.03 481.50,373.20 481.75,373.37 482.00,373.53 482.25,373.70 482.50,373.87 482.75,374.03 483.00,374.20 483.25,374.20 483.00,374.2" fill="#a3283f"/>
<polygon points="427.00,374.20 427.20,371.86 427.40,369.02 427.60,365.94 427.80,362.70 428.00,359.33 428.20,355.86 428.40,352.30 428.60,348.67 428.80,344.97 429.00,341.20 429.20,337.38 429.40,333.50 429.60,329.58 429.80,325.61 430.00,321.60 430.20,317.54 430.40,313.45 430.60,309.33 430.80,305.16 431.00,300.97 431.20,296.74 431.40,292.49 431.60,288.20 431.80,293.01 432.00,297.78 432.20,302.51 432.40,307.20 432.60,311.85 432.80,316.45 433.00,321.01 433.20,325.51 433.40,329.96 433.60,334.36 433.80,338.69 434.00,342.95 434.20,347.14 434.40,351.25 434.60,355.26 434.80,359.16 435.00,362.94 435.20,366.55 435.40,369.95 435.60,373.00 435.70,374.20" fill="url(#hatch)" stroke="#3d5a8c" stroke-width="0.65"/>
<polyline points="472.00,374.20 472.50,374.20 473.00,374.00 473.50,373.71 474.00,373.37 474.50,373.00 475.00,372.59 475.50,372.16 476.00,371.71 476.50,371.24 477.00,370.75 477.50,370.24 478.00,369.72 478.50,369.65 479.00,370.25 479.50,370.84 480.00,371.40 480.50,371.94 481.00,372.45 481.50,372.93 482.00,373.37 482.50,373.76 483.00,374.08 483.50,374.20" fill="none" stroke="#4a4f8a" stroke-width="0.7"/>
<polyline points="382.3,370.94 382.8,371.02 383.3,371.65 383.8,371.34 384.3,371.07 384.8,371.09 385.3,371.78 385.8,371.38 386.3,371.58 386.8,371.31 387.3,371.76 387.8,371.53 388.3,370.97 388.8,371.29 389.3,371.25 389.8,371.81 390.3,371.73 390.8,371.52 391.3,371.27 391.8,371.33 392.3,371.24 392.8,371.54 393.3,371.10 393.8,370.98 394.3,371.88 394.8,370.98 395.3,371.79 395.8,371.49 396.3,370.87 396.8,371.73 397.3,371.70 397.8,371.36 398.3,371.14 398.8,371.41 399.3,371.38 399.8,371.29 400.3,371.52 400.8,371.01 401.3,370.67 401.8,370.94 402.3,370.77 402.8,370.73 403.3,370.84 403.8,370.89 404.3,370.59 404.8,370.93 405.3,370.40 405.8,370.84 406.3,370.55 406.8,370.12 407.3,369.95 407.8,370.71 408.3,369.80 408.8,370.28 409.3,369.85 409.8,369.66 410.3,370.38 410.8,370.21 411.3,369.47 411.8,369.89 412.3,369.98 412.8,369.85 413.3,370.11 413.8,369.74 414.3,369.52 414.8,369.99 415.3,369.99 415.8,369.84 416.3,370.27 416.8,370.39 417.3,370.32 417.8,370.42 418.3,369.70 418.8,369.95 419.3,369.33 419.8,369.05 420.3,368.35 420.8,367.29 421.3,366.94 421.8,365.68 422.3,364.55 422.8,363.95 423.3,363.39 423.8,362.18 424.3,361.39 424.8,362.14 425.3,361.95 425.8,362.14 426.3,363.08 426.8,364.46 427.3,361.09 427.8,353.55 428.3,343.38 428.8,333.05 429.3,321.20 429.8,308.06 430.3,294.93 430.8,280.02 431.3,271.55 431.8,286.59 432.3,301.01 432.8,314.79 433.3,326.94 433.8,337.89 434.3,348.41 434.8,358.36 435.3,367.48 435.8,371.06 436.3,370.06 436.8,369.96 437.3,370.62 437.8,371.28 438.3,370.45 438.8,370.13 439.3,369.94 439.8,370.97 440.3,371.20 440.8,371.33 441.3,369.80 441.8,369.79 442.3,370.60 442.8,370.80 443.3,370.66 443.8,371.14 444.3,370.75 444.8,370.31 445.3,369.65 445.8,368.84 446.3,371.02 446.8,371.00 447.3,370.92 447.8,371.30 448.3,370.66 448.8,370.80 449.3,370.06 449.8,371.37 450.3,371.01 450.8,370.28 451.3,370.79 451.8,370.30 452.3,369.63 452.8,370.16 453.3,370.03 453.8,370.58 454.3,370.24 454.8,369.43 455.3,371.25 455.8,371.34 456.3,371.07 456.8,371.27 457.3,370.87 457.8,370.58 458.3,370.95 458.8,370.71 459.3,370.55 459.8,371.34 460.3,370.86 460.8,370.80 461.3,371.08 461.8,370.57 462.3,370.59 462.8,369.47 463.3,370.48 463.8,370.20 464.3,371.15 464.8,370.28 465.3,370.36 465.8,371.11 466.3,370.29 466.8,370.91 467.3,371.36 467.8,371.30 468.3,371.05 468.8,370.85 469.3,370.57 469.8,369.45 470.3,370.80 470.8,369.57 471.3,369.85 471.8,369.67 472.3,370.54 472.8,369.81 473.3,369.62 473.8,369.32 474.3,368.31 474.8,366.84 475.3,365.74 475.8,364.10 476.3,363.72 476.8,363.90 477.3,362.89 477.8,364.34 478.3,364.72 478.8,366.11 479.3,367.00 479.8,367.64 480.3,368.72 480.8,369.95 481.3,370.13 481.8,370.51 482.3,370.52 482.8,371.21 483.3,370.72 483.8,371.16 484.3,370.70 484.8,371.33 485.3,371.25 485.8,371.21 486.3,370.86 486.8,370.43 487.3,370.58 487.8,369.51 488.3,370.07 488.8,371.31 489.3,370.01 489.8,369.98 490.3,370.84 490.8,370.90 491.3,370.97 491.8,371.36 492.3,371.19 492.8,370.68 493.3,370.61 493.8,370.33 494.3,368.80 494.8,370.39 495.3,369.94 495.8,371.10 496.3,371.24 496.8,370.18 497.3,371.22 497.8,371.38 498.3,371.30 498.8,371.38 499.3,371.09 499.8,371.38 500.3,370.87 500.8,371.05 501.3,371.35 501.8,371.29 502.3,370.84 502.8,370.85 503.3,370.81 503.8,371.07 504.3,368.87 504.8,369.39 505.3,370.03 505.8,370.83 506.3,370.54 506.8,370.46 507.3,370.95 507.8,370.60" fill="none" stroke="#6cb33f" stroke-width="0.75"/>
<text x="165.20" y="205.60" font-size="11.3" text-anchor="start" fill="#111" stroke="#111" stroke-width="0.14" >D</text>
<line x1="205.90" y1="209.40" x2="205.90" y2="347.50" stroke="#3a3a3a" stroke-width="1.5" />
<line x1="205.20" y1="347.00" x2="348.80" y2="347.00" stroke="#2a2a2a" stroke-width="1.4" />
<line x1="202.50" y1="347.00" x2="206.00" y2="347.00" stroke="#333" stroke-width="0.9" />
<text x="199.60" y="349.30" font-size="6.4" text-anchor="end" fill="#1a1a1a" stroke="#1a1a1a" stroke-width="0.14" textLength="11.8" lengthAdjust="spacingAndGlyphs" >0.00</text>
<line x1="202.50" y1="324.94" x2="206.00" y2="324.94" stroke="#333" stroke-width="0.9" />
<text x="199.60" y="327.24" font-size="6.4" text-anchor="end" fill="#1a1a1a" stroke="#1a1a1a" stroke-width="0.14" textLength="15" lengthAdjust="spacingAndGlyphs" >20.00</text>
<line x1="202.50" y1="302.88" x2="206.00" y2="302.88" stroke="#333" stroke-width="0.9" />
<text x="199.60" y="305.18" font-size="6.4" text-anchor="end" fill="#1a1a1a" stroke="#1a1a1a" stroke-width="0.14" textLength="15" lengthAdjust="spacingAndGlyphs" >40.00</text>
<line x1="202.50" y1="280.82" x2="206.00" y2="280.82" stroke="#333" stroke-width="0.9" />
<text x="199.60" y="283.12" font-size="6.4" text-anchor="end" fill="#1a1a1a" stroke="#1a1a1a" stroke-width="0.14" textLength="15" lengthAdjust="spacingAndGlyphs" >60.00</text>
<line x1="202.50" y1="258.76" x2="206.00" y2="258.76" stroke="#333" stroke-width="0.9" />
<text x="199.60" y="261.06" font-size="6.4" text-anchor="end" fill="#1a1a1a" stroke="#1a1a1a" stroke-width="0.14" textLength="15" lengthAdjust="spacingAndGlyphs" >80.00</text>
<line x1="202.50" y1="236.70" x2="206.00" y2="236.70" stroke="#333" stroke-width="0.9" />
<text x="199.60" y="239.00" font-size="6.4" text-anchor="end" fill="#1a1a1a" stroke="#1a1a1a" stroke-width="0.14" textLength="18.2" lengthAdjust="spacingAndGlyphs" >100.00</text>
<line x1="202.50" y1="214.64" x2="206.00" y2="214.64" stroke="#333" stroke-width="0.9" />
<text x="199.60" y="216.94" font-size="6.4" text-anchor="end" fill="#1a1a1a" stroke="#1a1a1a" stroke-width="0.14" textLength="18.2" lengthAdjust="spacingAndGlyphs" >120.00</text>
<text x="0" y="0" font-size="8.3" fill="#1a1a1a" stroke="#1a1a1a" stroke-width="0.14" text-anchor="middle" transform="translate(173.6 276.3) rotate(-90)" textLength="38.5" lengthAdjust="spacingAndGlyphs">% of cells</text>
<rect x="218.00" y="236.70" width="23.70" height="73.98" fill="#a03546" />
<rect x="218.00" y="310.68" width="23.70" height="34.45" fill="#4f6480" />
<rect x="218.00" y="345.12" width="23.70" height="1.88" fill="#7aaa5c" />
<text x="229.85" y="275.69" font-size="5.6" text-anchor="middle" fill="#ffffff" stroke="#ffffff" stroke-width="0" textLength="13.2" lengthAdjust="spacingAndGlyphs" >66.96</text>
<text x="229.85" y="329.90" font-size="5.6" text-anchor="middle" fill="#ffffff" stroke="#ffffff" stroke-width="0" textLength="13.2" lengthAdjust="spacingAndGlyphs" >31.23</text>
<line x1="229.85" y1="236.04" x2="229.85" y2="237.36" stroke="#111" stroke-width="0.8" />
<line x1="228.35" y1="236.04" x2="231.35" y2="236.04" stroke="#111" stroke-width="0.8" />
<line x1="228.35" y1="237.36" x2="231.35" y2="237.36" stroke="#111" stroke-width="0.8" />
<line x1="229.85" y1="309.72" x2="229.85" y2="311.48" stroke="#111" stroke-width="0.8" />
<line x1="228.35" y1="309.72" x2="231.35" y2="309.72" stroke="#111" stroke-width="0.8" />
<line x1="228.35" y1="311.48" x2="231.35" y2="311.48" stroke="#111" stroke-width="0.8" />
<line x1="229.85" y1="344.02" x2="229.85" y2="346.23" stroke="#111" stroke-width="0.8" />
<line x1="228.35" y1="344.02" x2="231.35" y2="344.02" stroke="#111" stroke-width="0.8" />
<line x1="228.35" y1="346.23" x2="231.35" y2="346.23" stroke="#111" stroke-width="0.8" />
<text x="229.85" y="356.30" font-size="6.8" text-anchor="middle" fill="#1a1a1a" stroke="#1a1a1a" stroke-width="0.14" textLength="20.5" lengthAdjust="spacingAndGlyphs" >Vehicle</text>
<rect x="265.60" y="236.70" width="24.00" height="66.17" fill="#a03546" />
<rect x="265.60" y="302.87" width="24.00" height="41.59" fill="#4f6480" />
<rect x="265.60" y="344.46" width="24.00" height="2.54" fill="#7aaa5c" />
<text x="277.60" y="271.78" font-size="5.6" text-anchor="middle" fill="#ffffff" stroke="#ffffff" stroke-width="0" textLength="13.2" lengthAdjust="spacingAndGlyphs" >59.75</text>
<text x="277.60" y="325.67" font-size="5.6" text-anchor="middle" fill="#ffffff" stroke="#ffffff" stroke-width="0" textLength="13.2" lengthAdjust="spacingAndGlyphs" >37.71</text>
<line x1="277.60" y1="232.51" x2="277.60" y2="240.89" stroke="#111" stroke-width="0.8" />
<line x1="276.10" y1="232.51" x2="279.10" y2="232.51" stroke="#111" stroke-width="0.8" />
<line x1="276.10" y1="240.89" x2="279.10" y2="240.89" stroke="#111" stroke-width="0.8" />
<line x1="277.60" y1="300.45" x2="277.60" y2="305.31" stroke="#111" stroke-width="0.8" />
<line x1="276.10" y1="300.45" x2="279.10" y2="300.45" stroke="#111" stroke-width="0.8" />
<line x1="276.10" y1="305.31" x2="279.10" y2="305.31" stroke="#111" stroke-width="0.8" />
<line x1="277.60" y1="342.04" x2="277.60" y2="346.89" stroke="#111" stroke-width="0.8" />
<line x1="276.10" y1="342.04" x2="279.10" y2="342.04" stroke="#111" stroke-width="0.8" />
<line x1="276.10" y1="346.89" x2="279.10" y2="346.89" stroke="#111" stroke-width="0.8" />
<text x="277.60" y="356.30" font-size="6.8" text-anchor="middle" fill="#1a1a1a" stroke="#1a1a1a" stroke-width="0.14" textLength="11" lengthAdjust="spacingAndGlyphs" >SCR</text>
<rect x="313.30" y="236.70" width="23.80" height="29.58" fill="#a03546" />
<rect x="313.30" y="266.28" width="23.80" height="62.11" fill="#4f6480" />
<rect x="313.30" y="328.39" width="23.80" height="18.61" fill="#7aaa5c" />
<text x="325.20" y="253.49" font-size="5.6" text-anchor="middle" fill="#ffffff" stroke="#ffffff" stroke-width="0" textLength="13.2" lengthAdjust="spacingAndGlyphs" >26.86</text>
<text x="325.20" y="299.34" font-size="5.6" text-anchor="middle" fill="#ffffff" stroke="#ffffff" stroke-width="0" textLength="13.2" lengthAdjust="spacingAndGlyphs" >56.31</text>
<text x="325.20" y="339.70" font-size="5.6" text-anchor="middle" fill="#ffffff" stroke="#ffffff" stroke-width="0" textLength="13.2" lengthAdjust="spacingAndGlyphs" >16.87</text>
<line x1="325.20" y1="235.38" x2="325.20" y2="238.02" stroke="#111" stroke-width="0.8" />
<line x1="323.70" y1="235.38" x2="326.70" y2="235.38" stroke="#111" stroke-width="0.8" />
<line x1="323.70" y1="238.02" x2="326.70" y2="238.02" stroke="#111" stroke-width="0.8" />
<line x1="325.20" y1="259.66" x2="325.20" y2="272.90" stroke="#111" stroke-width="0.8" />
<line x1="323.70" y1="259.66" x2="326.70" y2="259.66" stroke="#111" stroke-width="0.8" />
<line x1="323.70" y1="272.90" x2="326.70" y2="272.90" stroke="#111" stroke-width="0.8" />
<line x1="325.20" y1="321.22" x2="325.20" y2="335.56" stroke="#111" stroke-width="0.8" />
<line x1="323.70" y1="321.22" x2="326.70" y2="321.22" stroke="#111" stroke-width="0.8" />
<line x1="323.70" y1="335.56" x2="326.70" y2="335.56" stroke="#111" stroke-width="0.8" />
<text x="325.20" y="356.30" font-size="6.8" text-anchor="middle" fill="#1a1a1a" stroke="#1a1a1a" stroke-width="0.14" textLength="24" lengthAdjust="spacingAndGlyphs" >miR-29b</text>
<rect x="233.70" y="217.90" width="4.50" height="4.70" fill="#a03546" />
<text x="241.30" y="222.10" font-size="5.3" text-anchor="start" fill="#222" stroke="#222" stroke-width="0.14" textLength="18" lengthAdjust="spacingAndGlyphs" >S/G2/M</text>
<rect x="271.10" y="217.90" width="4.50" height="4.70" fill="#4f6480" />
<text x="279.00" y="222.10" font-size="5.3" text-anchor="start" fill="#222" stroke="#222" stroke-width="0.14" textLength="15" lengthAdjust="spacingAndGlyphs" >G0/G1</text>
<rect x="305.90" y="217.90" width="4.50" height="4.70" fill="#7aaa5c" />
<text x="313.70" y="222.10" font-size="5.3" text-anchor="start" fill="#222" stroke="#222" stroke-width="0.14" textLength="6.8" lengthAdjust="spacingAndGlyphs" >AP</text>
<text x="223.00" y="404.60" font-size="11.3" text-anchor="start" fill="#111" stroke="#111" stroke-width="0.14" >E</text>
<line x1="252.00" y1="408.30" x2="252.00" y2="519.70" stroke="#333" stroke-width="1.3" />
<line x1="251.40" y1="519.20" x2="363.00" y2="519.20" stroke="#333" stroke-width="1.3" />
<line x1="248.60" y1="519.20" x2="252.00" y2="519.20" stroke="#333" stroke-width="0.9" />
<text x="245.50" y="521.55" font-size="6.6" text-anchor="end" fill="#1a1a1a" stroke="#1a1a1a" stroke-width="0.14" textLength="3.6" lengthAdjust="spacingAndGlyphs" >0</text>
<line x1="248.60" y1="487.54" x2="252.00" y2="487.54" stroke="#333" stroke-width="0.9" />
<text x="245.50" y="489.89" font-size="6.6" text-anchor="end" fill="#1a1a1a" stroke="#1a1a1a" stroke-width="0.14" textLength="3.6" lengthAdjust="spacingAndGlyphs" >2</text>
<line x1="248.60" y1="455.88" x2="252.00" y2="455.88" stroke="#333" stroke-width="0.9" />
<text x="245.50" y="458.23" font-size="6.6" text-anchor="end" fill="#1a1a1a" stroke="#1a1a1a" stroke-width="0.14" textLength="3.6" lengthAdjust="spacingAndGlyphs" >4</text>
<line x1="248.60" y1="424.22" x2="252.00" y2="424.22" stroke="#333" stroke-width="0.9" />
<text x="245.50" y="426.57" font-size="6.6" text-anchor="end" fill="#1a1a1a" stroke="#1a1a1a" stroke-width="0.14" textLength="3.6" lengthAdjust="spacingAndGlyphs" >6</text>
<text x="0" y="0" font-size="7.8" fill="#1a1a1a" stroke="#1a1a1a" stroke-width="0.14" text-anchor="middle" transform="translate(237.20 464.00) rotate(-90)" textLength="78.3" lengthAdjust="spacingAndGlyphs">CDKN1A(p21) mRNA</text>
<line x1="270.55" y1="502.10" x2="270.55" y2="500.20" stroke="#222" stroke-width="0.9" />
<line x1="264.55" y1="500.20" x2="276.55" y2="500.20" stroke="#222" stroke-width="0.9" />
<rect x="257.70" y="502.10" width="25.70" height="17.10" fill="#a03545" stroke="#7c2030" stroke-width="0.8"/>
<line x1="270.55" y1="519.20" x2="270.55" y2="521.80" stroke="#222" stroke-width="0.8" />
<line x1="307.50" y1="504.48" x2="307.50" y2="501.63" stroke="#222" stroke-width="0.9" />
<line x1="301.50" y1="501.63" x2="313.50" y2="501.63" stroke="#222" stroke-width="0.9" />
<rect x="294.60" y="504.48" width="25.80" height="14.72" fill="#4f6482" stroke="#34486a" stroke-width="0.8"/>
<line x1="307.50" y1="519.20" x2="307.50" y2="521.80" stroke="#222" stroke-width="0.8" />
<line x1="344.80" y1="466.96" x2="344.80" y2="457.46" stroke="#222" stroke-width="0.9" />
<line x1="338.80" y1="457.46" x2="350.80" y2="457.46" stroke="#222" stroke-width="0.9" />
<rect x="332.30" y="466.96" width="25.00" height="52.24" fill="#7aaa5c" stroke="#5b8c42" stroke-width="0.8"/>
<line x1="344.80" y1="519.20" x2="344.80" y2="521.80" stroke="#222" stroke-width="0.8" />
<text x="270.55" y="531.70" font-size="6.3" text-anchor="middle" fill="#1a1a1a" stroke="#1a1a1a" stroke-width="0.14" textLength="11" lengthAdjust="spacingAndGlyphs" >Veh</text>
<text x="307.50" y="531.70" font-size="6.3" text-anchor="middle" fill="#1a1a1a" stroke="#1a1a1a" stroke-width="0.14" textLength="7.3" lengthAdjust="spacingAndGlyphs" >SC</text>
<text x="344.80" y="531.70" font-size="6.3" text-anchor="middle" fill="#1a1a1a" stroke="#1a1a1a" stroke-width="0.14" textLength="24.3" lengthAdjust="spacingAndGlyphs" >miR-29b</text>
<path d="M307.8 441 L307.8 432.3 L345.4 432.3 L345.4 445" fill="none" stroke="#222" stroke-width="0.9"/>
<text x="326.60" y="427.70" font-size="5.0" text-anchor="middle" fill="#222" font-family="Liberation Serif, serif" style="font-family:'Liberation Serif',serif" textLength="23.0" lengthAdjust="spacingAndGlyphs">p=0.0049</text>
<line x1="402.00" y1="408.30" x2="402.00" y2="519.90" stroke="#333" stroke-width="1.3" />
<line x1="401.40" y1="519.40" x2="510.80" y2="519.40" stroke="#333" stroke-width="1.3" />
<line x1="398.60" y1="519.40" x2="402.00" y2="519.40" stroke="#333" stroke-width="0.9" />
<text x="395.50" y="521.75" font-size="6.6" text-anchor="end" fill="#1a1a1a" stroke="#1a1a1a" stroke-width="0.14" textLength="7.8" lengthAdjust="spacingAndGlyphs" >0.0</text>
<line x1="398.60" y1="492.25" x2="402.00" y2="492.25" stroke="#333" stroke-width="0.9" />
<text x="395.50" y="494.60" font-size="6.6" text-anchor="end" fill="#1a1a1a" stroke="#1a1a1a" stroke-width="0.14" textLength="7.8" lengthAdjust="spacingAndGlyphs" >0.5</text>
<line x1="398.60" y1="465.10" x2="402.00" y2="465.10" stroke="#333" stroke-width="0.9" />
<text x="395.50" y="467.45" font-size="6.6" text-anchor="end" fill="#1a1a1a" stroke="#1a1a1a" stroke-width="0.14" textLength="7.8" lengthAdjust="spacingAndGlyphs" >1.0</text>
<line x1="398.60" y1="437.95" x2="402.00" y2="437.95" stroke="#333" stroke-width="0.9" />
<text x="395.50" y="440.30" font-size="6.6" text-anchor="end" fill="#1a1a1a" stroke="#1a1a1a" stroke-width="0.14" textLength="7.8" lengthAdjust="spacingAndGlyphs" >1.5</text>
<line x1="398.60" y1="410.80" x2="402.00" y2="410.80" stroke="#333" stroke-width="0.9" />
<text x="395.50" y="413.15" font-size="6.6" text-anchor="end" fill="#1a1a1a" stroke="#1a1a1a" stroke-width="0.14" textLength="7.8" lengthAdjust="spacingAndGlyphs" >2.0</text>
<text x="0" y="0" font-size="7.8" fill="#1a1a1a" stroke="#1a1a1a" stroke-width="0.14" text-anchor="middle" transform="translate(380.20 463.80) rotate(-90)" textLength="49.4" lengthAdjust="spacingAndGlyphs">Zap70 mRNA</text>
<line x1="420.45" y1="458.58" x2="420.45" y2="452.61" stroke="#222" stroke-width="0.9" />
<line x1="414.45" y1="452.61" x2="426.45" y2="452.61" stroke="#222" stroke-width="0.9" />
<rect x="408.10" y="458.58" width="24.70" height="60.82" fill="#a03545" stroke="#7c2030" stroke-width="0.8"/>
<line x1="420.45" y1="519.40" x2="420.45" y2="522.00" stroke="#222" stroke-width="0.8" />
<line x1="456.60" y1="460.21" x2="456.60" y2="454.24" stroke="#222" stroke-width="0.9" />
<line x1="450.60" y1="454.24" x2="462.60" y2="454.24" stroke="#222" stroke-width="0.9" />
<rect x="444.10" y="460.21" width="25.00" height="59.19" fill="#4f6482" stroke="#34486a" stroke-width="0.8"/>
<line x1="456.60" y1="519.40" x2="456.60" y2="522.00" stroke="#222" stroke-width="0.8" />
<line x1="492.75" y1="485.19" x2="492.75" y2="480.85" stroke="#222" stroke-width="0.9" />
<line x1="486.75" y1="480.85" x2="498.75" y2="480.85" stroke="#222" stroke-width="0.9" />
<rect x="480.40" y="485.19" width="24.70" height="34.21" fill="#7aaa5c" stroke="#5b8c42" stroke-width="0.8"/>
<line x1="492.75" y1="519.40" x2="492.75" y2="522.00" stroke="#222" stroke-width="0.8" />
<text x="420.45" y="531.90" font-size="6.3" text-anchor="middle" fill="#1a1a1a" stroke="#1a1a1a" stroke-width="0.14" textLength="11" lengthAdjust="spacingAndGlyphs" >Veh</text>
<text x="456.60" y="531.90" font-size="6.3" text-anchor="middle" fill="#1a1a1a" stroke="#1a1a1a" stroke-width="0.14" textLength="7.3" lengthAdjust="spacingAndGlyphs" >SC</text>
<text x="492.75" y="531.90" font-size="6.3" text-anchor="middle" fill="#1a1a1a" stroke="#1a1a1a" stroke-width="0.14" textLength="24.3" lengthAdjust="spacingAndGlyphs" >miR-29b</text>
<path d="M456.3 444.6 L456.3 440 L493 440 L493 448.3" fill="none" stroke="#222" stroke-width="0.9"/>
<text x="474.65" y="435.40" font-size="5.0" text-anchor="middle" fill="#222" font-family="Liberation Serif, serif" style="font-family:'Liberation Serif',serif" textLength="23.0" lengthAdjust="spacingAndGlyphs">p=0.0058</text>
<line x1="251.80" y1="543.80" x2="251.80" y2="654.50" stroke="#333" stroke-width="1.3" />
<line x1="251.20" y1="654.00" x2="360.80" y2="654.00" stroke="#333" stroke-width="1.3" />
<line x1="248.40" y1="654.00" x2="251.80" y2="654.00" stroke="#333" stroke-width="0.9" />
<text x="245.30" y="656.35" font-size="6.6" text-anchor="end" fill="#1a1a1a" stroke="#1a1a1a" stroke-width="0.14" textLength="7.8" lengthAdjust="spacingAndGlyphs" >0.0</text>
<line x1="248.40" y1="626.90" x2="251.80" y2="626.90" stroke="#333" stroke-width="0.9" />
<text x="245.30" y="629.25" font-size="6.6" text-anchor="end" fill="#1a1a1a" stroke="#1a1a1a" stroke-width="0.14" textLength="7.8" lengthAdjust="spacingAndGlyphs" >0.5</text>
<line x1="248.40" y1="599.80" x2="251.80" y2="599.80" stroke="#333" stroke-width="0.9" />
<text x="245.30" y="602.15" font-size="6.6" text-anchor="end" fill="#1a1a1a" stroke="#1a1a1a" stroke-width="0.14" textLength="7.8" lengthAdjust="spacingAndGlyphs" >1.0</text>
<line x1="248.40" y1="572.70" x2="251.80" y2="572.70" stroke="#333" stroke-width="0.9" />
<text x="245.30" y="575.05" font-size="6.6" text-anchor="end" fill="#1a1a1a" stroke="#1a1a1a" stroke-width="0.14" textLength="7.8" lengthAdjust="spacingAndGlyphs" >1.5</text>
<line x1="248.40" y1="545.60" x2="251.80" y2="545.60" stroke="#333" stroke-width="0.9" />
<text x="245.30" y="547.95" font-size="6.6" text-anchor="end" fill="#1a1a1a" stroke="#1a1a1a" stroke-width="0.14" textLength="7.8" lengthAdjust="spacingAndGlyphs" >2.0</text>
<text x="0" y="0" font-size="7.8" fill="#1a1a1a" stroke="#1a1a1a" stroke-width="0.14" text-anchor="middle" transform="translate(231.10 598.60) rotate(-90)" textLength="39.5" lengthAdjust="spacingAndGlyphs">SP1 mRNA</text>
<line x1="270.00" y1="587.33" x2="270.00" y2="577.58" stroke="#222" stroke-width="0.9" />
<line x1="264.00" y1="577.58" x2="276.00" y2="577.58" stroke="#222" stroke-width="0.9" />
<rect x="257.40" y="587.33" width="25.20" height="66.67" fill="#a03545" stroke="#7c2030" stroke-width="0.8"/>
<line x1="270.00" y1="654.00" x2="270.00" y2="656.60" stroke="#222" stroke-width="0.8" />
<line x1="305.80" y1="584.08" x2="305.80" y2="572.70" stroke="#222" stroke-width="0.9" />
<line x1="299.80" y1="572.70" x2="311.80" y2="572.70" stroke="#222" stroke-width="0.9" />
<rect x="293.40" y="584.08" width="24.80" height="69.92" fill="#4f6482" stroke="#34486a" stroke-width="0.8"/>
<line x1="305.80" y1="654.00" x2="305.80" y2="656.60" stroke="#222" stroke-width="0.8" />
<line x1="342.20" y1="611.18" x2="342.20" y2="607.66" stroke="#222" stroke-width="0.9" />
<line x1="336.20" y1="607.66" x2="348.20" y2="607.66" stroke="#222" stroke-width="0.9" />
<rect x="329.80" y="611.18" width="24.80" height="42.82" fill="#7aaa5c" stroke="#5b8c42" stroke-width="0.8"/>
<line x1="342.20" y1="654.00" x2="342.20" y2="656.60" stroke="#222" stroke-width="0.8" />
<text x="270.00" y="666.50" font-size="6.3" text-anchor="middle" fill="#1a1a1a" stroke="#1a1a1a" stroke-width="0.14" textLength="11" lengthAdjust="spacingAndGlyphs" >Veh</text>
<text x="305.80" y="666.50" font-size="6.3" text-anchor="middle" fill="#1a1a1a" stroke="#1a1a1a" stroke-width="0.14" textLength="7.3" lengthAdjust="spacingAndGlyphs" >SC</text>
<text x="342.20" y="666.50" font-size="6.3" text-anchor="middle" fill="#1a1a1a" stroke="#1a1a1a" stroke-width="0.14" textLength="24.3" lengthAdjust="spacingAndGlyphs" >miR-29b</text>
<path d="M306.3 566.3 L306.3 561 L343.2 561 L343.2 574" fill="none" stroke="#222" stroke-width="0.9"/>
<text x="324.75" y="556.40" font-size="5.0" text-anchor="middle" fill="#222" font-family="Liberation Serif, serif" style="font-family:'Liberation Serif',serif" textLength="20.2" lengthAdjust="spacingAndGlyphs">p=0.024</text>
<line x1="402.50" y1="543.80" x2="402.50" y2="654.50" stroke="#333" stroke-width="1.3" />
<line x1="401.90" y1="654.00" x2="513.00" y2="654.00" stroke="#333" stroke-width="1.3" />
<line x1="399.10" y1="654.00" x2="402.50" y2="654.00" stroke="#333" stroke-width="0.9" />
<text x="396.00" y="656.35" font-size="6.6" text-anchor="end" fill="#1a1a1a" stroke="#1a1a1a" stroke-width="0.14" textLength="7.8" lengthAdjust="spacingAndGlyphs" >0.0</text>
<line x1="399.10" y1="622.60" x2="402.50" y2="622.60" stroke="#333" stroke-width="0.9" />
<text x="396.00" y="624.95" font-size="6.6" text-anchor="end" fill="#1a1a1a" stroke="#1a1a1a" stroke-width="0.14" textLength="7.8" lengthAdjust="spacingAndGlyphs" >0.5</text>
<line x1="399.10" y1="591.20" x2="402.50" y2="591.20" stroke="#333" stroke-width="0.9" />
<text x="396.00" y="593.55" font-size="6.6" text-anchor="end" fill="#1a1a1a" stroke="#1a1a1a" stroke-width="0.14" textLength="7.8" lengthAdjust="spacingAndGlyphs" >1.0</text>
<line x1="399.10" y1="559.80" x2="402.50" y2="559.80" stroke="#333" stroke-width="0.9" />
<text x="396.00" y="562.15" font-size="6.6" text-anchor="end" fill="#1a1a1a" stroke="#1a1a1a" stroke-width="0.14" textLength="7.8" lengthAdjust="spacingAndGlyphs" >1.5</text>
<text x="0" y="0" font-size="7.8" fill="#1a1a1a" stroke="#1a1a1a" stroke-width="0.14" text-anchor="middle" transform="translate(381.00 599.10) rotate(-90)" textLength="50.7" lengthAdjust="spacingAndGlyphs">CTLA4 mRNA</text>
<line x1="421.05" y1="591.83" x2="421.05" y2="589.00" stroke="#222" stroke-width="0.9" />
<line x1="415.05" y1="589.00" x2="427.05" y2="589.00" stroke="#222" stroke-width="0.9" />
<rect x="408.70" y="591.83" width="24.70" height="62.17" fill="#a03545" stroke="#7c2030" stroke-width="0.8"/>
<line x1="421.05" y1="654.00" x2="421.05" y2="656.60" stroke="#222" stroke-width="0.8" />
<line x1="457.40" y1="591.83" x2="457.40" y2="585.74" stroke="#222" stroke-width="0.9" />
<line x1="451.40" y1="585.74" x2="463.40" y2="585.74" stroke="#222" stroke-width="0.9" />
<rect x="445.00" y="591.83" width="24.80" height="62.17" fill="#4f6482" stroke="#34486a" stroke-width="0.8"/>
<line x1="457.40" y1="654.00" x2="457.40" y2="656.60" stroke="#222" stroke-width="0.8" />
<line x1="494.10" y1="623.23" x2="494.10" y2="621.53" stroke="#222" stroke-width="0.9" />
<line x1="488.10" y1="621.53" x2="500.10" y2="621.53" stroke="#222" stroke-width="0.9" />
<rect x="481.60" y="623.23" width="25.00" height="30.77" fill="#7aaa5c" stroke="#5b8c42" stroke-width="0.8"/>
<line x1="494.10" y1="654.00" x2="494.10" y2="656.60" stroke="#222" stroke-width="0.8" />
<text x="421.05" y="666.50" font-size="6.3" text-anchor="middle" fill="#1a1a1a" stroke="#1a1a1a" stroke-width="0.14" textLength="11" lengthAdjust="spacingAndGlyphs" >Veh</text>
<text x="457.40" y="666.50" font-size="6.3" text-anchor="middle" fill="#1a1a1a" stroke="#1a1a1a" stroke-width="0.14" textLength="7.3" lengthAdjust="spacingAndGlyphs" >SC</text>
<text x="494.10" y="666.50" font-size="6.3" text-anchor="middle" fill="#1a1a1a" stroke="#1a1a1a" stroke-width="0.14" textLength="24.3" lengthAdjust="spacingAndGlyphs" >miR-29b</text>
<path d="M457.5 579.8 L457.5 574.3 L494.5 574.3 L494.5 582.3" fill="none" stroke="#222" stroke-width="0.9"/>
<text x="476.00" y="569.70" font-size="5.0" text-anchor="middle" fill="#222" font-family="Liberation Serif, serif" style="font-family:'Liberation Serif',serif" textLength="23.0" lengthAdjust="spacingAndGlyphs">p=0.0018</text>
<rect x="0.00" y="0.00" width="520.00" height="1.60" fill="#505050" />
<rect x="0.00" y="0.00" width="1.70" height="676.00" fill="#505050" />
<rect x="518.80" y="0.00" width="1.20" height="676.00" fill="#2a2a2a" />
<rect x="0.00" y="673.70" width="520.00" height="2.30" fill="#474747" />
</svg></body></html>
